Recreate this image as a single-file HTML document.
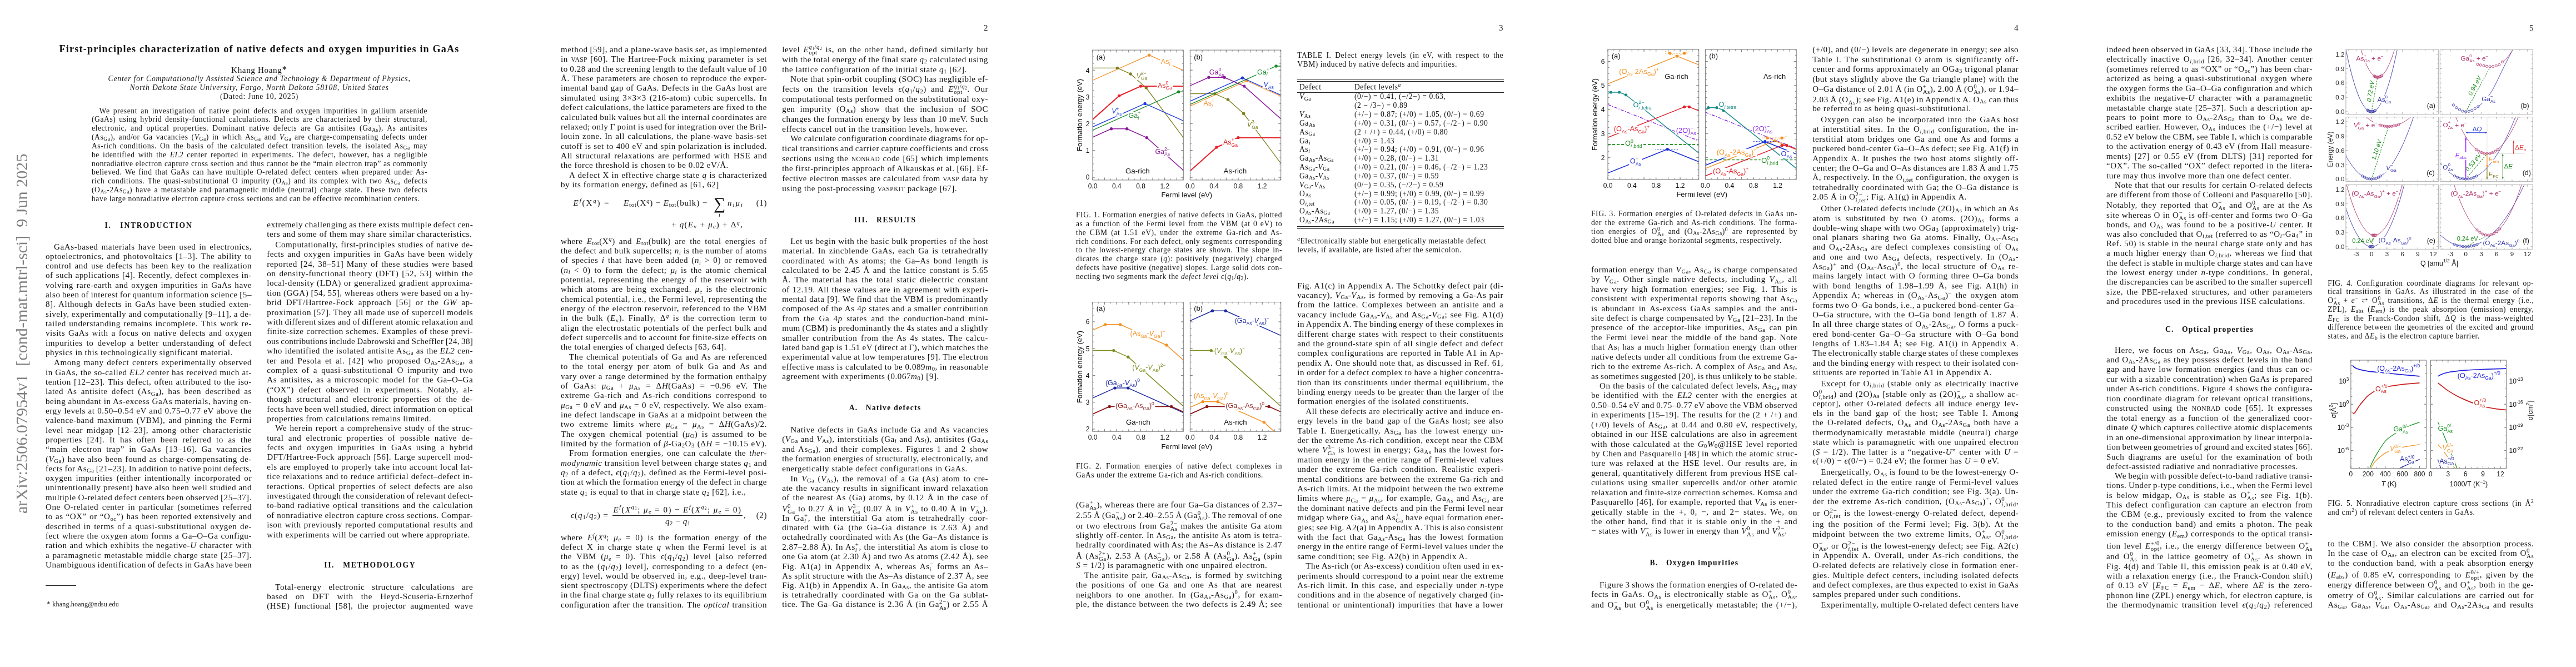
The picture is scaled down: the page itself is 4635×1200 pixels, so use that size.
<!DOCTYPE html><html><head><meta charset="utf-8"><title>paper</title><style>
html,body{margin:0;padding:0;background:#fff}
body{width:4635px;height:1200px;position:relative;overflow:hidden;font-family:"Liberation Serif",serif;color:#111}
.pg{position:absolute;top:0;width:927px;height:1200px;overflow:hidden;will-change:transform}
.l{position:absolute;white-space:nowrap;line-height:0;height:0}
.bd{font-size:15.1px}.sm{font-size:13.6px}.smi{font-size:13.6px;font-style:italic}
.title{font-size:18.1px;font-weight:bold}.sec{font-size:13.6px;font-weight:bold;white-space:pre}
.fn{font-size:12.1px}.sum{font-size:30px}.sub{font-size:10.6px}
sub,sup{font-size:70%;line-height:0;vertical-align:baseline;position:relative}
sub{top:0.22em}sup{top:-0.52em}
sub sub{top:0.2em}sup sub{top:0.2em}
.ss{display:inline-block;vertical-align:baseline;line-height:0;height:0;font-size:72%;text-align:left}
.ss .su,.ss .sb{display:block;height:0;position:relative;white-space:nowrap}
.ss .su{top:-0.55em}.ss .sb{top:0.38em}
.sc{font-size:76%;text-transform:uppercase;letter-spacing:0.4px}
.up{font-style:normal}
.ts{display:inline-block;width:0.15em}
.hr{position:absolute;height:0;border-top:1px solid #222}
i{font-style:italic}
.mk{display:inline-block;width:0;height:0}
svg{position:absolute;overflow:visible}
svg text{font-family:"Liberation Sans",sans-serif}
</style></head><body>
<div class="pg" style="left:0px">
<div class="l sm" style="left:178.60px;top:199.50px;word-spacing:2.449px;letter-spacing:0.55px">We present an investigation of native point defects and oxygen impurities in gallium arsenide</div>
<div class="l sm" style="left:165.00px;top:215.34px;word-spacing:1.959px;letter-spacing:0.55px">(GaAs) using hybrid density-functional calculations. Defects are characterized by their structural,</div>
<div class="l sm" style="left:165.00px;top:231.19px;word-spacing:3.135px;letter-spacing:0.55px">electronic, and optical properties. Dominant native defects are Ga antisites (Ga<sub>As</sub>), As antisites</div>
<div class="l sm" style="left:165.00px;top:247.03px;word-spacing:2.135px;letter-spacing:0.55px">(As<sub>Ga</sub>), and/or Ga vacancies (<i>V</i><sub>Ga</sub>) in which As<sub>Ga</sub> and <i>V</i><sub>Ga</sub> are charge-compensating defects under</div>
<div class="l sm" style="left:165.00px;top:262.86px;word-spacing:2.204px;letter-spacing:0.55px">As-rich conditions. On the basis of the calculated defect transition levels, the isolated As<sub>Ga</sub> may</div>
<div class="l sm" style="left:165.00px;top:278.70px;word-spacing:2.192px;letter-spacing:0.55px">be identified with the <i>EL2</i> center reported in experiments. The defect, however, has a negligible</div>
<div class="l sm" style="left:165.00px;top:294.55px;word-spacing:0.158px;letter-spacing:0.55px">nonradiative electron capture cross section and thus cannot be the “main electron trap” as commonly</div>
<div class="l sm" style="left:165.00px;top:310.39px;word-spacing:1.773px;letter-spacing:0.55px">believed. We find that GaAs can have multiple O-related defect centers when prepared under As-</div>
<div class="l sm" style="left:165.00px;top:326.22px;word-spacing:1.891px;letter-spacing:0.55px">rich conditions. The quasi-substitutional O impurity (O<sub>As</sub>) and its complex with two As<sub>Ga</sub> defects</div>
<div class="l sm" style="left:165.00px;top:342.06px;word-spacing:1.780px;letter-spacing:0.55px">(O<sub>As</sub>-2As<sub>Ga</sub>) have a metastable and paramagnetic middle (neutral) charge state. These two defects</div>
<div class="l sm" style="left:165.00px;top:357.91px;letter-spacing:0.55px">have large nonradiative electron capture cross sections and can be effective recombination centers.</div>
<div class="l bd" style="left:97.10px;top:443.51px;word-spacing:1.762px;letter-spacing:0.55px">GaAs-based materials have been used in electronics,</div>
<div class="l bd" style="left:82.00px;top:460.82px;word-spacing:1.414px;letter-spacing:0.55px">optoelectronics, and photovoltaics [1–3]. The ability to</div>
<div class="l bd" style="left:82.00px;top:478.12px;word-spacing:1.677px;letter-spacing:0.55px">control and use defects has been key to the realization</div>
<div class="l bd" style="left:82.00px;top:495.43px;word-spacing:0.658px;letter-spacing:0.55px">of such applications [4]. Recently, defect complexes in-</div>
<div class="l bd" style="left:82.00px;top:512.75px;word-spacing:1.232px;letter-spacing:0.55px">volving rare-earth and oxygen impurities in GaAs have</div>
<div class="l bd" style="left:82.00px;top:530.06px;letter-spacing:0.547px;word-spacing:-0.800px">also been of interest for quantum information science [5–</div>
<div class="l bd" style="left:82.00px;top:547.36px;word-spacing:1.496px;letter-spacing:0.55px">8]. Although defects in GaAs have been studied exten-</div>
<div class="l bd" style="left:82.00px;top:564.67px;word-spacing:-0.188px;letter-spacing:0.55px">sively, experimentally and computationally [9–11], a de-</div>
<div class="l bd" style="left:82.00px;top:581.97px;word-spacing:1.112px;letter-spacing:0.55px">tailed understanding remains incomplete. This work re-</div>
<div class="l bd" style="left:82.00px;top:599.28px;word-spacing:1.608px;letter-spacing:0.55px">visits GaAs with a focus on native defects and oxygen</div>
<div class="l bd" style="left:82.00px;top:616.60px;word-spacing:2.592px;letter-spacing:0.55px">impurities to develop a better understanding of defect</div>
<div class="l bd" style="left:82.00px;top:633.91px;letter-spacing:0.55px">physics in this technologically significant material.</div>
<div class="l bd" style="left:97.10px;top:652.21px;word-spacing:1.330px;letter-spacing:0.55px">Among many defect centers experimentally observed</div>
<div class="l bd" style="left:82.00px;top:669.54px;word-spacing:0.139px;letter-spacing:0.55px">in GaAs, the so-called <i>EL2</i> center has received much at-</div>
<div class="l bd" style="left:82.00px;top:686.87px;word-spacing:0.818px;letter-spacing:0.55px">tention [12–23]. This defect, often attributed to the iso-</div>
<div class="l bd" style="left:82.00px;top:704.20px;word-spacing:2.928px;letter-spacing:0.55px">lated As antisite defect (As<sub>Ga</sub>), has been described as</div>
<div class="l bd" style="left:82.00px;top:721.53px;word-spacing:0.013px;letter-spacing:0.55px">being abundant in As-excess GaAs materials, having en-</div>
<div class="l bd" style="left:82.00px;top:738.84px;word-spacing:0.335px;letter-spacing:0.55px">ergy levels at 0.50–0.54 eV and 0.75–0.77 eV above the</div>
<div class="l bd" style="left:82.00px;top:756.17px;word-spacing:1.521px;letter-spacing:0.55px">valence-band maximum (VBM), and pinning the Fermi</div>
<div class="l bd" style="left:82.00px;top:773.51px;word-spacing:2.422px;letter-spacing:0.55px">level near midgap [12–23], among other characteristic</div>
<div class="l bd" style="left:82.00px;top:790.84px;word-spacing:4.363px;letter-spacing:0.55px">properties [24]. It has often been referred to as the</div>
<div class="l bd" style="left:82.00px;top:808.17px;word-spacing:3.929px;letter-spacing:0.55px">“main electron trap” in GaAs [13–16]. Ga vacancies</div>
<div class="l bd" style="left:82.00px;top:825.50px;word-spacing:0.951px;letter-spacing:0.55px">(<i>V</i><sub>Ga</sub>) have also been found as charge-compensating de-</div>
<div class="l bd" style="left:82.00px;top:842.81px;letter-spacing:0.502px;word-spacing:-0.800px">fects for As<sub>Ga</sub> [21–23]. In addition to native point defects,</div>
<div class="l bd" style="left:82.00px;top:860.14px;word-spacing:2.341px;letter-spacing:0.55px">oxygen impurities (either intentionally incorporated or</div>
<div class="l bd" style="left:82.00px;top:877.47px;word-spacing:0.156px;letter-spacing:0.55px">unintentionally present) have also been well studied and</div>
<div class="l bd" style="left:82.00px;top:894.82px;word-spacing:-0.646px;letter-spacing:0.55px">multiple O-related defect centers been observed [25–37].</div>
<div class="l bd" style="left:82.00px;top:912.15px;word-spacing:2.125px;letter-spacing:0.55px">One O-related center in particular (sometimes referred</div>
<div class="l bd" style="left:82.00px;top:929.46px;word-spacing:0.722px;letter-spacing:0.55px">to as “OX” or “O<sub>oc</sub>”) has been reported extensively and</div>
<div class="l bd" style="left:82.00px;top:946.79px;word-spacing:1.431px;letter-spacing:0.55px">described in terms of a quasi-substitutional oxygen de-</div>
<div class="l bd" style="left:82.00px;top:964.12px;word-spacing:0.746px;letter-spacing:0.55px">fect where the oxygen atom forms a Ga–O–Ga configu-</div>
<div class="l bd" style="left:82.00px;top:981.45px;word-spacing:0.719px;letter-spacing:0.55px">ration and which exhibits the negative-<i>U</i> character with</div>
<div class="l bd" style="left:82.00px;top:998.77px;word-spacing:0.839px;letter-spacing:0.55px">a paramagnetic metastable middle charge state [25–37].</div>
<div class="l bd" style="left:82.00px;top:1016.10px;letter-spacing:0.484px;word-spacing:-0.800px">Unambiguous identification of defects in GaAs have been</div>
<div class="l bd" style="left:480.20px;top:403.60px;letter-spacing:0.503px;word-spacing:-0.800px">extremely challenging as there exists multiple defect cen-</div>
<div class="l bd" style="left:480.20px;top:421.01px;letter-spacing:0.55px">ters and some of them may share similar characteristics.</div>
<div class="l bd" style="left:495.30px;top:439.82px;word-spacing:0.602px;letter-spacing:0.55px">Computationally, first-principles studies of native de-</div>
<div class="l bd" style="left:480.20px;top:457.20px;word-spacing:1.512px;letter-spacing:0.55px">fects and oxygen impurities in GaAs have been widely</div>
<div class="l bd" style="left:480.20px;top:474.59px;word-spacing:1.287px;letter-spacing:0.55px">reported [24, 38–51] Many of these studies were based</div>
<div class="l bd" style="left:480.20px;top:491.99px;word-spacing:1.688px;letter-spacing:0.55px">on density-functional theory (DFT) [52, 53] within the</div>
<div class="l bd" style="left:480.20px;top:509.38px;word-spacing:0.450px;letter-spacing:0.55px">local-density (LDA) or generalized gradient approxima-</div>
<div class="l bd" style="left:480.20px;top:526.78px;word-spacing:-0.295px;letter-spacing:0.55px">tion (GGA) [54, 55], whereas others were based on a hy-</div>
<div class="l bd" style="left:480.20px;top:544.18px;word-spacing:3.703px;letter-spacing:0.55px">brid DFT/Hartree-Fock approach [56] or the <i>GW</i> ap-</div>
<div class="l bd" style="left:480.20px;top:561.56px;word-spacing:-0.180px;letter-spacing:0.55px">proximation [57]. They all made use of supercell models</div>
<div class="l bd" style="left:480.20px;top:578.95px;letter-spacing:0.510px;word-spacing:-0.800px">with different sizes and of different atomic relaxation and</div>
<div class="l bd" style="left:480.20px;top:596.35px;word-spacing:0.328px;letter-spacing:0.55px">finite-size correction schemes. Examples of these previ-</div>
<div class="l bd" style="left:480.20px;top:613.75px;letter-spacing:0.311px;word-spacing:-0.800px">ous contributions include Dabrowski and Scheffler [24, 38]</div>
<div class="l bd" style="left:480.20px;top:631.14px;word-spacing:0.273px;letter-spacing:0.55px">who identified the isolated antisite As<sub>Ga</sub> as the <i>EL2</i> cen-</div>
<div class="l bd" style="left:480.20px;top:648.54px;word-spacing:2.719px;letter-spacing:0.55px">ter and Pesola et al. [42] who proposed O<sub>As</sub>-2As<sub>Ga</sub>, a</div>
<div class="l bd" style="left:480.20px;top:665.92px;word-spacing:2.741px;letter-spacing:0.55px">complex of a quasi-substitutional O impurity and two</div>
<div class="l bd" style="left:480.20px;top:683.31px;word-spacing:1.773px;letter-spacing:0.55px">As antisites, as a microscopic model for the Ga–O–Ga</div>
<div class="l bd" style="left:480.20px;top:700.71px;word-spacing:4.513px;letter-spacing:0.55px">(“OX”) defect observed in experiments. Notably, al-</div>
<div class="l bd" style="left:480.20px;top:718.09px;word-spacing:3.431px;letter-spacing:0.55px">though structural and electronic properties of the de-</div>
<div class="l bd" style="left:480.20px;top:735.50px;letter-spacing:0.451px;word-spacing:-0.800px">fects have been well studied, direct information on optical</div>
<div class="l bd" style="left:480.20px;top:752.90px;letter-spacing:0.55px">properties from calculations remains limited.</div>
<div class="l bd" style="left:495.30px;top:770.28px;word-spacing:0.933px;letter-spacing:0.55px">We herein report a comprehensive study of the struc-</div>
<div class="l bd" style="left:480.20px;top:787.67px;word-spacing:3.911px;letter-spacing:0.55px">tural and electronic properties of possible native de-</div>
<div class="l bd" style="left:480.20px;top:805.07px;word-spacing:4.057px;letter-spacing:0.55px">fects and oxygen impurities in GaAs using a hybrid</div>
<div class="l bd" style="left:480.20px;top:822.45px;word-spacing:0.975px;letter-spacing:0.55px">DFT/Hartree-Fock approach [56]. Large supercell mod-</div>
<div class="l bd" style="left:480.20px;top:839.85px;word-spacing:0.344px;letter-spacing:0.55px">els are employed to properly take into account local lat-</div>
<div class="l bd" style="left:480.20px;top:857.26px;word-spacing:0.172px;letter-spacing:0.55px">tice relaxations and to reduce artificial defect–defect in-</div>
<div class="l bd" style="left:480.20px;top:874.64px;word-spacing:1.942px;letter-spacing:0.55px">teractions. Optical properties of select defects are also</div>
<div class="l bd" style="left:480.20px;top:892.04px;letter-spacing:0.525px;word-spacing:-0.800px">investigated through the consideration of relevant defect-</div>
<div class="l bd" style="left:480.20px;top:909.43px;word-spacing:1.281px;letter-spacing:0.55px">to-band radiative optical transitions and the calculation</div>
<div class="l bd" style="left:480.20px;top:926.81px;word-spacing:-0.042px;letter-spacing:0.55px">of nonradiative electron capture cross sections. Compar-</div>
<div class="l bd" style="left:480.20px;top:944.21px;word-spacing:0.758px;letter-spacing:0.55px">ison with previously reported computational results and</div>
<div class="l bd" style="left:480.20px;top:961.60px;letter-spacing:0.55px">with experiments will be carried out where appropriate.</div>
<div class="l bd" style="left:495.30px;top:1055.71px;word-spacing:8.467px;letter-spacing:0.55px">Total-energy electronic structure calculations are</div>
<div class="l bd" style="left:480.20px;top:1072.91px;word-spacing:10.037px;letter-spacing:0.55px">based on DFT with the Heyd-Scuseria-Ernzerhof</div>
<div class="l bd" style="left:480.20px;top:1090.10px;word-spacing:3.440px;letter-spacing:0.55px">(HSE) functional [58], the projector augmented wave</div>
<div class="l title" style="left:106.60px;top:87.52px;letter-spacing:1.189px">First-principles characterization of native defects and oxygen impurities in GaAs</div>
<div class="l bd" style="left:416.10px;top:126.01px;letter-spacing:0.644px">Khang Hoang<sup>∗</sup></div>
<div class="l smi" style="left:194.60px;top:142.41px;letter-spacing:0.800px">Center for Computationally Assisted Science and Technology &amp; Department of Physics,</div>
<div class="l smi" style="left:233.60px;top:158.31px;letter-spacing:0.869px">North Dakota State University, Fargo, North Dakota 58108, United States</div>
<div class="l sm" style="left:396.10px;top:174.20px;letter-spacing:0.746px">(Dated: June 10, 2025)</div>
<div class="l sec" style="left:188.50px;top:405.50px;letter-spacing:1.785px">I.   INTRODUCTION</div>
<div class="l sec" style="left:583.20px;top:1017.00px;letter-spacing:1.664px">II.   METHODOLOGY</div>
<div class="l fn" style="left:84.00px;top:1087.01px;letter-spacing:0.153px"><sup>∗</sup> khang.hoang@ndsu.edu</div>
<div class="hr" style="left:82.0px;top:1053.10px;width:54.6px;border-top-width:1.0px"></div>
<svg width="927" height="1200" viewBox="0 0 927 1200" style="left:0;top:0"><text xml:space="preserve" x="49" y="924" transform="rotate(-90 49 924)" font-size="30.3" letter-spacing="-0.075" fill="#808080" style="font-family:'Liberation Serif',serif">arXiv:2506.07954v1  [cond-mat.mtrl-sci]  9 Jun 2025</text></svg>
</div>
<div class="pg" style="left:927px">
<div class="l bd" style="left:82.00px;top:89.01px;word-spacing:-0.475px;letter-spacing:0.55px">method [59], and a plane-wave basis set, as implemented</div>
<div class="l bd" style="left:82.00px;top:106.37px;word-spacing:1.199px;letter-spacing:0.55px">in <span class="sc">vasp</span> [60]. The Hartree-Fock mixing parameter is set</div>
<div class="l bd" style="left:82.00px;top:123.72px;letter-spacing:0.541px;word-spacing:-0.800px">to 0.28 and the screening length to the default value of 10</div>
<div class="l bd" style="left:82.00px;top:141.08px;word-spacing:0.670px;letter-spacing:0.55px">Å. These parameters are chosen to reproduce the exper-</div>
<div class="l bd" style="left:82.00px;top:158.43px;word-spacing:0.220px;letter-spacing:0.55px">imental band gap of GaAs. Defects in the GaAs host are</div>
<div class="l bd" style="left:82.00px;top:175.79px;word-spacing:1.810px;letter-spacing:0.55px">simulated using 3×3×3 (216-atom) cubic supercells. In</div>
<div class="l bd" style="left:82.00px;top:193.14px;word-spacing:-0.756px;letter-spacing:0.55px">defect calculations, the lattice parameters are fixed to the</div>
<div class="l bd" style="left:82.00px;top:210.51px;word-spacing:-0.641px;letter-spacing:0.55px">calculated bulk values but all the internal coordinates are</div>
<div class="l bd" style="left:82.00px;top:227.87px;letter-spacing:0.526px;word-spacing:-0.800px">relaxed; only Γ point is used for integration over the Bril-</div>
<div class="l bd" style="left:82.00px;top:245.22px;word-spacing:0.920px;letter-spacing:0.55px">louin zone. In all calculations, the plane-wave basis-set</div>
<div class="l bd" style="left:82.00px;top:262.58px;word-spacing:0.220px;letter-spacing:0.55px">cutoff is set to 400 eV and spin polarization is included.</div>
<div class="l bd" style="left:82.00px;top:279.93px;word-spacing:2.071px;letter-spacing:0.55px">All structural relaxations are performed with HSE and</div>
<div class="l bd" style="left:82.00px;top:297.29px;letter-spacing:0.55px">the force threshold is chosen to be 0.02 eV/Å.</div>
<div class="l bd" style="left:97.10px;top:314.64px;word-spacing:0.437px;letter-spacing:0.55px">A defect X in effective charge state <i>q</i> is characterized</div>
<div class="l bd" style="left:82.00px;top:332.01px;letter-spacing:0.55px">by its formation energy, defined as [61, 62]</div>
<div class="l bd" style="left:82.00px;top:433.51px;word-spacing:2.709px;letter-spacing:0.55px">where <i>E</i><sub>tot</sub>(X<sup><i>q</i></sup>) and <i>E</i><sub>tot</sub>(bulk) are the total energies of</div>
<div class="l bd" style="left:82.00px;top:450.87px;word-spacing:-0.033px;letter-spacing:0.55px">the defect and bulk supercells; <i>n</i><sub><i>i</i></sub> is the number of atoms</div>
<div class="l bd" style="left:82.00px;top:468.23px;word-spacing:2.028px;letter-spacing:0.55px">of species <i>i</i> that have been added (<i>n</i><sub><i>i</i></sub> &gt; 0) or removed</div>
<div class="l bd" style="left:82.00px;top:485.58px;word-spacing:2.544px;letter-spacing:0.55px">(<i>n</i><sub><i>i</i></sub> &lt; 0) to form the defect; <i>μ</i><sub><i>i</i></sub> is the atomic chemical</div>
<div class="l bd" style="left:82.00px;top:502.94px;word-spacing:1.696px;letter-spacing:0.55px">potential, representing the energy of the reservoir with</div>
<div class="l bd" style="left:82.00px;top:520.29px;word-spacing:2.268px;letter-spacing:0.55px">which atoms are being exchanged. <i>μ</i><sub><i>e</i></sub> is the electronic</div>
<div class="l bd" style="left:82.00px;top:537.65px;word-spacing:-0.254px;letter-spacing:0.55px">chemical potential, i.e., the Fermi level, representing the</div>
<div class="l bd" style="left:82.00px;top:555.01px;word-spacing:0.672px;letter-spacing:0.55px">energy of the electron reservoir, referenced to the VBM</div>
<div class="l bd" style="left:82.00px;top:572.36px;word-spacing:2.798px;letter-spacing:0.55px">in the bulk (<i>E</i><sub>v</sub>). Finally, Δ<sup><i>q</i></sup> is the correction term to</div>
<div class="l bd" style="left:82.00px;top:589.73px;word-spacing:0.895px;letter-spacing:0.55px">align the electrostatic potentials of the perfect bulk and</div>
<div class="l bd" style="left:82.00px;top:607.09px;word-spacing:-0.289px;letter-spacing:0.55px">defect supercells and to account for finite-size effects on</div>
<div class="l bd" style="left:82.00px;top:624.44px;letter-spacing:0.55px">the total energies of charged defects [63, 64].</div>
<div class="l bd" style="left:97.10px;top:641.80px;word-spacing:1.378px;letter-spacing:0.55px">The chemical potentials of Ga and As are referenced</div>
<div class="l bd" style="left:82.00px;top:659.16px;word-spacing:3.473px;letter-spacing:0.55px">to the total energy per atom of bulk Ga and As and</div>
<div class="l bd" style="left:82.00px;top:676.51px;word-spacing:0.541px;letter-spacing:0.55px">vary over a range determined by the formation enthalpy</div>
<div class="l bd" style="left:82.00px;top:693.87px;word-spacing:4.998px;letter-spacing:0.55px">of GaAs: <i>μ</i><sub>Ga</sub> + <i>μ</i><sub>As</sub> = Δ<i>H</i>(GaAs) = −0.96 eV. The</div>
<div class="l bd" style="left:82.00px;top:711.22px;word-spacing:2.857px;letter-spacing:0.55px">extreme Ga-rich and As-rich conditions correspond to</div>
<div class="l bd" style="left:82.00px;top:728.60px;word-spacing:0.741px;letter-spacing:0.55px"><i>μ</i><sub>Ga</sub> = 0 eV and <i>μ</i><sub>As</sub> = 0 eV, respectively. We also exam-</div>
<div class="l bd" style="left:82.00px;top:745.95px;word-spacing:0.620px;letter-spacing:0.55px">ine defect landscape in GaAs at a midpoint between the</div>
<div class="l bd" style="left:82.00px;top:763.31px;word-spacing:4.383px;letter-spacing:0.55px">two extreme limits where <i>μ</i><sub>Ga</sub> = <i>μ</i><sub>As</sub> = Δ<i>H</i>(GaAs)/2.</div>
<div class="l bd" style="left:82.00px;top:780.66px;word-spacing:3.031px;letter-spacing:0.55px">The oxygen chemical potential (<i>μ</i><sub>O</sub>) is assumed to be</div>
<div class="l bd" style="left:82.00px;top:798.02px;word-spacing:0.536px;letter-spacing:0.55px">limited by the formation of <i>β</i>-Ga<sub>2</sub>O<sub>3</sub> (Δ<i>H</i> = −10.15 eV).</div>
<div class="l bd" style="left:97.10px;top:815.38px;word-spacing:1.573px;letter-spacing:0.55px">From formation energies, one can calculate the <i>ther-</i></div>
<div class="l bd" style="left:82.00px;top:832.73px;word-spacing:-0.004px;letter-spacing:0.55px"><i>modynamic</i> transition level between charge states <i>q</i><sub>1</sub> and</div>
<div class="l bd" style="left:82.00px;top:850.09px;word-spacing:0.628px;letter-spacing:0.55px"><i>q</i><sub>2</sub> of a defect, <i>ϵ</i>(<i>q</i><sub>1</sub>/<i>q</i><sub>2</sub>), defined as the Fermi-level posi-</div>
<div class="l bd" style="left:82.00px;top:867.44px;letter-spacing:0.546px;word-spacing:-0.800px">tion at which the formation energy of the defect in charge</div>
<div class="l bd" style="left:82.00px;top:884.82px;letter-spacing:0.55px">state <i>q</i><sub>1</sub> is equal to that in charge state <i>q</i><sub>2</sub> [62], i.e.,</div>
<div class="l bd" style="left:82.00px;top:967.01px;word-spacing:3.919px;letter-spacing:0.55px">where <i>E</i><sup><i>f</i></sup>(<i>X</i><sup><i>q</i></sup>; <i>μ</i><sub><i>e</i></sub> = 0) is the formation energy of the</div>
<div class="l bd" style="left:82.00px;top:984.22px;word-spacing:2.561px;letter-spacing:0.55px">defect X in charge state <i>q</i> when the Fermi level is at</div>
<div class="l bd" style="left:82.00px;top:1001.43px;word-spacing:3.849px;letter-spacing:0.55px">the VBM (<i>μ</i><sub><i>e</i></sub> = 0). This <i>ϵ</i>(<i>q</i><sub>1</sub>/<i>q</i><sub>2</sub>) level [also referred</div>
<div class="l bd" style="left:82.00px;top:1018.64px;word-spacing:2.160px;letter-spacing:0.55px">to as the (<i>q</i><sub>1</sub>/<i>q</i><sub>2</sub>) level], corresponding to a defect (en-</div>
<div class="l bd" style="left:82.00px;top:1035.87px;word-spacing:0.736px;letter-spacing:0.55px">ergy) level, would be observed in, e.g., deep-level tran-</div>
<div class="l bd" style="left:82.00px;top:1053.08px;word-spacing:-0.167px;letter-spacing:0.55px">sient spectroscopy (DLTS) experiments where the defect</div>
<div class="l bd" style="left:82.00px;top:1070.29px;word-spacing:-0.628px;letter-spacing:0.55px">in the final charge state <i>q</i><sub>2</sub> fully relaxes to its equilibrium</div>
<div class="l bd" style="left:82.00px;top:1087.51px;word-spacing:1.021px;letter-spacing:0.55px">configuration after the transition. The <i>optical</i> transition</div>
<div class="l bd" style="left:480.20px;top:89.01px;word-spacing:1.766px;letter-spacing:0.55px">level <i>E</i><span class="ss"><span class="su"><i>q</i><sub>1</sub>/<i>q</i><sub>2</sub></span><span class="sb">opt</span></span> is, on the other hand, defined similarly but</div>
<div class="l bd" style="left:480.20px;top:106.83px;word-spacing:-0.570px;letter-spacing:0.55px">with the total energy of the final state <i>q</i><sub>2</sub> calculated using</div>
<div class="l bd" style="left:480.20px;top:124.64px;letter-spacing:0.55px">the lattice configuration of the initial state <i>q</i><sub>1</sub> [62].</div>
<div class="l bd" style="left:495.30px;top:142.47px;word-spacing:-0.050px;letter-spacing:0.55px">Note that spin-orbit coupling (SOC) has negligible ef-</div>
<div class="l bd" style="left:480.20px;top:160.29px;word-spacing:3.807px;letter-spacing:0.55px">fects on the transition levels <i>ϵ</i>(<i>q</i><sub>1</sub>/<i>q</i><sub>2</sub>) and <i>E</i><span class="ss"><span class="su"><i>q</i><sub>1</sub>/<i>q</i><sub>2</sub></span><span class="sb">opt</span></span>. Our</div>
<div class="l bd" style="left:480.20px;top:178.12px;word-spacing:-0.172px;letter-spacing:0.55px">computational tests performed on the substitutional oxy-</div>
<div class="l bd" style="left:480.20px;top:195.93px;word-spacing:4.645px;letter-spacing:0.55px">gen impurity (O<sub>As</sub>) show that the inclusion of SOC</div>
<div class="l bd" style="left:480.20px;top:213.76px;word-spacing:-0.023px;letter-spacing:0.55px">changes the formation energy by less than 10 meV. Such</div>
<div class="l bd" style="left:480.20px;top:231.58px;letter-spacing:0.55px">effects cancel out in the transition levels, however.</div>
<div class="l bd" style="left:495.30px;top:249.39px;letter-spacing:0.493px;word-spacing:-0.800px">We calculate configuration coordinate diagrams for op-</div>
<div class="l bd" style="left:480.20px;top:267.22px;letter-spacing:0.547px;word-spacing:-0.800px">tical transitions and carrier capture coefficients and cross</div>
<div class="l bd" style="left:480.20px;top:285.04px;word-spacing:1.011px;letter-spacing:0.55px">sections using the <span class="sc">nonrad</span> code [65] which implements</div>
<div class="l bd" style="left:480.20px;top:302.87px;word-spacing:-0.328px;letter-spacing:0.55px">the first-principles approach of Alkauskas et al. [66]. Ef-</div>
<div class="l bd" style="left:480.20px;top:320.68px;word-spacing:0.145px;letter-spacing:0.55px">fective electron masses are calculated from <span class="sc">vasp</span> data by</div>
<div class="l bd" style="left:480.20px;top:338.51px;letter-spacing:0.55px">using the post-processing <span class="sc">vaspkit</span> package [67].</div>
<div class="l bd" style="left:495.30px;top:433.82px;word-spacing:0.120px;letter-spacing:0.55px">Let us begin with the basic bulk properties of the host</div>
<div class="l bd" style="left:480.20px;top:451.17px;word-spacing:1.998px;letter-spacing:0.55px">material. In zincblende GaAs, each Ga is tetrahedrally</div>
<div class="l bd" style="left:480.20px;top:468.55px;word-spacing:2.518px;letter-spacing:0.55px">coordinated with As atoms; the Ga–As bond length is</div>
<div class="l bd" style="left:480.20px;top:485.92px;word-spacing:1.409px;letter-spacing:0.55px">calculated to be 2.45 Å and the lattice constant is 5.65</div>
<div class="l bd" style="left:480.20px;top:503.29px;word-spacing:2.377px;letter-spacing:0.55px">Å. The material has the total static dielectric constant</div>
<div class="l bd" style="left:480.20px;top:520.67px;word-spacing:0.590px;letter-spacing:0.55px">of 12.19. All these values are in agreement with experi-</div>
<div class="l bd" style="left:480.20px;top:538.04px;word-spacing:0.299px;letter-spacing:0.55px">mental data [9]. We find that the VBM is predominantly</div>
<div class="l bd" style="left:480.20px;top:555.41px;word-spacing:0.365px;letter-spacing:0.55px">composed of the As 4<i>p</i> states and a smaller contribution</div>
<div class="l bd" style="left:480.20px;top:572.77px;word-spacing:3.045px;letter-spacing:0.55px">from the Ga 4<i>p</i> states and the conduction-band mini-</div>
<div class="l bd" style="left:480.20px;top:590.14px;word-spacing:-0.571px;letter-spacing:0.55px">mum (CBM) is predominantly the 4<i>s</i> states and a slightly</div>
<div class="l bd" style="left:480.20px;top:607.53px;word-spacing:2.297px;letter-spacing:0.55px">smaller contribution from the As 4<i>s</i> states. The calcu-</div>
<div class="l bd" style="left:480.20px;top:624.89px;letter-spacing:0.542px;word-spacing:-0.800px">lated band gap is 1.51 eV (direct at Γ), which matches the</div>
<div class="l bd" style="left:480.20px;top:642.26px;word-spacing:-0.335px;letter-spacing:0.55px">experimental value at low temperatures [9]. The electron</div>
<div class="l bd" style="left:480.20px;top:659.65px;word-spacing:-0.084px;letter-spacing:0.55px">effective mass is calculated to be 0.089<i>m</i><sub>0</sub>, in reasonable</div>
<div class="l bd" style="left:480.20px;top:677.01px;letter-spacing:0.55px">agreement with experiments (0.067<i>m</i><sub>0</sub>) [9].</div>
<div class="l bd" style="left:495.30px;top:772.51px;word-spacing:1.337px;letter-spacing:0.55px">Native defects in GaAs include Ga and As vacancies</div>
<div class="l bd" style="left:480.20px;top:790.10px;word-spacing:0.527px;letter-spacing:0.55px">(<i>V</i><sub>Ga</sub> and <i>V</i><sub>As</sub>), interstitials (Ga<sub><i>i</i></sub> and As<sub><i>i</i></sub>), antisites (Ga<sub>As</sub></div>
<div class="l bd" style="left:480.20px;top:807.71px;word-spacing:1.974px;letter-spacing:0.55px">and As<sub>Ga</sub>), and their complexes. Figures 1 and 2 show</div>
<div class="l bd" style="left:480.20px;top:825.32px;word-spacing:-0.482px;letter-spacing:0.55px">the formation energies of structurally, electronically, and</div>
<div class="l bd" style="left:480.20px;top:842.91px;letter-spacing:0.55px">energetically stable defect configurations in GaAs.</div>
<div class="l bd" style="left:495.30px;top:860.51px;word-spacing:1.857px;letter-spacing:0.55px">In <i>V</i><sub>Ga</sub> (<i>V</i><sub>As</sub>), the removal of a Ga (As) atom to cre-</div>
<div class="l bd" style="left:480.20px;top:877.91px;word-spacing:1.598px;letter-spacing:0.55px">ate the vacancy results in significant inward relaxation</div>
<div class="l bd" style="left:480.20px;top:895.32px;word-spacing:1.475px;letter-spacing:0.55px">of the nearest As (Ga) atoms, by 0.12 Å in the case of</div>
<div class="l bd" style="left:480.20px;top:914.51px;word-spacing:1.254px;letter-spacing:0.55px"><i>V</i><span class="ss"><span class="su">0</span><span class="sb">Ga</span></span> to 0.27 Å in <i>V</i><span class="ss"><span class="su">3−</span><span class="sb">Ga</span></span> (0.07 Å in <i>V</i><span class="ss"><span class="su">+</span><span class="sb">As</span></span> to 0.40 Å in <i>V</i><span class="ss"><span class="su">−</span><span class="sb">As</span></span>).</div>
<div class="l bd" style="left:480.20px;top:931.60px;word-spacing:3.146px;letter-spacing:0.55px">In Ga<span class="ss"><span class="su">+</span><span class="sb"><i>i</i></span></span>, the interstitial Ga atom is tetrahedrally coor-</div>
<div class="l bd" style="left:480.20px;top:949.05px;word-spacing:3.424px;letter-spacing:0.55px">dinated with Ga (the Ga–Ga distance is 2.63 Å) and</div>
<div class="l bd" style="left:480.20px;top:966.49px;word-spacing:0.116px;letter-spacing:0.55px">octahedrally coordinated with As (the Ga–As distance is</div>
<div class="l bd" style="left:480.20px;top:983.93px;word-spacing:0.428px;letter-spacing:0.55px">2.87–2.88 Å). In As<span class="ss"><span class="su">+</span><span class="sb"><i>i</i></span></span>, the interstitial As atom is close to</div>
<div class="l bd" style="left:480.20px;top:1001.37px;word-spacing:0.112px;letter-spacing:0.55px">one Ga atom (at 2.30 Å) and two As atoms (2.42 Å), see</div>
<div class="l bd" style="left:480.20px;top:1018.82px;word-spacing:2.500px;letter-spacing:0.55px">Fig. A1(a) in Appendix A, whereas As<span class="ss"><span class="su">−</span><span class="sb"><i>i</i></span></span> forms an As–</div>
<div class="l bd" style="left:480.20px;top:1035.96px;word-spacing:-0.159px;letter-spacing:0.55px">As split structure with the As–As distance of 2.37 Å, see</div>
<div class="l bd" style="left:480.20px;top:1053.10px;word-spacing:0.411px;letter-spacing:0.55px">Fig. A1(b) in Appendix A. In Ga<sub>As</sub>, the antisite Ga atom</div>
<div class="l bd" style="left:480.20px;top:1070.26px;word-spacing:2.109px;letter-spacing:0.55px">is tetrahedrally coordinated with Ga on the Ga sublat-</div>
<div class="l bd" style="left:480.20px;top:1087.41px;word-spacing:0.918px;letter-spacing:0.55px">tice. The Ga–Ga distance is 2.36 Å (in Ga<span class="ss"><span class="su">2−</span><span class="sb">As</span></span>) or 2.55 Å</div>
<div class="l bd" style="left:843.09px;top:49.82px;letter-spacing:0.55px">2</div>
<div class="l sec" style="left:609.70px;top:396.20px;letter-spacing:1.559px">III.   RESULTS</div>
<div class="l sec" style="left:600.70px;top:734.31px;letter-spacing:1.339px">A.   Native defects</div>
<div class="l bd" style="left:104.50px;top:365.01px;letter-spacing:1.909px"><i>E</i><sup><i>f</i></sup>(X<sup><i>q</i></sup>) =</div>
<div class="l bd" style="left:195.00px;top:365.01px;letter-spacing:0.814px"><i>E</i><sub>tot</sub>(X<sup><i>q</i></sup>) − <i>E</i><sub>tot</sub>(bulk) −</div>
<div class="l bd" style="left:382.00px;top:365.01px;letter-spacing:1.988px"><i>n</i><sub><i>i</i></sub><i>μ</i><sub><i>i</i></sub></div>
<div class="l sum" style="left:357.00px;top:365.50px">∑</div>
<div class="l sub" style="left:366.00px;top:387.02px"><i>i</i></div>
<div class="l bd" style="left:433.75px;top:365.01px;letter-spacing:0.55px">(1)</div>
<div class="l bd" style="left:281.00px;top:404.01px;letter-spacing:1.187px">+ <i>q</i>(<i>E</i><sub>v</sub> + <i>μ</i><sub><i>e</i></sub>) + Δ<sup><i>q</i></sup>,</div>
<div class="l bd" style="left:100.00px;top:926.51px;letter-spacing:0.966px"><i>ϵ</i>(<i>q</i><sub>1</sub>/<i>q</i><sub>2</sub>) =</div>
<div class="l bd" style="left:176.50px;top:916.51px;letter-spacing:1.402px"><i>E</i><sup><i>f</i></sup>(<i>X</i><sup><i>q</i><sub>1</sub></sup>; <i>μ</i><sub><i>e</i></sub> = 0) − <i>E</i><sup><i>f</i></sup>(<i>X</i><sup><i>q</i><sub>2</sub></sup>; <i>μ</i><sub><i>e</i></sub> = 0)</div>
<div class="l bd" style="left:270.00px;top:937.51px;letter-spacing:0.55px"><i>q</i><sub>2</sub> − <i>q</i><sub>1</sub></div>
<div class="hr" style="left:175.0px;top:926.80px;width:234.0px;border-top-width:1.0px"></div>
<div class="l bd" style="left:411.00px;top:926.51px;letter-spacing:0.55px">,</div>
<div class="l bd" style="left:433.75px;top:926.51px;letter-spacing:0.55px">(2)</div>
</div>
<div class="pg" style="left:1854px">
<div class="l sm" style="left:82.00px;top:387.00px;word-spacing:0.441px;letter-spacing:0.55px">FIG. 1. Formation energies of native defects in GaAs, plotted</div>
<div class="l sm" style="left:82.00px;top:402.85px;word-spacing:1.507px;letter-spacing:0.55px">as a function of the Fermi level from the VBM (at 0 eV) to</div>
<div class="l sm" style="left:82.00px;top:418.69px;word-spacing:2.667px;letter-spacing:0.55px">the CBM (at 1.51 eV), under the extreme Ga-rich and As-</div>
<div class="l sm" style="left:82.00px;top:434.53px;word-spacing:-0.060px;letter-spacing:0.55px">rich conditions. For each defect, only segments corresponding</div>
<div class="l sm" style="left:82.00px;top:450.39px;word-spacing:1.964px;letter-spacing:0.55px">to the lowest-energy charge states are shown. The slope in-</div>
<div class="l sm" style="left:82.00px;top:466.23px;word-spacing:2.388px;letter-spacing:0.55px">dicates the charge state (<i>q</i>): positively (negatively) charged</div>
<div class="l sm" style="left:82.00px;top:482.06px;word-spacing:0.666px;letter-spacing:0.55px">defects have positive (negative) slopes. Large solid dots con-</div>
<div class="l sm" style="left:82.00px;top:497.91px;letter-spacing:0.55px">necting two segments mark the <i>defect level</i> <i>ϵ</i>(<i>q</i><sub>1</sub>/<i>q</i><sub>2</sub>).</div>
<div class="l sm" style="left:82.00px;top:839.00px;word-spacing:3.672px;letter-spacing:0.55px">FIG. 2. Formation energies of native defect complexes in</div>
<div class="l sm" style="left:82.00px;top:854.81px;letter-spacing:0.55px">GaAs under the extreme Ga-rich and As-rich conditions.</div>
<div class="l bd" style="left:82.00px;top:908.01px;word-spacing:-0.092px;letter-spacing:0.55px">(Ga<span class="ss"><span class="su">+</span><span class="sb">As</span></span>), whereas there are four Ga–Ga distances of 2.37–</div>
<div class="l bd" style="left:82.00px;top:927.01px;letter-spacing:0.543px;word-spacing:-0.800px">2.55 Å (Ga<span class="ss"><span class="su">−</span><span class="sb">As</span></span>) or 2.40–2.55 Å (Ga<span class="ss"><span class="su">0</span><span class="sb">As</span></span>). The removal of one</div>
<div class="l bd" style="left:82.00px;top:945.51px;word-spacing:1.200px;letter-spacing:0.55px">or two electrons from Ga<span class="ss"><span class="su">2−</span><span class="sb">As</span></span> makes the antisite Ga atom</div>
<div class="l bd" style="left:82.00px;top:963.01px;word-spacing:0.212px;letter-spacing:0.55px">slightly off-center. In As<sub>Ga</sub>, the antisite As atom is tetra-</div>
<div class="l bd" style="left:82.00px;top:980.32px;word-spacing:-0.287px;letter-spacing:0.55px">hedrally coordinated with As; the As–As distance is 2.47</div>
<div class="l bd" style="left:82.00px;top:999.51px;word-spacing:1.739px;letter-spacing:0.55px">Å (As<span class="ss"><span class="su">2+</span><span class="sb">Ga</span></span>), 2.53 Å (As<span class="ss"><span class="su">+</span><span class="sb">Ga</span></span>), or 2.58 Å (As<span class="ss"><span class="su">0</span><span class="sb">Ga</span></span>). As<span class="ss"><span class="su">+</span><span class="sb">Ga</span></span> (spin</div>
<div class="l bd" style="left:82.00px;top:1016.51px;letter-spacing:0.55px"><i>S</i> = 1/2) is paramagnetic with one unpaired electron.</div>
<div class="l bd" style="left:97.10px;top:1035.01px;word-spacing:1.785px;letter-spacing:0.55px">The antisite pair, Ga<sub>As</sub>-As<sub>Ga</sub>, is formed by switching</div>
<div class="l bd" style="left:82.00px;top:1052.21px;word-spacing:3.697px;letter-spacing:0.55px">the positions of one Ga and one As that are nearest</div>
<div class="l bd" style="left:82.00px;top:1069.51px;word-spacing:3.462px;letter-spacing:0.55px">neighbors to one another. In (Ga<sub>As</sub>-As<sub>Ga</sub>)<sup>0</sup>, for exam-</div>
<div class="l bd" style="left:82.00px;top:1086.60px;word-spacing:0.741px;letter-spacing:0.55px">ple, the distance between the two defects is 2.49 Å; see</div>
<div class="l sm" style="left:480.20px;top:100.00px;word-spacing:2.792px;letter-spacing:0.55px">TABLE I. Defect energy levels (in eV, with respect to the</div>
<div class="l sm" style="left:480.20px;top:115.91px;letter-spacing:0.55px">VBM) induced by native defects and impurities.</div>
<div class="l sm" style="left:480.20px;top:434.31px;letter-spacing:0.55px"><sup><i>a</i></sup>Electronically stable but energetically metastable defect</div>
<div class="l sm" style="left:480.20px;top:450.00px;letter-spacing:0.55px">levels, if available, are listed after the semicolon.</div>
<div class="l bd" style="left:480.20px;top:513.60px;word-spacing:0.583px;letter-spacing:0.55px">Fig. A1(c) in Appendix A. The Schottky defect pair (di-</div>
<div class="l bd" style="left:480.20px;top:531.01px;word-spacing:0.740px;letter-spacing:0.55px">vacancy), <i>V</i><sub>Ga</sub>-<i>V</i><sub>As</sub>, is formed by removing a Ga-As pair</div>
<div class="l bd" style="left:480.20px;top:548.41px;word-spacing:2.338px;letter-spacing:0.55px">from the lattice. Complexes between an antisite and a</div>
<div class="l bd" style="left:480.20px;top:565.82px;word-spacing:0.996px;letter-spacing:0.55px">vacancy include Ga<sub>As</sub>-<i>V</i><sub>As</sub> and As<sub>Ga</sub>-<i>V</i><sub>Ga</sub>; see Fig. A1(d)</div>
<div class="l bd" style="left:480.20px;top:583.21px;letter-spacing:0.545px;word-spacing:-0.800px">in Appendix A. The binding energy of these complexes in</div>
<div class="l bd" style="left:480.20px;top:600.60px;word-spacing:0.920px;letter-spacing:0.55px">different charge states with respect to their constituents</div>
<div class="l bd" style="left:480.20px;top:618.01px;word-spacing:0.623px;letter-spacing:0.55px">and the ground-state spin of all single defect and defect</div>
<div class="l bd" style="left:480.20px;top:635.41px;word-spacing:0.809px;letter-spacing:0.55px">complex configurations are reported in Table A1 in Ap-</div>
<div class="l bd" style="left:480.20px;top:652.82px;word-spacing:0.314px;letter-spacing:0.55px">pendix A. One should note that, as discussed in Ref. 61,</div>
<div class="l bd" style="left:480.20px;top:670.21px;word-spacing:-0.398px;letter-spacing:0.55px">in order for a defect complex to have a higher concentra-</div>
<div class="l bd" style="left:480.20px;top:687.60px;word-spacing:0.612px;letter-spacing:0.55px">tion than its constituents under thermal equilibrium, the</div>
<div class="l bd" style="left:480.20px;top:705.01px;word-spacing:0.239px;letter-spacing:0.55px">binding energy needs to be greater than the larger of the</div>
<div class="l bd" style="left:480.20px;top:722.41px;letter-spacing:0.55px">formation energies of the isolated constituents.</div>
<div class="l bd" style="left:495.30px;top:739.82px;word-spacing:-0.116px;letter-spacing:0.55px">All these defects are electrically active and induce en-</div>
<div class="l bd" style="left:480.20px;top:757.21px;word-spacing:1.672px;letter-spacing:0.55px">ergy levels in the band gap of the GaAs host; see also</div>
<div class="l bd" style="left:480.20px;top:774.60px;word-spacing:2.357px;letter-spacing:0.55px">Table I. Energetically, As<sub>Ga</sub> has the lowest energy un-</div>
<div class="l bd" style="left:480.20px;top:792.01px;word-spacing:0.277px;letter-spacing:0.55px">der the extreme As-rich condition, except near the CBM</div>
<div class="l bd" style="left:480.20px;top:809.41px;word-spacing:0.839px;letter-spacing:0.55px">where <i>V</i><span class="ss"><span class="su">3−</span><span class="sb">Ga</span></span> is lowest in energy; Ga<sub>As</sub> has the lowest for-</div>
<div class="l bd" style="left:480.20px;top:826.82px;word-spacing:1.029px;letter-spacing:0.55px">mation energy in the entire range of Fermi-level values</div>
<div class="l bd" style="left:480.20px;top:844.21px;word-spacing:2.469px;letter-spacing:0.55px">under the extreme Ga-rich condition. Realistic experi-</div>
<div class="l bd" style="left:480.20px;top:861.60px;word-spacing:1.118px;letter-spacing:0.55px">mental conditions are between the extreme Ga-rich and</div>
<div class="l bd" style="left:480.20px;top:879.01px;word-spacing:-0.006px;letter-spacing:0.55px">As-rich limits. At the midpoint between the two extreme</div>
<div class="l bd" style="left:480.20px;top:896.41px;word-spacing:1.041px;letter-spacing:0.55px">limits where <i>μ</i><sub>Ga</sub> = <i>μ</i><sub>As</sub>, for example, Ga<sub>As</sub> and As<sub>Ga</sub> are</div>
<div class="l bd" style="left:480.20px;top:913.82px;word-spacing:0.031px;letter-spacing:0.55px">the dominant native defects and pin the Fermi level near</div>
<div class="l bd" style="left:480.20px;top:931.21px;word-spacing:-0.246px;letter-spacing:0.55px">midgap where Ga<span class="ss"><span class="su">−</span><span class="sb">As</span></span> and As<span class="ss"><span class="su">+</span><span class="sb">Ga</span></span> have equal formation ener-</div>
<div class="l bd" style="left:480.20px;top:948.60px;letter-spacing:0.502px;word-spacing:-0.800px">gies; see Fig. A2(a) in Appendix A. This is also consistent</div>
<div class="l bd" style="left:480.20px;top:966.01px;word-spacing:2.520px;letter-spacing:0.55px">with the fact that Ga<sub>As</sub>-As<sub>Ga</sub> has the lowest formation</div>
<div class="l bd" style="left:480.20px;top:983.41px;letter-spacing:0.535px;word-spacing:-0.800px">energy in the entire range of Fermi-level values under the</div>
<div class="l bd" style="left:480.20px;top:1000.82px;letter-spacing:0.55px">same condition; see Fig. A2(b) in Appendix A.</div>
<div class="l bd" style="left:495.30px;top:1018.21px;word-spacing:-0.198px;letter-spacing:0.55px">The As-rich (or As-excess) condition often used in ex-</div>
<div class="l bd" style="left:480.20px;top:1035.60px;word-spacing:0.154px;letter-spacing:0.55px">periments should correspond to a point near the extreme</div>
<div class="l bd" style="left:480.20px;top:1053.01px;word-spacing:1.656px;letter-spacing:0.55px">As-rich limit. In this case, and especially under <i>n</i>-type</div>
<div class="l bd" style="left:480.20px;top:1070.41px;word-spacing:0.332px;letter-spacing:0.55px">conditions and in the absence of negatively charged (in-</div>
<div class="l bd" style="left:480.20px;top:1087.82px;word-spacing:1.473px;letter-spacing:0.55px">tentional or unintentional) impurities that have a lower</div>
<div class="l bd" style="left:843.09px;top:49.82px;letter-spacing:0.55px">3</div>
<div class="hr" style="left:480.2px;top:142.35px;width:371.5px;border-top-width:1.3px"></div>
<div class="hr" style="left:480.2px;top:146.25px;width:371.5px;border-top-width:1.3px"></div>
<div class="l sm" style="left:484.00px;top:157.20px;letter-spacing:0.55px">Defect</div>
<div class="l sm" style="left:583.00px;top:157.20px;letter-spacing:0.55px">Defect levels<sup><i>a</i></sup></div>
<div class="hr" style="left:480.2px;top:166.00px;width:371.5px;border-top-width:1.0px"></div>
<div class="l sm" style="left:484.00px;top:174.41px;letter-spacing:0.55px"><i>V</i><sub>Ga</sub></div>
<div class="l sm" style="left:583.00px;top:174.41px;letter-spacing:0.55px">(0/−) = 0.41, (−/2−) = 0.63,</div>
<div class="l sm" style="left:583.00px;top:190.25px;letter-spacing:0.55px">(2 − /3−) = 0.89</div>
<div class="l sm" style="left:484.00px;top:206.06px;letter-spacing:0.55px"><i>V</i><sub>As</sub></div>
<div class="l sm" style="left:583.00px;top:206.06px;letter-spacing:0.55px">(+/−) = 0.87; (+/0) = 1.05, (0/−) = 0.69</div>
<div class="l sm" style="left:484.00px;top:221.89px;letter-spacing:0.55px">Ga<sub>As</sub></div>
<div class="l sm" style="left:583.00px;top:221.89px;letter-spacing:0.55px">(+/0) = 0.31, (0/−) = 0.57, (−/2−) = 0.90</div>
<div class="l sm" style="left:484.00px;top:237.72px;letter-spacing:0.55px">As<sub>Ga</sub></div>
<div class="l sm" style="left:583.00px;top:237.72px;letter-spacing:0.55px">(2 + /+) = 0.44, (+/0) = 0.80</div>
<div class="l sm" style="left:484.00px;top:253.56px;letter-spacing:0.55px">Ga<sub><i>i</i></sub></div>
<div class="l sm" style="left:583.00px;top:253.56px;letter-spacing:0.55px">(+/0) = 1.43</div>
<div class="l sm" style="left:484.00px;top:269.39px;letter-spacing:0.55px">As<sub><i>i</i></sub></div>
<div class="l sm" style="left:583.00px;top:269.39px;letter-spacing:0.55px">(+/−) = 0.94; (+/0) = 0.91, (0/−) = 0.96</div>
<div class="l sm" style="left:484.00px;top:285.22px;letter-spacing:0.55px">Ga<sub>As</sub>-As<sub>Ga</sub></div>
<div class="l sm" style="left:583.00px;top:285.22px;letter-spacing:0.55px">(+/0) = 0.28, (0/−) = 1.31</div>
<div class="l sm" style="left:484.00px;top:301.05px;letter-spacing:0.55px">As<sub>Ga</sub>-<i>V</i><sub>Ga</sub></div>
<div class="l sm" style="left:583.00px;top:301.05px;letter-spacing:0.55px">(+/0) = 0.21, (0/−) = 0.46, (−/2−) = 1.23</div>
<div class="l sm" style="left:484.00px;top:316.88px;letter-spacing:0.55px">Ga<sub>As</sub>-<i>V</i><sub>As</sub></div>
<div class="l sm" style="left:583.00px;top:316.88px;letter-spacing:0.55px">(+/0) = 0.37, (0/−) = 0.59</div>
<div class="l sm" style="left:484.00px;top:332.70px;letter-spacing:0.55px"><i>V</i><sub>Ga</sub>-<i>V</i><sub>As</sub></div>
<div class="l sm" style="left:583.00px;top:332.70px;letter-spacing:0.55px">(0/−) = 0.35, (−/2−) = 0.59</div>
<div class="l sm" style="left:484.00px;top:348.53px;letter-spacing:0.55px">O<sub>As</sub></div>
<div class="l sm" style="left:583.00px;top:348.53px;letter-spacing:0.55px">(+/−) = 0.99; (+/0) = 0.99, (0/−) = 0.99</div>
<div class="l sm" style="left:484.00px;top:364.36px;letter-spacing:0.55px">O<sub><i>i</i>,tet</sub></div>
<div class="l sm" style="left:583.00px;top:364.36px;letter-spacing:0.55px">(+/0) = 0.05, (0/−) = 0.19, (−/2−) = 0.30</div>
<div class="l sm" style="left:484.00px;top:380.20px;letter-spacing:0.55px">O<sub>As</sub>-As<sub>Ga</sub></div>
<div class="l sm" style="left:583.00px;top:380.20px;letter-spacing:0.55px">(+/0) = 1.27, (0/−) = 1.35</div>
<div class="l sm" style="left:484.00px;top:396.03px;letter-spacing:0.55px">O<sub>As</sub>-2As<sub>Ga</sub></div>
<div class="l sm" style="left:583.00px;top:396.03px;letter-spacing:0.55px">(+/−) = 1.15; (+/0) = 1.27, (0/−) = 1.03</div>
<div class="hr" style="left:480.2px;top:407.15px;width:371.5px;border-top-width:1.3px"></div>
<div class="hr" style="left:480.2px;top:410.85px;width:371.5px;border-top-width:1.3px"></div>
<svg width="927" height="1200" viewBox="0 0 927 1200" style="left:0;top:0"><defs><clipPath id="f1a"><rect x="112.00" y="90.10" width="163.30" height="233.80"/></clipPath><clipPath id="f1b"><rect x="287.40" y="90.10" width="163.30" height="233.80"/></clipPath></defs><path d="M112.00 144.52 L213.66 99.21 L275.30 126.68" fill="none" stroke="#F5922E" stroke-width="1.30" stroke-linejoin="round" clip-path="url(#f1a)"/><g clip-path="url(#f1a)"><circle cx="213.66" cy="99.21" r="2.70" fill="#F5922E"/></g><path d="M112.00 122.34 L156.34 122.34 L180.13 132.95 L208.25 158.01 L275.30 247.66" fill="none" stroke="#7F7F1F" stroke-width="1.30" stroke-linejoin="round" clip-path="url(#f1a)"/><g clip-path="url(#f1a)"><circle cx="156.34" cy="122.34" r="2.70" fill="#7F7F1F"/><circle cx="180.13" cy="132.95" r="2.70" fill="#7F7F1F"/><circle cx="208.25" cy="158.01" r="2.70" fill="#7F7F1F"/></g><path d="M112.00 234.17 L266.65 165.24 L275.30 165.24" fill="none" stroke="#1B8C2C" stroke-width="1.40" stroke-linejoin="round" clip-path="url(#f1a)"/><g clip-path="url(#f1a)"><circle cx="266.65" cy="165.24" r="2.70" fill="#1B8C2C"/></g><path d="M112.00 228.38 L206.09 186.45 L275.30 217.30" fill="none" stroke="#1E3BE0" stroke-width="1.40" stroke-linejoin="round" clip-path="url(#f1a)"/><g clip-path="url(#f1a)"><circle cx="206.09" cy="186.45" r="2.70" fill="#1E3BE0"/></g><path d="M112.00 246.70 L145.53 231.76 L173.64 231.76 L209.33 247.66 L275.30 306.47" fill="none" stroke="#8C1A9C" stroke-width="1.50" stroke-linejoin="round" clip-path="url(#f1a)"/><g clip-path="url(#f1a)"><circle cx="145.53" cy="231.76" r="2.70" fill="#8C1A9C"/><circle cx="173.64" cy="231.76" r="2.70" fill="#8C1A9C"/><circle cx="209.33" cy="247.66" r="2.70" fill="#8C1A9C"/></g><path d="M112.00 214.89 L159.58 172.47 L198.52 155.12 L275.30 155.12" fill="none" stroke="#E8202A" stroke-width="2.00" stroke-linejoin="round" clip-path="url(#f1a)"/><g clip-path="url(#f1a)"><circle cx="159.58" cy="172.47" r="2.70" fill="#E8202A"/><circle cx="198.52" cy="155.12" r="2.70" fill="#E8202A"/></g><path d="M287.40 190.79 L389.06 145.48 L450.70 172.95" fill="none" stroke="#F5922E" stroke-width="1.30" stroke-linejoin="round" clip-path="url(#f1b)"/><g clip-path="url(#f1b)"><circle cx="389.06" cy="145.48" r="2.70" fill="#F5922E"/></g><path d="M287.40 168.62 L331.74 168.62 L355.53 179.22 L383.65 204.28 L450.70 293.94" fill="none" stroke="#7F7F1F" stroke-width="1.30" stroke-linejoin="round" clip-path="url(#f1b)"/><g clip-path="url(#f1b)"><circle cx="331.74" cy="168.62" r="2.70" fill="#7F7F1F"/><circle cx="355.53" cy="179.22" r="2.70" fill="#7F7F1F"/><circle cx="383.65" cy="204.28" r="2.70" fill="#7F7F1F"/></g><path d="M287.40 187.90 L442.05 118.97 L450.70 118.97" fill="none" stroke="#1B8C2C" stroke-width="1.40" stroke-linejoin="round" clip-path="url(#f1b)"/><g clip-path="url(#f1b)"><circle cx="442.05" cy="118.97" r="2.70" fill="#1B8C2C"/></g><path d="M287.40 182.11 L381.49 140.18 L450.70 171.03" fill="none" stroke="#1E3BE0" stroke-width="1.40" stroke-linejoin="round" clip-path="url(#f1b)"/><g clip-path="url(#f1b)"><circle cx="381.49" cy="140.18" r="2.70" fill="#1E3BE0"/></g><path d="M287.40 154.16 L320.93 139.21 L349.04 139.21 L384.73 155.12 L450.70 213.92" fill="none" stroke="#8C1A9C" stroke-width="1.50" stroke-linejoin="round" clip-path="url(#f1b)"/><g clip-path="url(#f1b)"><circle cx="320.93" cy="139.21" r="2.70" fill="#8C1A9C"/><circle cx="349.04" cy="139.21" r="2.70" fill="#8C1A9C"/><circle cx="384.73" cy="155.12" r="2.70" fill="#8C1A9C"/></g><path d="M287.40 307.43 L334.98 265.02 L373.92 247.66 L450.70 247.66" fill="none" stroke="#E8202A" stroke-width="2.00" stroke-linejoin="round" clip-path="url(#f1b)"/><g clip-path="url(#f1b)"><circle cx="334.98" cy="265.02" r="2.70" fill="#E8202A"/><circle cx="373.92" cy="247.66" r="2.70" fill="#E8202A"/></g><rect x="112.00" y="90.10" width="163.30" height="233.80" fill="none" stroke="#808080" stroke-width="1.10"/><path d="M112.00 323.90 v-2.50" stroke="#808080" stroke-width="1"/><path d="M112.00 90.10 v2.50" stroke="#808080" stroke-width="1"/><path d="M122.81 323.90 v-2.50" stroke="#808080" stroke-width="1"/><path d="M122.81 90.10 v2.50" stroke="#808080" stroke-width="1"/><path d="M133.63 323.90 v-2.50" stroke="#808080" stroke-width="1"/><path d="M133.63 90.10 v2.50" stroke="#808080" stroke-width="1"/><path d="M144.44 323.90 v-2.50" stroke="#808080" stroke-width="1"/><path d="M144.44 90.10 v2.50" stroke="#808080" stroke-width="1"/><path d="M155.26 323.90 v-2.50" stroke="#808080" stroke-width="1"/><path d="M155.26 90.10 v2.50" stroke="#808080" stroke-width="1"/><path d="M166.07 323.90 v-2.50" stroke="#808080" stroke-width="1"/><path d="M166.07 90.10 v2.50" stroke="#808080" stroke-width="1"/><path d="M176.89 323.90 v-2.50" stroke="#808080" stroke-width="1"/><path d="M176.89 90.10 v2.50" stroke="#808080" stroke-width="1"/><path d="M187.70 323.90 v-2.50" stroke="#808080" stroke-width="1"/><path d="M187.70 90.10 v2.50" stroke="#808080" stroke-width="1"/><path d="M198.52 323.90 v-2.50" stroke="#808080" stroke-width="1"/><path d="M198.52 90.10 v2.50" stroke="#808080" stroke-width="1"/><path d="M209.33 323.90 v-2.50" stroke="#808080" stroke-width="1"/><path d="M209.33 90.10 v2.50" stroke="#808080" stroke-width="1"/><path d="M220.15 323.90 v-2.50" stroke="#808080" stroke-width="1"/><path d="M220.15 90.10 v2.50" stroke="#808080" stroke-width="1"/><path d="M230.96 323.90 v-2.50" stroke="#808080" stroke-width="1"/><path d="M230.96 90.10 v2.50" stroke="#808080" stroke-width="1"/><path d="M241.77 323.90 v-2.50" stroke="#808080" stroke-width="1"/><path d="M241.77 90.10 v2.50" stroke="#808080" stroke-width="1"/><path d="M252.59 323.90 v-2.50" stroke="#808080" stroke-width="1"/><path d="M252.59 90.10 v2.50" stroke="#808080" stroke-width="1"/><path d="M263.40 323.90 v-2.50" stroke="#808080" stroke-width="1"/><path d="M263.40 90.10 v2.50" stroke="#808080" stroke-width="1"/><path d="M274.22 323.90 v-2.50" stroke="#808080" stroke-width="1"/><path d="M274.22 90.10 v2.50" stroke="#808080" stroke-width="1"/><path d="M112.00 323.90 v-4.50" stroke="#808080" stroke-width="1"/><path d="M112.00 90.10 v4.50" stroke="#808080" stroke-width="1"/><path d="M133.63 323.90 v-4.50" stroke="#808080" stroke-width="1"/><path d="M133.63 90.10 v4.50" stroke="#808080" stroke-width="1"/><path d="M155.26 323.90 v-4.50" stroke="#808080" stroke-width="1"/><path d="M155.26 90.10 v4.50" stroke="#808080" stroke-width="1"/><path d="M176.89 323.90 v-4.50" stroke="#808080" stroke-width="1"/><path d="M176.89 90.10 v4.50" stroke="#808080" stroke-width="1"/><path d="M198.52 323.90 v-4.50" stroke="#808080" stroke-width="1"/><path d="M198.52 90.10 v4.50" stroke="#808080" stroke-width="1"/><path d="M220.15 323.90 v-4.50" stroke="#808080" stroke-width="1"/><path d="M220.15 90.10 v4.50" stroke="#808080" stroke-width="1"/><path d="M241.77 323.90 v-4.50" stroke="#808080" stroke-width="1"/><path d="M241.77 90.10 v4.50" stroke="#808080" stroke-width="1"/><path d="M263.40 323.90 v-4.50" stroke="#808080" stroke-width="1"/><path d="M263.40 90.10 v4.50" stroke="#808080" stroke-width="1"/><path d="M112.00 319.00 h2.50" stroke="#808080" stroke-width="1"/><path d="M275.30 319.00 h-2.50" stroke="#808080" stroke-width="1"/><path d="M112.00 306.95 h2.50" stroke="#808080" stroke-width="1"/><path d="M275.30 306.95 h-2.50" stroke="#808080" stroke-width="1"/><path d="M112.00 294.90 h2.50" stroke="#808080" stroke-width="1"/><path d="M275.30 294.90 h-2.50" stroke="#808080" stroke-width="1"/><path d="M112.00 282.85 h2.50" stroke="#808080" stroke-width="1"/><path d="M275.30 282.85 h-2.50" stroke="#808080" stroke-width="1"/><path d="M112.00 270.80 h2.50" stroke="#808080" stroke-width="1"/><path d="M275.30 270.80 h-2.50" stroke="#808080" stroke-width="1"/><path d="M112.00 258.75 h2.50" stroke="#808080" stroke-width="1"/><path d="M275.30 258.75 h-2.50" stroke="#808080" stroke-width="1"/><path d="M112.00 246.70 h2.50" stroke="#808080" stroke-width="1"/><path d="M275.30 246.70 h-2.50" stroke="#808080" stroke-width="1"/><path d="M112.00 234.65 h2.50" stroke="#808080" stroke-width="1"/><path d="M275.30 234.65 h-2.50" stroke="#808080" stroke-width="1"/><path d="M112.00 222.60 h2.50" stroke="#808080" stroke-width="1"/><path d="M275.30 222.60 h-2.50" stroke="#808080" stroke-width="1"/><path d="M112.00 210.55 h2.50" stroke="#808080" stroke-width="1"/><path d="M275.30 210.55 h-2.50" stroke="#808080" stroke-width="1"/><path d="M112.00 198.50 h2.50" stroke="#808080" stroke-width="1"/><path d="M275.30 198.50 h-2.50" stroke="#808080" stroke-width="1"/><path d="M112.00 186.45 h2.50" stroke="#808080" stroke-width="1"/><path d="M275.30 186.45 h-2.50" stroke="#808080" stroke-width="1"/><path d="M112.00 174.40 h2.50" stroke="#808080" stroke-width="1"/><path d="M275.30 174.40 h-2.50" stroke="#808080" stroke-width="1"/><path d="M112.00 162.35 h2.50" stroke="#808080" stroke-width="1"/><path d="M275.30 162.35 h-2.50" stroke="#808080" stroke-width="1"/><path d="M112.00 150.30 h2.50" stroke="#808080" stroke-width="1"/><path d="M275.30 150.30 h-2.50" stroke="#808080" stroke-width="1"/><path d="M112.00 138.25 h2.50" stroke="#808080" stroke-width="1"/><path d="M275.30 138.25 h-2.50" stroke="#808080" stroke-width="1"/><path d="M112.00 126.20 h2.50" stroke="#808080" stroke-width="1"/><path d="M275.30 126.20 h-2.50" stroke="#808080" stroke-width="1"/><path d="M112.00 114.15 h2.50" stroke="#808080" stroke-width="1"/><path d="M275.30 114.15 h-2.50" stroke="#808080" stroke-width="1"/><path d="M112.00 102.10 h2.50" stroke="#808080" stroke-width="1"/><path d="M275.30 102.10 h-2.50" stroke="#808080" stroke-width="1"/><path d="M112.00 319.00 h4.50" stroke="#808080" stroke-width="1"/><path d="M275.30 319.00 h-4.50" stroke="#808080" stroke-width="1"/><path d="M112.00 270.80 h4.50" stroke="#808080" stroke-width="1"/><path d="M275.30 270.80 h-4.50" stroke="#808080" stroke-width="1"/><path d="M112.00 222.60 h4.50" stroke="#808080" stroke-width="1"/><path d="M275.30 222.60 h-4.50" stroke="#808080" stroke-width="1"/><path d="M112.00 174.40 h4.50" stroke="#808080" stroke-width="1"/><path d="M275.30 174.40 h-4.50" stroke="#808080" stroke-width="1"/><path d="M112.00 126.20 h4.50" stroke="#808080" stroke-width="1"/><path d="M275.30 126.20 h-4.50" stroke="#808080" stroke-width="1"/><rect x="287.40" y="90.10" width="163.30" height="233.80" fill="none" stroke="#808080" stroke-width="1.10"/><path d="M287.40 323.90 v-2.50" stroke="#808080" stroke-width="1"/><path d="M287.40 90.10 v2.50" stroke="#808080" stroke-width="1"/><path d="M298.21 323.90 v-2.50" stroke="#808080" stroke-width="1"/><path d="M298.21 90.10 v2.50" stroke="#808080" stroke-width="1"/><path d="M309.03 323.90 v-2.50" stroke="#808080" stroke-width="1"/><path d="M309.03 90.10 v2.50" stroke="#808080" stroke-width="1"/><path d="M319.84 323.90 v-2.50" stroke="#808080" stroke-width="1"/><path d="M319.84 90.10 v2.50" stroke="#808080" stroke-width="1"/><path d="M330.66 323.90 v-2.50" stroke="#808080" stroke-width="1"/><path d="M330.66 90.10 v2.50" stroke="#808080" stroke-width="1"/><path d="M341.47 323.90 v-2.50" stroke="#808080" stroke-width="1"/><path d="M341.47 90.10 v2.50" stroke="#808080" stroke-width="1"/><path d="M352.29 323.90 v-2.50" stroke="#808080" stroke-width="1"/><path d="M352.29 90.10 v2.50" stroke="#808080" stroke-width="1"/><path d="M363.10 323.90 v-2.50" stroke="#808080" stroke-width="1"/><path d="M363.10 90.10 v2.50" stroke="#808080" stroke-width="1"/><path d="M373.92 323.90 v-2.50" stroke="#808080" stroke-width="1"/><path d="M373.92 90.10 v2.50" stroke="#808080" stroke-width="1"/><path d="M384.73 323.90 v-2.50" stroke="#808080" stroke-width="1"/><path d="M384.73 90.10 v2.50" stroke="#808080" stroke-width="1"/><path d="M395.55 323.90 v-2.50" stroke="#808080" stroke-width="1"/><path d="M395.55 90.10 v2.50" stroke="#808080" stroke-width="1"/><path d="M406.36 323.90 v-2.50" stroke="#808080" stroke-width="1"/><path d="M406.36 90.10 v2.50" stroke="#808080" stroke-width="1"/><path d="M417.17 323.90 v-2.50" stroke="#808080" stroke-width="1"/><path d="M417.17 90.10 v2.50" stroke="#808080" stroke-width="1"/><path d="M427.99 323.90 v-2.50" stroke="#808080" stroke-width="1"/><path d="M427.99 90.10 v2.50" stroke="#808080" stroke-width="1"/><path d="M438.80 323.90 v-2.50" stroke="#808080" stroke-width="1"/><path d="M438.80 90.10 v2.50" stroke="#808080" stroke-width="1"/><path d="M449.62 323.90 v-2.50" stroke="#808080" stroke-width="1"/><path d="M449.62 90.10 v2.50" stroke="#808080" stroke-width="1"/><path d="M287.40 323.90 v-4.50" stroke="#808080" stroke-width="1"/><path d="M287.40 90.10 v4.50" stroke="#808080" stroke-width="1"/><path d="M309.03 323.90 v-4.50" stroke="#808080" stroke-width="1"/><path d="M309.03 90.10 v4.50" stroke="#808080" stroke-width="1"/><path d="M330.66 323.90 v-4.50" stroke="#808080" stroke-width="1"/><path d="M330.66 90.10 v4.50" stroke="#808080" stroke-width="1"/><path d="M352.29 323.90 v-4.50" stroke="#808080" stroke-width="1"/><path d="M352.29 90.10 v4.50" stroke="#808080" stroke-width="1"/><path d="M373.92 323.90 v-4.50" stroke="#808080" stroke-width="1"/><path d="M373.92 90.10 v4.50" stroke="#808080" stroke-width="1"/><path d="M395.55 323.90 v-4.50" stroke="#808080" stroke-width="1"/><path d="M395.55 90.10 v4.50" stroke="#808080" stroke-width="1"/><path d="M417.17 323.90 v-4.50" stroke="#808080" stroke-width="1"/><path d="M417.17 90.10 v4.50" stroke="#808080" stroke-width="1"/><path d="M438.80 323.90 v-4.50" stroke="#808080" stroke-width="1"/><path d="M438.80 90.10 v4.50" stroke="#808080" stroke-width="1"/><path d="M287.40 319.00 h2.50" stroke="#808080" stroke-width="1"/><path d="M450.70 319.00 h-2.50" stroke="#808080" stroke-width="1"/><path d="M287.40 306.95 h2.50" stroke="#808080" stroke-width="1"/><path d="M450.70 306.95 h-2.50" stroke="#808080" stroke-width="1"/><path d="M287.40 294.90 h2.50" stroke="#808080" stroke-width="1"/><path d="M450.70 294.90 h-2.50" stroke="#808080" stroke-width="1"/><path d="M287.40 282.85 h2.50" stroke="#808080" stroke-width="1"/><path d="M450.70 282.85 h-2.50" stroke="#808080" stroke-width="1"/><path d="M287.40 270.80 h2.50" stroke="#808080" stroke-width="1"/><path d="M450.70 270.80 h-2.50" stroke="#808080" stroke-width="1"/><path d="M287.40 258.75 h2.50" stroke="#808080" stroke-width="1"/><path d="M450.70 258.75 h-2.50" stroke="#808080" stroke-width="1"/><path d="M287.40 246.70 h2.50" stroke="#808080" stroke-width="1"/><path d="M450.70 246.70 h-2.50" stroke="#808080" stroke-width="1"/><path d="M287.40 234.65 h2.50" stroke="#808080" stroke-width="1"/><path d="M450.70 234.65 h-2.50" stroke="#808080" stroke-width="1"/><path d="M287.40 222.60 h2.50" stroke="#808080" stroke-width="1"/><path d="M450.70 222.60 h-2.50" stroke="#808080" stroke-width="1"/><path d="M287.40 210.55 h2.50" stroke="#808080" stroke-width="1"/><path d="M450.70 210.55 h-2.50" stroke="#808080" stroke-width="1"/><path d="M287.40 198.50 h2.50" stroke="#808080" stroke-width="1"/><path d="M450.70 198.50 h-2.50" stroke="#808080" stroke-width="1"/><path d="M287.40 186.45 h2.50" stroke="#808080" stroke-width="1"/><path d="M450.70 186.45 h-2.50" stroke="#808080" stroke-width="1"/><path d="M287.40 174.40 h2.50" stroke="#808080" stroke-width="1"/><path d="M450.70 174.40 h-2.50" stroke="#808080" stroke-width="1"/><path d="M287.40 162.35 h2.50" stroke="#808080" stroke-width="1"/><path d="M450.70 162.35 h-2.50" stroke="#808080" stroke-width="1"/><path d="M287.40 150.30 h2.50" stroke="#808080" stroke-width="1"/><path d="M450.70 150.30 h-2.50" stroke="#808080" stroke-width="1"/><path d="M287.40 138.25 h2.50" stroke="#808080" stroke-width="1"/><path d="M450.70 138.25 h-2.50" stroke="#808080" stroke-width="1"/><path d="M287.40 126.20 h2.50" stroke="#808080" stroke-width="1"/><path d="M450.70 126.20 h-2.50" stroke="#808080" stroke-width="1"/><path d="M287.40 114.15 h2.50" stroke="#808080" stroke-width="1"/><path d="M450.70 114.15 h-2.50" stroke="#808080" stroke-width="1"/><path d="M287.40 102.10 h2.50" stroke="#808080" stroke-width="1"/><path d="M450.70 102.10 h-2.50" stroke="#808080" stroke-width="1"/><path d="M287.40 319.00 h4.50" stroke="#808080" stroke-width="1"/><path d="M450.70 319.00 h-4.50" stroke="#808080" stroke-width="1"/><path d="M287.40 270.80 h4.50" stroke="#808080" stroke-width="1"/><path d="M450.70 270.80 h-4.50" stroke="#808080" stroke-width="1"/><path d="M287.40 222.60 h4.50" stroke="#808080" stroke-width="1"/><path d="M450.70 222.60 h-4.50" stroke="#808080" stroke-width="1"/><path d="M287.40 174.40 h4.50" stroke="#808080" stroke-width="1"/><path d="M450.70 174.40 h-4.50" stroke="#808080" stroke-width="1"/><path d="M287.40 126.20 h4.50" stroke="#808080" stroke-width="1"/><path d="M450.70 126.20 h-4.50" stroke="#808080" stroke-width="1"/><text x="106.50" y="323.30" font-size="12.00" fill="#111" text-anchor="end">0</text><text x="106.50" y="275.10" font-size="12.00" fill="#111" text-anchor="end">1</text><text x="106.50" y="226.90" font-size="12.00" fill="#111" text-anchor="end">2</text><text x="106.50" y="178.70" font-size="12.00" fill="#111" text-anchor="end">3</text><text x="106.50" y="130.50" font-size="12.00" fill="#111" text-anchor="end">4</text><text x="112.00" y="339.20" font-size="12.00" fill="#111" text-anchor="middle">0.0</text><text x="155.26" y="339.20" font-size="12.00" fill="#111" text-anchor="middle">0.4</text><text x="198.52" y="339.20" font-size="12.00" fill="#111" text-anchor="middle">0.8</text><text x="241.77" y="339.20" font-size="12.00" fill="#111" text-anchor="middle">1.2</text><text x="287.40" y="339.20" font-size="12.00" fill="#111" text-anchor="middle">0.0</text><text x="330.66" y="339.20" font-size="12.00" fill="#111" text-anchor="middle">0.4</text><text x="373.92" y="339.20" font-size="12.00" fill="#111" text-anchor="middle">0.8</text><text x="417.17" y="339.20" font-size="12.00" fill="#111" text-anchor="middle">1.2</text><text x="281.30" y="355.30" font-size="13.00" fill="#111" text-anchor="middle">Fermi level (eV)</text><text x="93.00" y="207.00" font-size="13.00" fill="#111" text-anchor="middle" transform="rotate(-90 93.00 207.00)">Formation energy (eV)</text><text x="118.70" y="107.00" font-size="13.00" fill="#111" text-anchor="start">(a)</text><text x="294.20" y="107.00" font-size="13.00" fill="#111" text-anchor="start">(b)</text><text x="170.90" y="311.80" font-size="13.40" fill="#111" text-anchor="start">Ga-rich</text><text x="347.50" y="311.80" font-size="13.40" fill="#111" text-anchor="start">As-rich</text><g><rect x="233.30" y="104.90" width="22.55" height="13.12" fill="#fff"/><text xml:space="preserve" x="234.80" y="114.90" font-size="12.50" fill="#fff" stroke="#fff" stroke-width="3.5" stroke-linejoin="round">As</text><text xml:space="preserve" x="249.39" y="118.65" font-size="8.50" font-style="italic" fill="#fff" stroke="#fff" stroke-width="3.5" stroke-linejoin="round">i</text><text xml:space="preserve" x="249.39" y="109.28" font-size="8.50" fill="#fff" stroke="#fff" stroke-width="3.5" stroke-linejoin="round">−</text><text xml:space="preserve" x="234.80" y="114.90" font-size="12.50" fill="#F5922E">As</text><text xml:space="preserve" x="249.39" y="118.65" font-size="8.50" font-style="italic" fill="#F5922E">i</text><text xml:space="preserve" x="249.39" y="109.28" font-size="8.50" fill="#F5922E">−</text></g><g><rect x="189.20" y="130.70" width="22.68" height="13.12" fill="#fff"/><text xml:space="preserve" x="190.70" y="140.70" font-size="12.50" font-style="italic" fill="#fff" stroke="#fff" stroke-width="3.5" stroke-linejoin="round">V</text><text xml:space="preserve" x="199.04" y="144.45" font-size="8.50" fill="#fff" stroke="#fff" stroke-width="3.5" stroke-linejoin="round">Ga</text><text xml:space="preserve" x="199.04" y="135.07" font-size="8.50" fill="#fff" stroke="#fff" stroke-width="3.5" stroke-linejoin="round">2−</text><text xml:space="preserve" x="190.70" y="140.70" font-size="12.50" font-style="italic" fill="#7F7F1F">V</text><text xml:space="preserve" x="199.04" y="144.45" font-size="8.50" fill="#7F7F1F">Ga</text><text xml:space="preserve" x="199.04" y="135.07" font-size="8.50" fill="#7F7F1F">2−</text></g><g><rect x="227.50" y="147.60" width="28.93" height="13.12" fill="#fff"/><text xml:space="preserve" x="229.00" y="157.60" font-size="12.50" fill="#fff" stroke="#fff" stroke-width="3.5" stroke-linejoin="round">As</text><text xml:space="preserve" x="243.59" y="161.35" font-size="8.50" fill="#fff" stroke="#fff" stroke-width="3.5" stroke-linejoin="round">Ga</text><text xml:space="preserve" x="243.59" y="151.97" font-size="8.50" fill="#fff" stroke="#fff" stroke-width="3.5" stroke-linejoin="round">0</text><text xml:space="preserve" x="229.00" y="157.60" font-size="12.50" fill="#E8202A">As</text><text xml:space="preserve" x="243.59" y="161.35" font-size="8.50" fill="#E8202A">Ga</text><text xml:space="preserve" x="243.59" y="151.97" font-size="8.50" fill="#E8202A">0</text></g><g><rect x="144.70" y="194.40" width="21.26" height="13.12" fill="#fff"/><text xml:space="preserve" x="146.20" y="204.40" font-size="12.50" font-style="italic" fill="#fff" stroke="#fff" stroke-width="3.5" stroke-linejoin="round">V</text><text xml:space="preserve" x="154.54" y="208.15" font-size="8.50" fill="#fff" stroke="#fff" stroke-width="3.5" stroke-linejoin="round">As</text><text xml:space="preserve" x="154.54" y="198.78" font-size="8.50" fill="#fff" stroke="#fff" stroke-width="3.5" stroke-linejoin="round">+</text><text xml:space="preserve" x="146.20" y="204.40" font-size="12.50" font-style="italic" fill="#1E3BE0">V</text><text xml:space="preserve" x="154.54" y="208.15" font-size="8.50" fill="#1E3BE0">As</text><text xml:space="preserve" x="154.54" y="198.78" font-size="8.50" fill="#1E3BE0">+</text></g><g><rect x="175.00" y="202.00" width="24.64" height="13.12" fill="#fff"/><text xml:space="preserve" x="176.50" y="212.00" font-size="12.50" fill="#fff" stroke="#fff" stroke-width="3.5" stroke-linejoin="round">Ga</text><text xml:space="preserve" x="193.17" y="215.75" font-size="8.50" font-style="italic" fill="#fff" stroke="#fff" stroke-width="3.5" stroke-linejoin="round">i</text><text xml:space="preserve" x="193.17" y="206.38" font-size="8.50" fill="#fff" stroke="#fff" stroke-width="3.5" stroke-linejoin="round">+</text><text xml:space="preserve" x="176.50" y="212.00" font-size="12.50" fill="#1B8C2C">Ga</text><text xml:space="preserve" x="193.17" y="215.75" font-size="8.50" font-style="italic" fill="#1B8C2C">i</text><text xml:space="preserve" x="193.17" y="206.38" font-size="8.50" fill="#1B8C2C">+</text></g><g><rect x="222.90" y="266.70" width="29.59" height="13.12" fill="#fff"/><text xml:space="preserve" x="224.40" y="276.70" font-size="12.50" fill="#fff" stroke="#fff" stroke-width="3.5" stroke-linejoin="round">Ga</text><text xml:space="preserve" x="241.07" y="280.45" font-size="8.50" fill="#fff" stroke="#fff" stroke-width="3.5" stroke-linejoin="round">As</text><text xml:space="preserve" x="241.07" y="271.07" font-size="8.50" fill="#fff" stroke="#fff" stroke-width="3.5" stroke-linejoin="round">2−</text><text xml:space="preserve" x="224.40" y="276.70" font-size="12.50" fill="#8C1A9C">Ga</text><text xml:space="preserve" x="241.07" y="280.45" font-size="8.50" fill="#8C1A9C">As</text><text xml:space="preserve" x="241.07" y="271.07" font-size="8.50" fill="#8C1A9C">2−</text></g><g><text xml:space="preserve" x="321.80" y="134.00" font-size="12.50" fill="#8C1A9C">Ga</text><text xml:space="preserve" x="338.47" y="137.75" font-size="8.50" fill="#8C1A9C">As</text><text xml:space="preserve" x="338.47" y="128.38" font-size="8.50" fill="#8C1A9C">0</text></g><g><rect x="406.50" y="123.50" width="24.64" height="13.12" fill="#fff"/><text xml:space="preserve" x="408.00" y="133.50" font-size="12.50" fill="#fff" stroke="#fff" stroke-width="3.5" stroke-linejoin="round">Ga</text><text xml:space="preserve" x="424.67" y="137.25" font-size="8.50" font-style="italic" fill="#fff" stroke="#fff" stroke-width="3.5" stroke-linejoin="round">i</text><text xml:space="preserve" x="424.67" y="127.88" font-size="8.50" fill="#fff" stroke="#fff" stroke-width="3.5" stroke-linejoin="round">+</text><text xml:space="preserve" x="408.00" y="133.50" font-size="12.50" fill="#1B8C2C">Ga</text><text xml:space="preserve" x="424.67" y="137.25" font-size="8.50" font-style="italic" fill="#1B8C2C">i</text><text xml:space="preserve" x="424.67" y="127.88" font-size="8.50" fill="#1B8C2C">+</text></g><g><rect x="418.00" y="146.00" width="21.26" height="13.12" fill="#fff"/><text xml:space="preserve" x="419.50" y="156.00" font-size="12.50" font-style="italic" fill="#fff" stroke="#fff" stroke-width="3.5" stroke-linejoin="round">V</text><text xml:space="preserve" x="427.84" y="159.75" font-size="8.50" fill="#fff" stroke="#fff" stroke-width="3.5" stroke-linejoin="round">As</text><text xml:space="preserve" x="427.84" y="150.38" font-size="8.50" fill="#fff" stroke="#fff" stroke-width="3.5" stroke-linejoin="round">−</text><text xml:space="preserve" x="419.50" y="156.00" font-size="12.50" font-style="italic" fill="#1E3BE0">V</text><text xml:space="preserve" x="427.84" y="159.75" font-size="8.50" fill="#1E3BE0">As</text><text xml:space="preserve" x="427.84" y="150.38" font-size="8.50" fill="#1E3BE0">−</text></g><g><rect x="310.00" y="180.20" width="22.55" height="13.12" fill="#fff"/><text xml:space="preserve" x="311.50" y="190.20" font-size="12.50" fill="#fff" stroke="#fff" stroke-width="3.5" stroke-linejoin="round">As</text><text xml:space="preserve" x="326.09" y="193.95" font-size="8.50" font-style="italic" fill="#fff" stroke="#fff" stroke-width="3.5" stroke-linejoin="round">i</text><text xml:space="preserve" x="326.09" y="184.57" font-size="8.50" fill="#fff" stroke="#fff" stroke-width="3.5" stroke-linejoin="round">+</text><text xml:space="preserve" x="311.50" y="190.20" font-size="12.50" fill="#F5922E">As</text><text xml:space="preserve" x="326.09" y="193.95" font-size="8.50" font-style="italic" fill="#F5922E">i</text><text xml:space="preserve" x="326.09" y="184.57" font-size="8.50" fill="#F5922E">+</text></g><g><rect x="388.30" y="217.90" width="22.68" height="13.12" fill="#fff"/><text xml:space="preserve" x="389.80" y="227.90" font-size="12.50" font-style="italic" fill="#fff" stroke="#fff" stroke-width="3.5" stroke-linejoin="round">V</text><text xml:space="preserve" x="398.14" y="231.65" font-size="8.50" fill="#fff" stroke="#fff" stroke-width="3.5" stroke-linejoin="round">Ga</text><text xml:space="preserve" x="398.14" y="222.28" font-size="8.50" fill="#fff" stroke="#fff" stroke-width="3.5" stroke-linejoin="round">3−</text><text xml:space="preserve" x="389.80" y="227.90" font-size="12.50" font-style="italic" fill="#7F7F1F">V</text><text xml:space="preserve" x="398.14" y="231.65" font-size="8.50" fill="#7F7F1F">Ga</text><text xml:space="preserve" x="398.14" y="222.28" font-size="8.50" fill="#7F7F1F">3−</text></g><g><rect x="345.50" y="250.00" width="28.93" height="13.12" fill="#fff"/><text xml:space="preserve" x="347.00" y="260.00" font-size="12.50" fill="#fff" stroke="#fff" stroke-width="3.5" stroke-linejoin="round">As</text><text xml:space="preserve" x="361.59" y="263.75" font-size="8.50" fill="#fff" stroke="#fff" stroke-width="3.5" stroke-linejoin="round">Ga</text><text xml:space="preserve" x="361.59" y="254.38" font-size="8.50" fill="#fff" stroke="#fff" stroke-width="3.5" stroke-linejoin="round">+</text><text xml:space="preserve" x="347.00" y="260.00" font-size="12.50" fill="#E8202A">As</text><text xml:space="preserve" x="361.59" y="263.75" font-size="8.50" fill="#E8202A">Ga</text><text xml:space="preserve" x="361.59" y="254.38" font-size="8.50" fill="#E8202A">+</text></g><defs><clipPath id="f2a"><rect x="112.00" y="543.50" width="163.30" height="232.70"/></clipPath><clipPath id="f2b"><rect x="287.40" y="543.50" width="163.30" height="232.70"/></clipPath></defs><path d="M112.00 593.95 L134.71 583.83 L161.75 583.83 L245.02 620.96 L275.30 647.96" fill="none" stroke="#F39222" stroke-width="1.50" stroke-linejoin="round" clip-path="url(#f2a)"/><g clip-path="url(#f2a)"><circle cx="134.71" cy="583.83" r="2.70" fill="#F39222"/><circle cx="161.75" cy="583.83" r="2.70" fill="#F39222"/><circle cx="245.02" cy="620.96" r="2.70" fill="#F39222"/></g><path d="M112.00 630.60 L149.85 630.60 L175.81 642.18 L275.30 730.91" fill="none" stroke="#7E8C1E" stroke-width="1.50" stroke-linejoin="round" clip-path="url(#f2a)"/><g clip-path="url(#f2a)"><circle cx="149.85" cy="630.60" r="2.70" fill="#7E8C1E"/><circle cx="175.81" cy="642.18" r="2.70" fill="#7E8C1E"/></g><path d="M112.00 715.96 L152.01 698.12 L175.81 698.12 L275.30 742.48" fill="none" stroke="#1C2AA0" stroke-width="1.50" stroke-linejoin="round" clip-path="url(#f2a)"/><g clip-path="url(#f2a)"><circle cx="152.01" cy="698.12" r="2.70" fill="#1C2AA0"/><circle cx="175.81" cy="698.12" r="2.70" fill="#1C2AA0"/></g><path d="M112.00 744.89 L142.28 731.39 L253.67 731.39 L275.30 741.04" fill="none" stroke="#8B1A1A" stroke-width="1.70" stroke-linejoin="round" clip-path="url(#f2a)"/><g clip-path="url(#f2a)"><circle cx="142.28" cy="731.39" r="2.70" fill="#8B1A1A"/><circle cx="253.67" cy="731.39" r="2.70" fill="#8B1A1A"/></g><path d="M287.40 732.84 L310.11 722.71 L337.15 722.71 L420.42 759.84 L450.70 786.85" fill="none" stroke="#F39222" stroke-width="1.50" stroke-linejoin="round" clip-path="url(#f2b)"/><g clip-path="url(#f2b)"><circle cx="310.11" cy="722.71" r="2.70" fill="#F39222"/><circle cx="337.15" cy="722.71" r="2.70" fill="#F39222"/><circle cx="420.42" cy="759.84" r="2.70" fill="#F39222"/></g><path d="M287.40 630.60 L325.25 630.60 L351.21 642.18 L450.70 730.91" fill="none" stroke="#7E8C1E" stroke-width="1.50" stroke-linejoin="round" clip-path="url(#f2b)"/><g clip-path="url(#f2b)"><circle cx="325.25" cy="630.60" r="2.70" fill="#7E8C1E"/><circle cx="351.21" cy="642.18" r="2.70" fill="#7E8C1E"/></g><path d="M287.40 577.07 L327.41 559.23 L351.21 559.23 L450.70 603.60" fill="none" stroke="#1C2AA0" stroke-width="1.50" stroke-linejoin="round" clip-path="url(#f2b)"/><g clip-path="url(#f2b)"><circle cx="327.41" cy="559.23" r="2.70" fill="#1C2AA0"/><circle cx="351.21" cy="559.23" r="2.70" fill="#1C2AA0"/></g><path d="M287.40 744.89 L317.68 731.39 L429.07 731.39 L450.70 741.04" fill="none" stroke="#8B1A1A" stroke-width="1.70" stroke-linejoin="round" clip-path="url(#f2b)"/><g clip-path="url(#f2b)"><circle cx="317.68" cy="731.39" r="2.70" fill="#8B1A1A"/><circle cx="429.07" cy="731.39" r="2.70" fill="#8B1A1A"/></g><rect x="112.00" y="543.50" width="163.30" height="232.70" fill="none" stroke="#808080" stroke-width="1.10"/><path d="M112.00 776.20 v-2.50" stroke="#808080" stroke-width="1"/><path d="M112.00 543.50 v2.50" stroke="#808080" stroke-width="1"/><path d="M122.81 776.20 v-2.50" stroke="#808080" stroke-width="1"/><path d="M122.81 543.50 v2.50" stroke="#808080" stroke-width="1"/><path d="M133.63 776.20 v-2.50" stroke="#808080" stroke-width="1"/><path d="M133.63 543.50 v2.50" stroke="#808080" stroke-width="1"/><path d="M144.44 776.20 v-2.50" stroke="#808080" stroke-width="1"/><path d="M144.44 543.50 v2.50" stroke="#808080" stroke-width="1"/><path d="M155.26 776.20 v-2.50" stroke="#808080" stroke-width="1"/><path d="M155.26 543.50 v2.50" stroke="#808080" stroke-width="1"/><path d="M166.07 776.20 v-2.50" stroke="#808080" stroke-width="1"/><path d="M166.07 543.50 v2.50" stroke="#808080" stroke-width="1"/><path d="M176.89 776.20 v-2.50" stroke="#808080" stroke-width="1"/><path d="M176.89 543.50 v2.50" stroke="#808080" stroke-width="1"/><path d="M187.70 776.20 v-2.50" stroke="#808080" stroke-width="1"/><path d="M187.70 543.50 v2.50" stroke="#808080" stroke-width="1"/><path d="M198.52 776.20 v-2.50" stroke="#808080" stroke-width="1"/><path d="M198.52 543.50 v2.50" stroke="#808080" stroke-width="1"/><path d="M209.33 776.20 v-2.50" stroke="#808080" stroke-width="1"/><path d="M209.33 543.50 v2.50" stroke="#808080" stroke-width="1"/><path d="M220.15 776.20 v-2.50" stroke="#808080" stroke-width="1"/><path d="M220.15 543.50 v2.50" stroke="#808080" stroke-width="1"/><path d="M230.96 776.20 v-2.50" stroke="#808080" stroke-width="1"/><path d="M230.96 543.50 v2.50" stroke="#808080" stroke-width="1"/><path d="M241.77 776.20 v-2.50" stroke="#808080" stroke-width="1"/><path d="M241.77 543.50 v2.50" stroke="#808080" stroke-width="1"/><path d="M252.59 776.20 v-2.50" stroke="#808080" stroke-width="1"/><path d="M252.59 543.50 v2.50" stroke="#808080" stroke-width="1"/><path d="M263.40 776.20 v-2.50" stroke="#808080" stroke-width="1"/><path d="M263.40 543.50 v2.50" stroke="#808080" stroke-width="1"/><path d="M274.22 776.20 v-2.50" stroke="#808080" stroke-width="1"/><path d="M274.22 543.50 v2.50" stroke="#808080" stroke-width="1"/><path d="M112.00 776.20 v-4.50" stroke="#808080" stroke-width="1"/><path d="M112.00 543.50 v4.50" stroke="#808080" stroke-width="1"/><path d="M133.63 776.20 v-4.50" stroke="#808080" stroke-width="1"/><path d="M133.63 543.50 v4.50" stroke="#808080" stroke-width="1"/><path d="M155.26 776.20 v-4.50" stroke="#808080" stroke-width="1"/><path d="M155.26 543.50 v4.50" stroke="#808080" stroke-width="1"/><path d="M176.89 776.20 v-4.50" stroke="#808080" stroke-width="1"/><path d="M176.89 543.50 v4.50" stroke="#808080" stroke-width="1"/><path d="M198.52 776.20 v-4.50" stroke="#808080" stroke-width="1"/><path d="M198.52 543.50 v4.50" stroke="#808080" stroke-width="1"/><path d="M220.15 776.20 v-4.50" stroke="#808080" stroke-width="1"/><path d="M220.15 543.50 v4.50" stroke="#808080" stroke-width="1"/><path d="M241.77 776.20 v-4.50" stroke="#808080" stroke-width="1"/><path d="M241.77 543.50 v4.50" stroke="#808080" stroke-width="1"/><path d="M263.40 776.20 v-4.50" stroke="#808080" stroke-width="1"/><path d="M263.40 543.50 v4.50" stroke="#808080" stroke-width="1"/><path d="M112.00 771.90 h2.50" stroke="#808080" stroke-width="1"/><path d="M275.30 771.90 h-2.50" stroke="#808080" stroke-width="1"/><path d="M112.00 759.84 h2.50" stroke="#808080" stroke-width="1"/><path d="M275.30 759.84 h-2.50" stroke="#808080" stroke-width="1"/><path d="M112.00 747.79 h2.50" stroke="#808080" stroke-width="1"/><path d="M275.30 747.79 h-2.50" stroke="#808080" stroke-width="1"/><path d="M112.00 735.73 h2.50" stroke="#808080" stroke-width="1"/><path d="M275.30 735.73 h-2.50" stroke="#808080" stroke-width="1"/><path d="M112.00 723.68 h2.50" stroke="#808080" stroke-width="1"/><path d="M275.30 723.68 h-2.50" stroke="#808080" stroke-width="1"/><path d="M112.00 711.62 h2.50" stroke="#808080" stroke-width="1"/><path d="M275.30 711.62 h-2.50" stroke="#808080" stroke-width="1"/><path d="M112.00 699.56 h2.50" stroke="#808080" stroke-width="1"/><path d="M275.30 699.56 h-2.50" stroke="#808080" stroke-width="1"/><path d="M112.00 687.51 h2.50" stroke="#808080" stroke-width="1"/><path d="M275.30 687.51 h-2.50" stroke="#808080" stroke-width="1"/><path d="M112.00 675.45 h2.50" stroke="#808080" stroke-width="1"/><path d="M275.30 675.45 h-2.50" stroke="#808080" stroke-width="1"/><path d="M112.00 663.40 h2.50" stroke="#808080" stroke-width="1"/><path d="M275.30 663.40 h-2.50" stroke="#808080" stroke-width="1"/><path d="M112.00 651.34 h2.50" stroke="#808080" stroke-width="1"/><path d="M275.30 651.34 h-2.50" stroke="#808080" stroke-width="1"/><path d="M112.00 639.28 h2.50" stroke="#808080" stroke-width="1"/><path d="M275.30 639.28 h-2.50" stroke="#808080" stroke-width="1"/><path d="M112.00 627.23 h2.50" stroke="#808080" stroke-width="1"/><path d="M275.30 627.23 h-2.50" stroke="#808080" stroke-width="1"/><path d="M112.00 615.17 h2.50" stroke="#808080" stroke-width="1"/><path d="M275.30 615.17 h-2.50" stroke="#808080" stroke-width="1"/><path d="M112.00 603.12 h2.50" stroke="#808080" stroke-width="1"/><path d="M275.30 603.12 h-2.50" stroke="#808080" stroke-width="1"/><path d="M112.00 591.06 h2.50" stroke="#808080" stroke-width="1"/><path d="M275.30 591.06 h-2.50" stroke="#808080" stroke-width="1"/><path d="M112.00 579.00 h2.50" stroke="#808080" stroke-width="1"/><path d="M275.30 579.00 h-2.50" stroke="#808080" stroke-width="1"/><path d="M112.00 566.95 h2.50" stroke="#808080" stroke-width="1"/><path d="M275.30 566.95 h-2.50" stroke="#808080" stroke-width="1"/><path d="M112.00 554.89 h2.50" stroke="#808080" stroke-width="1"/><path d="M275.30 554.89 h-2.50" stroke="#808080" stroke-width="1"/><path d="M112.00 771.90 h4.50" stroke="#808080" stroke-width="1"/><path d="M275.30 771.90 h-4.50" stroke="#808080" stroke-width="1"/><path d="M112.00 723.68 h4.50" stroke="#808080" stroke-width="1"/><path d="M275.30 723.68 h-4.50" stroke="#808080" stroke-width="1"/><path d="M112.00 675.45 h4.50" stroke="#808080" stroke-width="1"/><path d="M275.30 675.45 h-4.50" stroke="#808080" stroke-width="1"/><path d="M112.00 627.23 h4.50" stroke="#808080" stroke-width="1"/><path d="M275.30 627.23 h-4.50" stroke="#808080" stroke-width="1"/><path d="M112.00 579.00 h4.50" stroke="#808080" stroke-width="1"/><path d="M275.30 579.00 h-4.50" stroke="#808080" stroke-width="1"/><rect x="287.40" y="543.50" width="163.30" height="232.70" fill="none" stroke="#808080" stroke-width="1.10"/><path d="M287.40 776.20 v-2.50" stroke="#808080" stroke-width="1"/><path d="M287.40 543.50 v2.50" stroke="#808080" stroke-width="1"/><path d="M298.21 776.20 v-2.50" stroke="#808080" stroke-width="1"/><path d="M298.21 543.50 v2.50" stroke="#808080" stroke-width="1"/><path d="M309.03 776.20 v-2.50" stroke="#808080" stroke-width="1"/><path d="M309.03 543.50 v2.50" stroke="#808080" stroke-width="1"/><path d="M319.84 776.20 v-2.50" stroke="#808080" stroke-width="1"/><path d="M319.84 543.50 v2.50" stroke="#808080" stroke-width="1"/><path d="M330.66 776.20 v-2.50" stroke="#808080" stroke-width="1"/><path d="M330.66 543.50 v2.50" stroke="#808080" stroke-width="1"/><path d="M341.47 776.20 v-2.50" stroke="#808080" stroke-width="1"/><path d="M341.47 543.50 v2.50" stroke="#808080" stroke-width="1"/><path d="M352.29 776.20 v-2.50" stroke="#808080" stroke-width="1"/><path d="M352.29 543.50 v2.50" stroke="#808080" stroke-width="1"/><path d="M363.10 776.20 v-2.50" stroke="#808080" stroke-width="1"/><path d="M363.10 543.50 v2.50" stroke="#808080" stroke-width="1"/><path d="M373.92 776.20 v-2.50" stroke="#808080" stroke-width="1"/><path d="M373.92 543.50 v2.50" stroke="#808080" stroke-width="1"/><path d="M384.73 776.20 v-2.50" stroke="#808080" stroke-width="1"/><path d="M384.73 543.50 v2.50" stroke="#808080" stroke-width="1"/><path d="M395.55 776.20 v-2.50" stroke="#808080" stroke-width="1"/><path d="M395.55 543.50 v2.50" stroke="#808080" stroke-width="1"/><path d="M406.36 776.20 v-2.50" stroke="#808080" stroke-width="1"/><path d="M406.36 543.50 v2.50" stroke="#808080" stroke-width="1"/><path d="M417.17 776.20 v-2.50" stroke="#808080" stroke-width="1"/><path d="M417.17 543.50 v2.50" stroke="#808080" stroke-width="1"/><path d="M427.99 776.20 v-2.50" stroke="#808080" stroke-width="1"/><path d="M427.99 543.50 v2.50" stroke="#808080" stroke-width="1"/><path d="M438.80 776.20 v-2.50" stroke="#808080" stroke-width="1"/><path d="M438.80 543.50 v2.50" stroke="#808080" stroke-width="1"/><path d="M449.62 776.20 v-2.50" stroke="#808080" stroke-width="1"/><path d="M449.62 543.50 v2.50" stroke="#808080" stroke-width="1"/><path d="M287.40 776.20 v-4.50" stroke="#808080" stroke-width="1"/><path d="M287.40 543.50 v4.50" stroke="#808080" stroke-width="1"/><path d="M309.03 776.20 v-4.50" stroke="#808080" stroke-width="1"/><path d="M309.03 543.50 v4.50" stroke="#808080" stroke-width="1"/><path d="M330.66 776.20 v-4.50" stroke="#808080" stroke-width="1"/><path d="M330.66 543.50 v4.50" stroke="#808080" stroke-width="1"/><path d="M352.29 776.20 v-4.50" stroke="#808080" stroke-width="1"/><path d="M352.29 543.50 v4.50" stroke="#808080" stroke-width="1"/><path d="M373.92 776.20 v-4.50" stroke="#808080" stroke-width="1"/><path d="M373.92 543.50 v4.50" stroke="#808080" stroke-width="1"/><path d="M395.55 776.20 v-4.50" stroke="#808080" stroke-width="1"/><path d="M395.55 543.50 v4.50" stroke="#808080" stroke-width="1"/><path d="M417.17 776.20 v-4.50" stroke="#808080" stroke-width="1"/><path d="M417.17 543.50 v4.50" stroke="#808080" stroke-width="1"/><path d="M438.80 776.20 v-4.50" stroke="#808080" stroke-width="1"/><path d="M438.80 543.50 v4.50" stroke="#808080" stroke-width="1"/><path d="M287.40 771.90 h2.50" stroke="#808080" stroke-width="1"/><path d="M450.70 771.90 h-2.50" stroke="#808080" stroke-width="1"/><path d="M287.40 759.84 h2.50" stroke="#808080" stroke-width="1"/><path d="M450.70 759.84 h-2.50" stroke="#808080" stroke-width="1"/><path d="M287.40 747.79 h2.50" stroke="#808080" stroke-width="1"/><path d="M450.70 747.79 h-2.50" stroke="#808080" stroke-width="1"/><path d="M287.40 735.73 h2.50" stroke="#808080" stroke-width="1"/><path d="M450.70 735.73 h-2.50" stroke="#808080" stroke-width="1"/><path d="M287.40 723.68 h2.50" stroke="#808080" stroke-width="1"/><path d="M450.70 723.68 h-2.50" stroke="#808080" stroke-width="1"/><path d="M287.40 711.62 h2.50" stroke="#808080" stroke-width="1"/><path d="M450.70 711.62 h-2.50" stroke="#808080" stroke-width="1"/><path d="M287.40 699.56 h2.50" stroke="#808080" stroke-width="1"/><path d="M450.70 699.56 h-2.50" stroke="#808080" stroke-width="1"/><path d="M287.40 687.51 h2.50" stroke="#808080" stroke-width="1"/><path d="M450.70 687.51 h-2.50" stroke="#808080" stroke-width="1"/><path d="M287.40 675.45 h2.50" stroke="#808080" stroke-width="1"/><path d="M450.70 675.45 h-2.50" stroke="#808080" stroke-width="1"/><path d="M287.40 663.40 h2.50" stroke="#808080" stroke-width="1"/><path d="M450.70 663.40 h-2.50" stroke="#808080" stroke-width="1"/><path d="M287.40 651.34 h2.50" stroke="#808080" stroke-width="1"/><path d="M450.70 651.34 h-2.50" stroke="#808080" stroke-width="1"/><path d="M287.40 639.28 h2.50" stroke="#808080" stroke-width="1"/><path d="M450.70 639.28 h-2.50" stroke="#808080" stroke-width="1"/><path d="M287.40 627.23 h2.50" stroke="#808080" stroke-width="1"/><path d="M450.70 627.23 h-2.50" stroke="#808080" stroke-width="1"/><path d="M287.40 615.17 h2.50" stroke="#808080" stroke-width="1"/><path d="M450.70 615.17 h-2.50" stroke="#808080" stroke-width="1"/><path d="M287.40 603.12 h2.50" stroke="#808080" stroke-width="1"/><path d="M450.70 603.12 h-2.50" stroke="#808080" stroke-width="1"/><path d="M287.40 591.06 h2.50" stroke="#808080" stroke-width="1"/><path d="M450.70 591.06 h-2.50" stroke="#808080" stroke-width="1"/><path d="M287.40 579.00 h2.50" stroke="#808080" stroke-width="1"/><path d="M450.70 579.00 h-2.50" stroke="#808080" stroke-width="1"/><path d="M287.40 566.95 h2.50" stroke="#808080" stroke-width="1"/><path d="M450.70 566.95 h-2.50" stroke="#808080" stroke-width="1"/><path d="M287.40 554.89 h2.50" stroke="#808080" stroke-width="1"/><path d="M450.70 554.89 h-2.50" stroke="#808080" stroke-width="1"/><path d="M287.40 771.90 h4.50" stroke="#808080" stroke-width="1"/><path d="M450.70 771.90 h-4.50" stroke="#808080" stroke-width="1"/><path d="M287.40 723.68 h4.50" stroke="#808080" stroke-width="1"/><path d="M450.70 723.68 h-4.50" stroke="#808080" stroke-width="1"/><path d="M287.40 675.45 h4.50" stroke="#808080" stroke-width="1"/><path d="M450.70 675.45 h-4.50" stroke="#808080" stroke-width="1"/><path d="M287.40 627.23 h4.50" stroke="#808080" stroke-width="1"/><path d="M450.70 627.23 h-4.50" stroke="#808080" stroke-width="1"/><path d="M287.40 579.00 h4.50" stroke="#808080" stroke-width="1"/><path d="M450.70 579.00 h-4.50" stroke="#808080" stroke-width="1"/><text x="106.50" y="776.20" font-size="12.00" fill="#111" text-anchor="end">2</text><text x="106.50" y="727.98" font-size="12.00" fill="#111" text-anchor="end">3</text><text x="106.50" y="679.75" font-size="12.00" fill="#111" text-anchor="end">4</text><text x="106.50" y="631.53" font-size="12.00" fill="#111" text-anchor="end">5</text><text x="106.50" y="583.30" font-size="12.00" fill="#111" text-anchor="end">6</text><text x="112.00" y="791.00" font-size="12.00" fill="#111" text-anchor="middle">0.0</text><text x="155.26" y="791.00" font-size="12.00" fill="#111" text-anchor="middle">0.4</text><text x="198.52" y="791.00" font-size="12.00" fill="#111" text-anchor="middle">0.8</text><text x="241.77" y="791.00" font-size="12.00" fill="#111" text-anchor="middle">1.2</text><text x="287.40" y="791.00" font-size="12.00" fill="#111" text-anchor="middle">0.0</text><text x="330.66" y="791.00" font-size="12.00" fill="#111" text-anchor="middle">0.4</text><text x="373.92" y="791.00" font-size="12.00" fill="#111" text-anchor="middle">0.8</text><text x="417.17" y="791.00" font-size="12.00" fill="#111" text-anchor="middle">1.2</text><text x="281.30" y="808.00" font-size="13.00" fill="#111" text-anchor="middle">Fermi level (eV)</text><text x="93.00" y="660.00" font-size="13.00" fill="#111" text-anchor="middle" transform="rotate(-90 93.00 660.00)">Formation energy (eV)</text><text x="118.70" y="559.20" font-size="13.00" fill="#111" text-anchor="start">(a)</text><text x="294.20" y="559.20" font-size="13.00" fill="#111" text-anchor="start">(b)</text><text x="172.00" y="764.00" font-size="13.30" fill="#111" text-anchor="start">Ga-rich</text><text x="348.20" y="764.00" font-size="13.30" fill="#111" text-anchor="start">As-rich</text><g><rect x="178.00" y="594.20" width="66.05" height="13.12" fill="#fff"/><text xml:space="preserve" x="179.50" y="604.20" font-size="12.50" fill="#fff" stroke="#fff" stroke-width="3.5" stroke-linejoin="round">(As</text><text xml:space="preserve" x="198.25" y="607.70" font-size="8.50" fill="#fff" stroke="#fff" stroke-width="3.5" stroke-linejoin="round">Ga</text><text xml:space="preserve" x="209.59" y="604.20" font-size="12.50" fill="#fff" stroke="#fff" stroke-width="3.5" stroke-linejoin="round">-</text><text xml:space="preserve" x="213.75" y="604.20" font-size="12.50" font-style="italic" fill="#fff" stroke="#fff" stroke-width="3.5" stroke-linejoin="round">V</text><text xml:space="preserve" x="222.09" y="607.70" font-size="8.50" fill="#fff" stroke="#fff" stroke-width="3.5" stroke-linejoin="round">Ga</text><text xml:space="preserve" x="233.43" y="604.20" font-size="12.50" fill="#fff" stroke="#fff" stroke-width="3.5" stroke-linejoin="round">)</text><text xml:space="preserve" x="237.59" y="598.95" font-size="8.50" fill="#fff" stroke="#fff" stroke-width="3.5" stroke-linejoin="round">−</text><text xml:space="preserve" x="179.50" y="604.20" font-size="12.50" fill="#F39222">(As</text><text xml:space="preserve" x="198.25" y="607.70" font-size="8.50" fill="#F39222">Ga</text><text xml:space="preserve" x="209.59" y="604.20" font-size="12.50" fill="#F39222">-</text><text xml:space="preserve" x="213.75" y="604.20" font-size="12.50" font-style="italic" fill="#F39222">V</text><text xml:space="preserve" x="222.09" y="607.70" font-size="8.50" fill="#F39222">Ga</text><text xml:space="preserve" x="233.43" y="604.20" font-size="12.50" fill="#F39222">)</text><text xml:space="preserve" x="237.59" y="598.95" font-size="8.50" fill="#F39222">−</text></g><g><rect x="181.80" y="655.00" width="63.11" height="13.12" fill="#fff"/><text xml:space="preserve" x="183.30" y="665.00" font-size="12.50" fill="#fff" stroke="#fff" stroke-width="3.5" stroke-linejoin="round">(</text><text xml:space="preserve" x="187.46" y="665.00" font-size="12.50" font-style="italic" fill="#fff" stroke="#fff" stroke-width="3.5" stroke-linejoin="round">V</text><text xml:space="preserve" x="195.80" y="668.50" font-size="8.50" fill="#fff" stroke="#fff" stroke-width="3.5" stroke-linejoin="round">Ga</text><text xml:space="preserve" x="207.14" y="665.00" font-size="12.50" fill="#fff" stroke="#fff" stroke-width="3.5" stroke-linejoin="round">-</text><text xml:space="preserve" x="211.30" y="665.00" font-size="12.50" font-style="italic" fill="#fff" stroke="#fff" stroke-width="3.5" stroke-linejoin="round">V</text><text xml:space="preserve" x="219.64" y="668.50" font-size="8.50" fill="#fff" stroke="#fff" stroke-width="3.5" stroke-linejoin="round">As</text><text xml:space="preserve" x="229.56" y="665.00" font-size="12.50" fill="#fff" stroke="#fff" stroke-width="3.5" stroke-linejoin="round">)</text><text xml:space="preserve" x="233.72" y="659.75" font-size="8.50" fill="#fff" stroke="#fff" stroke-width="3.5" stroke-linejoin="round">2−</text><text xml:space="preserve" x="183.30" y="665.00" font-size="12.50" fill="#7E8C1E">(</text><text xml:space="preserve" x="187.46" y="665.00" font-size="12.50" font-style="italic" fill="#7E8C1E">V</text><text xml:space="preserve" x="195.80" y="668.50" font-size="8.50" fill="#7E8C1E">Ga</text><text xml:space="preserve" x="207.14" y="665.00" font-size="12.50" fill="#7E8C1E">-</text><text xml:space="preserve" x="211.30" y="665.00" font-size="12.50" font-style="italic" fill="#7E8C1E">V</text><text xml:space="preserve" x="219.64" y="668.50" font-size="8.50" fill="#7E8C1E">As</text><text xml:space="preserve" x="229.56" y="665.00" font-size="12.50" fill="#7E8C1E">)</text><text xml:space="preserve" x="233.72" y="659.75" font-size="8.50" fill="#7E8C1E">2−</text></g><g><text xml:space="preserve" x="134.90" y="692.50" font-size="12.50" fill="#1C2AA0">(Ga</text><text xml:space="preserve" x="155.74" y="696.00" font-size="8.50" fill="#1C2AA0">As</text><text xml:space="preserve" x="165.66" y="692.50" font-size="12.50" fill="#1C2AA0">-</text><text xml:space="preserve" x="169.82" y="692.50" font-size="12.50" font-style="italic" fill="#1C2AA0">V</text><text xml:space="preserve" x="178.16" y="696.00" font-size="8.50" fill="#1C2AA0">As</text><text xml:space="preserve" x="188.08" y="692.50" font-size="12.50" fill="#1C2AA0">)</text><text xml:space="preserve" x="192.24" y="687.25" font-size="8.50" fill="#1C2AA0">0</text></g><g><rect x="151.60" y="724.10" width="72.74" height="13.12" fill="#fff"/><text xml:space="preserve" x="153.10" y="734.10" font-size="12.50" fill="#fff" stroke="#fff" stroke-width="3.5" stroke-linejoin="round">(Ga</text><text xml:space="preserve" x="173.94" y="737.60" font-size="8.50" fill="#fff" stroke="#fff" stroke-width="3.5" stroke-linejoin="round">As</text><text xml:space="preserve" x="183.86" y="734.10" font-size="12.50" fill="#fff" stroke="#fff" stroke-width="3.5" stroke-linejoin="round">-As</text><text xml:space="preserve" x="202.61" y="737.60" font-size="8.50" fill="#fff" stroke="#fff" stroke-width="3.5" stroke-linejoin="round">Ga</text><text xml:space="preserve" x="213.95" y="734.10" font-size="12.50" fill="#fff" stroke="#fff" stroke-width="3.5" stroke-linejoin="round">)</text><text xml:space="preserve" x="218.11" y="728.85" font-size="8.50" fill="#fff" stroke="#fff" stroke-width="3.5" stroke-linejoin="round">0</text><text xml:space="preserve" x="153.10" y="734.10" font-size="12.50" fill="#8B1A1A">(Ga</text><text xml:space="preserve" x="173.94" y="737.60" font-size="8.50" fill="#8B1A1A">As</text><text xml:space="preserve" x="183.86" y="734.10" font-size="12.50" fill="#8B1A1A">-As</text><text xml:space="preserve" x="202.61" y="737.60" font-size="8.50" fill="#8B1A1A">Ga</text><text xml:space="preserve" x="213.95" y="734.10" font-size="12.50" fill="#8B1A1A">)</text><text xml:space="preserve" x="218.11" y="728.85" font-size="8.50" fill="#8B1A1A">0</text></g><g><rect x="366.20" y="571.30" width="65.30" height="13.12" fill="#fff"/><text xml:space="preserve" x="367.70" y="581.30" font-size="12.50" fill="#fff" stroke="#fff" stroke-width="3.5" stroke-linejoin="round">(Ga</text><text xml:space="preserve" x="388.54" y="584.80" font-size="8.50" fill="#fff" stroke="#fff" stroke-width="3.5" stroke-linejoin="round">As</text><text xml:space="preserve" x="398.46" y="581.30" font-size="12.50" fill="#fff" stroke="#fff" stroke-width="3.5" stroke-linejoin="round">-</text><text xml:space="preserve" x="402.62" y="581.30" font-size="12.50" font-style="italic" fill="#fff" stroke="#fff" stroke-width="3.5" stroke-linejoin="round">V</text><text xml:space="preserve" x="410.96" y="584.80" font-size="8.50" fill="#fff" stroke="#fff" stroke-width="3.5" stroke-linejoin="round">As</text><text xml:space="preserve" x="420.88" y="581.30" font-size="12.50" fill="#fff" stroke="#fff" stroke-width="3.5" stroke-linejoin="round">)</text><text xml:space="preserve" x="425.04" y="576.05" font-size="8.50" fill="#fff" stroke="#fff" stroke-width="3.5" stroke-linejoin="round">−</text><text xml:space="preserve" x="367.70" y="581.30" font-size="12.50" fill="#1C2AA0">(Ga</text><text xml:space="preserve" x="388.54" y="584.80" font-size="8.50" fill="#1C2AA0">As</text><text xml:space="preserve" x="398.46" y="581.30" font-size="12.50" fill="#1C2AA0">-</text><text xml:space="preserve" x="402.62" y="581.30" font-size="12.50" font-style="italic" fill="#1C2AA0">V</text><text xml:space="preserve" x="410.96" y="584.80" font-size="8.50" fill="#1C2AA0">As</text><text xml:space="preserve" x="420.88" y="581.30" font-size="12.50" fill="#1C2AA0">)</text><text xml:space="preserve" x="425.04" y="576.05" font-size="8.50" fill="#1C2AA0">−</text></g><g><rect x="329.30" y="625.00" width="58.38" height="13.12" fill="#fff"/><text xml:space="preserve" x="330.80" y="635.00" font-size="12.50" fill="#fff" stroke="#fff" stroke-width="3.5" stroke-linejoin="round">(</text><text xml:space="preserve" x="334.96" y="635.00" font-size="12.50" font-style="italic" fill="#fff" stroke="#fff" stroke-width="3.5" stroke-linejoin="round">V</text><text xml:space="preserve" x="343.30" y="638.50" font-size="8.50" fill="#fff" stroke="#fff" stroke-width="3.5" stroke-linejoin="round">Ga</text><text xml:space="preserve" x="354.64" y="635.00" font-size="12.50" fill="#fff" stroke="#fff" stroke-width="3.5" stroke-linejoin="round">-</text><text xml:space="preserve" x="358.80" y="635.00" font-size="12.50" font-style="italic" fill="#fff" stroke="#fff" stroke-width="3.5" stroke-linejoin="round">V</text><text xml:space="preserve" x="367.14" y="638.50" font-size="8.50" fill="#fff" stroke="#fff" stroke-width="3.5" stroke-linejoin="round">As</text><text xml:space="preserve" x="377.06" y="635.00" font-size="12.50" fill="#fff" stroke="#fff" stroke-width="3.5" stroke-linejoin="round">)</text><text xml:space="preserve" x="381.22" y="629.75" font-size="8.50" fill="#fff" stroke="#fff" stroke-width="3.5" stroke-linejoin="round">−</text><text xml:space="preserve" x="330.80" y="635.00" font-size="12.50" fill="#7E8C1E">(</text><text xml:space="preserve" x="334.96" y="635.00" font-size="12.50" font-style="italic" fill="#7E8C1E">V</text><text xml:space="preserve" x="343.30" y="638.50" font-size="8.50" fill="#7E8C1E">Ga</text><text xml:space="preserve" x="354.64" y="635.00" font-size="12.50" fill="#7E8C1E">-</text><text xml:space="preserve" x="358.80" y="635.00" font-size="12.50" font-style="italic" fill="#7E8C1E">V</text><text xml:space="preserve" x="367.14" y="638.50" font-size="8.50" fill="#7E8C1E">As</text><text xml:space="preserve" x="377.06" y="635.00" font-size="12.50" fill="#7E8C1E">)</text><text xml:space="preserve" x="381.22" y="629.75" font-size="8.50" fill="#7E8C1E">−</text></g><g><text xml:space="preserve" x="293.70" y="716.10" font-size="12.50" fill="#F39222">(As</text><text xml:space="preserve" x="312.45" y="719.60" font-size="8.50" fill="#F39222">Ga</text><text xml:space="preserve" x="323.79" y="716.10" font-size="12.50" fill="#F39222">-</text><text xml:space="preserve" x="327.95" y="716.10" font-size="12.50" font-style="italic" fill="#F39222">V</text><text xml:space="preserve" x="336.29" y="719.60" font-size="8.50" fill="#F39222">Ga</text><text xml:space="preserve" x="347.63" y="716.10" font-size="12.50" fill="#F39222">)</text><text xml:space="preserve" x="351.79" y="710.85" font-size="8.50" fill="#F39222">0</text></g><g><rect x="349.80" y="724.10" width="72.74" height="13.12" fill="#fff"/><text xml:space="preserve" x="351.30" y="734.10" font-size="12.50" fill="#fff" stroke="#fff" stroke-width="3.5" stroke-linejoin="round">(Ga</text><text xml:space="preserve" x="372.14" y="737.60" font-size="8.50" fill="#fff" stroke="#fff" stroke-width="3.5" stroke-linejoin="round">As</text><text xml:space="preserve" x="382.06" y="734.10" font-size="12.50" fill="#fff" stroke="#fff" stroke-width="3.5" stroke-linejoin="round">-As</text><text xml:space="preserve" x="400.81" y="737.60" font-size="8.50" fill="#fff" stroke="#fff" stroke-width="3.5" stroke-linejoin="round">Ga</text><text xml:space="preserve" x="412.15" y="734.10" font-size="12.50" fill="#fff" stroke="#fff" stroke-width="3.5" stroke-linejoin="round">)</text><text xml:space="preserve" x="416.31" y="728.85" font-size="8.50" fill="#fff" stroke="#fff" stroke-width="3.5" stroke-linejoin="round">0</text><text xml:space="preserve" x="351.30" y="734.10" font-size="12.50" fill="#8B1A1A">(Ga</text><text xml:space="preserve" x="372.14" y="737.60" font-size="8.50" fill="#8B1A1A">As</text><text xml:space="preserve" x="382.06" y="734.10" font-size="12.50" fill="#8B1A1A">-As</text><text xml:space="preserve" x="400.81" y="737.60" font-size="8.50" fill="#8B1A1A">Ga</text><text xml:space="preserve" x="412.15" y="734.10" font-size="12.50" fill="#8B1A1A">)</text><text xml:space="preserve" x="416.31" y="728.85" font-size="8.50" fill="#8B1A1A">0</text></g></svg>
</div>
<div class="pg" style="left:2781px">
<div class="l sm" style="left:82.00px;top:384.81px;word-spacing:1.109px;letter-spacing:0.55px">FIG. 3. Formation energies of O-related defects in GaAs un-</div>
<div class="l sm" style="left:82.00px;top:400.75px;word-spacing:1.887px;letter-spacing:0.55px">der the extreme Ga-rich and As-rich conditions. The forma-</div>
<div class="l sm" style="left:82.00px;top:416.67px;word-spacing:3.818px;letter-spacing:0.55px">tion energies of O<span class="ss"><span class="su">0</span><span class="sb">As</span></span> and (O<sub>As</sub>-2As<sub>Ga</sub>)<sup>0</sup> are represented by</div>
<div class="l sm" style="left:82.00px;top:432.61px;letter-spacing:0.55px">dotted blue and orange horizontal segments, respectively.</div>
<div class="l bd" style="left:82.00px;top:484.82px;word-spacing:0.958px;letter-spacing:0.55px">formation energy than <i>V</i><sub>Ga</sub>, As<sub>Ga</sub> is charge compensated</div>
<div class="l bd" style="left:82.00px;top:502.24px;word-spacing:2.432px;letter-spacing:0.55px">by <i>V</i><sub>Ga</sub>. Other single native defects, including <i>V</i><sub>As</sub>, all</div>
<div class="l bd" style="left:82.00px;top:519.68px;word-spacing:2.259px;letter-spacing:0.55px">have very high formation energies; see Fig. 1. This is</div>
<div class="l bd" style="left:82.00px;top:537.10px;word-spacing:1.451px;letter-spacing:0.55px">consistent with experimental reports showing that As<sub>Ga</sub></div>
<div class="l bd" style="left:82.00px;top:554.53px;word-spacing:3.047px;letter-spacing:0.55px">is abundant in As-excess GaAs samples and the anti-</div>
<div class="l bd" style="left:82.00px;top:571.96px;word-spacing:0.042px;letter-spacing:0.55px">site defect is charge compensated by <i>V</i><sub>Ga</sub> [21–23]. In the</div>
<div class="l bd" style="left:82.00px;top:589.39px;word-spacing:2.732px;letter-spacing:0.55px">presence of the acceptor-like impurities, As<sub>Ga</sub> can pin</div>
<div class="l bd" style="left:82.00px;top:606.82px;word-spacing:1.869px;letter-spacing:0.55px">the Fermi level near the middle of the band gap. Note</div>
<div class="l bd" style="left:82.00px;top:624.25px;word-spacing:1.064px;letter-spacing:0.55px">that As<sub><i>i</i></sub> has a much higher formation energy than other</div>
<div class="l bd" style="left:82.00px;top:641.67px;word-spacing:-0.121px;letter-spacing:0.55px">native defects under all conditions from the extreme Ga-</div>
<div class="l bd" style="left:82.00px;top:659.10px;word-spacing:0.603px;letter-spacing:0.55px">rich to the extreme As-rich. A complex of As<sub>Ga</sub> and As<sub><i>i</i></sub>,</div>
<div class="l bd" style="left:82.00px;top:676.53px;letter-spacing:0.491px;word-spacing:-0.800px">as sometimes suggested [20], is thus unlikely to be stable.</div>
<div class="l bd" style="left:97.10px;top:693.96px;word-spacing:0.319px;letter-spacing:0.55px">On the basis of the calculated defect levels, As<sub>Ga</sub> may</div>
<div class="l bd" style="left:82.00px;top:711.39px;word-spacing:2.418px;letter-spacing:0.55px">be identified with the <i>EL2</i> center with the energies at</div>
<div class="l bd" style="left:82.00px;top:728.81px;letter-spacing:0.518px;word-spacing:-0.800px">0.50–0.54 eV and 0.75–0.77 eV above the VBM observed</div>
<div class="l bd" style="left:82.00px;top:746.25px;word-spacing:0.614px;letter-spacing:0.55px">in experiments [15–19]. The results for the (2 + /+) and</div>
<div class="l bd" style="left:82.00px;top:763.67px;word-spacing:1.717px;letter-spacing:0.55px">(+/0) levels of As<sub>Ga</sub>, at 0.44 and 0.80 eV, respectively,</div>
<div class="l bd" style="left:82.00px;top:781.11px;word-spacing:1.168px;letter-spacing:0.55px">obtained in our HSE calculations are also in agreement</div>
<div class="l bd" style="left:82.00px;top:798.53px;word-spacing:1.527px;letter-spacing:0.55px">with those calculated at the <i>G</i><sub>0</sub><i>W</i><sub>0</sub>@HSE level reported</div>
<div class="l bd" style="left:82.00px;top:815.97px;word-spacing:-0.003px;letter-spacing:0.55px">by Chen and Pasquarello [48] in which the atomic struc-</div>
<div class="l bd" style="left:82.00px;top:833.39px;word-spacing:2.444px;letter-spacing:0.55px">ture was relaxed at the HSE level. Our results are, in</div>
<div class="l bd" style="left:82.00px;top:850.83px;word-spacing:0.372px;letter-spacing:0.55px">general, quantitatively different from previous HSE cal-</div>
<div class="l bd" style="left:82.00px;top:868.25px;word-spacing:2.672px;letter-spacing:0.55px">culations using smaller supercells and/or other atomic</div>
<div class="l bd" style="left:82.00px;top:885.69px;letter-spacing:0.536px;word-spacing:-0.800px">relaxation and finite-size correction schemes. Komsa and</div>
<div class="l bd" style="left:82.00px;top:903.13px;word-spacing:0.369px;letter-spacing:0.55px">Pasquarello [46], for example, reported that <i>V</i><sub>As</sub> is ener-</div>
<div class="l bd" style="left:82.00px;top:920.55px;word-spacing:3.004px;letter-spacing:0.55px">getically stable in the +, 0, −, and 2− states. We, on</div>
<div class="l bd" style="left:82.00px;top:937.99px;word-spacing:2.035px;letter-spacing:0.55px">the other hand, find that it is stable only in the + and</div>
<div class="l bd" style="left:82.00px;top:955.41px;letter-spacing:0.55px">− states with <i>V</i><span class="ss"><span class="su">−</span><span class="sb">As</span></span> is lower in energy than <i>V</i><span class="ss"><span class="su">0</span><span class="sb">As</span></span> and <i>V</i><span class="ss"><span class="su">2−</span><span class="sb">As</span></span>.</div>
<div class="l bd" style="left:97.10px;top:1051.82px;word-spacing:-0.686px;letter-spacing:0.55px">Figure 3 shows the formation energies of O-related de-</div>
<div class="l bd" style="left:82.00px;top:1069.21px;word-spacing:1.302px;letter-spacing:0.55px">fects in GaAs. O<sub>As</sub> is electronically stable as O<span class="ss"><span class="su">+</span><span class="sb">As</span></span>, O<span class="ss"><span class="su">0</span><span class="sb">As</span></span>,</div>
<div class="l bd" style="left:82.00px;top:1088.21px;word-spacing:1.695px;letter-spacing:0.55px">and O<span class="ss"><span class="su">−</span><span class="sb">As</span></span> but O<span class="ss"><span class="su">0</span><span class="sb">As</span></span> is energetically metastable; the (+/−),</div>
<div class="l bd" style="left:480.20px;top:89.32px;word-spacing:-0.038px;letter-spacing:0.55px">(+/0), and (0/−) levels are degenerate in energy; see also</div>
<div class="l bd" style="left:480.20px;top:106.91px;word-spacing:1.801px;letter-spacing:0.55px">Table I. The substitutional O atom is significantly off-</div>
<div class="l bd" style="left:480.20px;top:123.91px;word-spacing:0.161px;letter-spacing:0.55px">center and forms approximately an OGa<sub>3</sub> trigonal planar</div>
<div class="l bd" style="left:480.20px;top:141.60px;word-spacing:0.526px;letter-spacing:0.55px">(but stays slightly above the Ga triangle plane) with the</div>
<div class="l bd" style="left:480.20px;top:159.82px;word-spacing:-0.537px;letter-spacing:0.55px">O–Ga distance of 2.01 Å (in O<span class="ss"><span class="su">+</span><span class="sb">As</span></span>), 2.00 Å (O<span class="ss"><span class="su">0</span><span class="sb">As</span></span>), or 1.94–</div>
<div class="l bd" style="left:480.20px;top:178.71px;word-spacing:-0.585px;letter-spacing:0.55px">2.03 Å (O<span class="ss"><span class="su">−</span><span class="sb">As</span></span>); see Fig. A1(e) in Appendix A. O<sub>As</sub> can thus</div>
<div class="l bd" style="left:480.20px;top:194.51px;letter-spacing:0.55px">be referred to as being quasi-substitutional.</div>
<div class="l bd" style="left:495.30px;top:214.60px;word-spacing:1.648px;letter-spacing:0.55px">Oxygen can also be incorporated into the GaAs host</div>
<div class="l bd" style="left:480.20px;top:232.21px;word-spacing:2.537px;letter-spacing:0.55px">at interstitial sites. In the O<sub><i>i</i>,brid</sub> configuration, the in-</div>
<div class="l bd" style="left:480.20px;top:249.66px;word-spacing:1.741px;letter-spacing:0.55px">terstitial atom bridges one Ga and one As and forms a</div>
<div class="l bd" style="left:480.20px;top:267.10px;word-spacing:-0.221px;letter-spacing:0.55px">puckered bond-center Ga–O–As defect; see Fig. A1(f) in</div>
<div class="l bd" style="left:480.20px;top:284.57px;word-spacing:1.524px;letter-spacing:0.55px">Appendix A. It pushes the two host atoms slightly off-</div>
<div class="l bd" style="left:480.20px;top:302.01px;letter-spacing:0.535px;word-spacing:-0.800px">center; the O–Ga and O–As distances are 1.83 Å and 1.75</div>
<div class="l bd" style="left:480.20px;top:319.46px;word-spacing:0.232px;letter-spacing:0.55px">Å, respectively. In the O<sub><i>i</i>,tet</sub> configuration, the oxygen is</div>
<div class="l bd" style="left:480.20px;top:336.91px;word-spacing:0.598px;letter-spacing:0.55px">tetrahedrally coordinated with Ga; the O–Ga distance is</div>
<div class="l bd" style="left:480.20px;top:354.41px;letter-spacing:0.55px">2.05 Å in O<span class="ss"><span class="su">2−</span><span class="sb"><i>i</i>,tet</span></span>; Fig. A1(g) in Appendix A.</div>
<div class="l bd" style="left:495.30px;top:374.60px;word-spacing:-0.130px;letter-spacing:0.55px">Other O-related defects include (2O)<sub>As</sub> in which an As</div>
<div class="l bd" style="left:480.20px;top:392.82px;word-spacing:3.693px;letter-spacing:0.55px">atom is substituted by two O atoms. (2O)<sub>As</sub> forms a</div>
<div class="l bd" style="left:480.20px;top:409.98px;word-spacing:0.341px;letter-spacing:0.55px">double-wing shape with two OGa<sub>3</sub> (approximately) trig-</div>
<div class="l bd" style="left:480.20px;top:427.14px;word-spacing:2.797px;letter-spacing:0.55px">onal planars sharing two Ga atoms. Finally, O<sub>As</sub>-As<sub>Ga</sub></div>
<div class="l bd" style="left:480.20px;top:444.32px;word-spacing:1.942px;letter-spacing:0.55px">and O<sub>As</sub>-2As<sub>Ga</sub> are defect complexes consisting of O<sub>As</sub></div>
<div class="l bd" style="left:480.20px;top:461.68px;word-spacing:3.551px;letter-spacing:0.55px">and one and two As<sub>Ga</sub> defects, respectively. In (O<sub>As</sub>-</div>
<div class="l bd" style="left:480.20px;top:479.06px;word-spacing:2.596px;letter-spacing:0.55px">As<sub>Ga</sub>)<sup>+</sup> and (O<sub>As</sub>-As<sub>Ga</sub>)<sup>0</sup>, the local structure of O<sub>As</sub> re-</div>
<div class="l bd" style="left:480.20px;top:496.44px;word-spacing:1.545px;letter-spacing:0.55px">mains largely intact with O forming three O–Ga bonds</div>
<div class="l bd" style="left:480.20px;top:513.82px;word-spacing:3.401px;letter-spacing:0.55px">with bond lengths of 1.98–1.99 Å, see Fig. A1(h) in</div>
<div class="l bd" style="left:480.20px;top:531.19px;word-spacing:2.321px;letter-spacing:0.55px">Appendix A; whereas in (O<sub>As</sub>-As<sub>Ga</sub>)<sup>−</sup> the oxygen atom</div>
<div class="l bd" style="left:480.20px;top:548.56px;word-spacing:-0.510px;letter-spacing:0.55px">forms two O–Ga bonds, i.e., a puckered bond-center Ga–</div>
<div class="l bd" style="left:480.20px;top:565.95px;word-spacing:1.434px;letter-spacing:0.55px">O–Ga structure, with the O–Ga bond length of 1.87 Å.</div>
<div class="l bd" style="left:480.20px;top:583.32px;word-spacing:0.330px;letter-spacing:0.55px">In all three charge states of O<sub>As</sub>-2As<sub>Ga</sub>, O forms a puck-</div>
<div class="l bd" style="left:480.20px;top:600.69px;word-spacing:2.714px;letter-spacing:0.55px">ered bond-center Ga–O–Ga structure with O–Ga bond</div>
<div class="l bd" style="left:480.20px;top:618.07px;word-spacing:1.880px;letter-spacing:0.55px">lengths of 1.83–1.84 Å; see Fig. A1(i) in Appendix A.</div>
<div class="l bd" style="left:480.20px;top:635.45px;letter-spacing:0.479px;word-spacing:-0.800px">The electronically stable charge states of these complexes</div>
<div class="l bd" style="left:480.20px;top:652.83px;word-spacing:-0.528px;letter-spacing:0.55px">and the binding energy with respect to their isolated con-</div>
<div class="l bd" style="left:480.20px;top:670.21px;letter-spacing:0.55px">stituents are reported in Table A1 in Appendix A.</div>
<div class="l bd" style="left:495.30px;top:689.71px;word-spacing:1.602px;letter-spacing:0.55px">Except for O<sub><i>i</i>,brid</sub> (stable only as electrically inactive</div>
<div class="l bd" style="left:480.20px;top:708.60px;word-spacing:0.931px;letter-spacing:0.55px">O<span class="ss"><span class="su">0</span><span class="sb"><i>i</i>,brid</span></span>) and (2O)<sub>As</sub> [stable only as (2O)<span class="ss"><span class="su">−</span><span class="sb">As</span></span>, a shallow ac-</div>
<div class="l bd" style="left:480.20px;top:725.60px;word-spacing:2.500px;letter-spacing:0.55px">ceptor], other O-related defects all induce energy lev-</div>
<div class="l bd" style="left:480.20px;top:743.04px;word-spacing:3.403px;letter-spacing:0.55px">els in the band gap of the host; see Table I. Among</div>
<div class="l bd" style="left:480.20px;top:760.46px;word-spacing:2.434px;letter-spacing:0.55px">the O-related defects, O<sub>As</sub> and O<sub>As</sub>-2As<sub>Ga</sub> both have a</div>
<div class="l bd" style="left:480.20px;top:777.87px;word-spacing:2.895px;letter-spacing:0.55px">thermodynamically metastable middle (neutral) charge</div>
<div class="l bd" style="left:480.20px;top:795.29px;word-spacing:1.277px;letter-spacing:0.55px">state which is paramagnetic with one unpaired electron</div>
<div class="l bd" style="left:480.20px;top:812.71px;word-spacing:1.409px;letter-spacing:0.55px">(<i>S</i> = 1/2). The latter is a “negative-<i>U</i>” center with <i>U</i> =</div>
<div class="l bd" style="left:480.20px;top:829.21px;letter-spacing:0.55px"><i>ϵ</i>(+/0) − <i>ϵ</i>(0/−) = 0.24 eV; the former has <i>U</i> = 0 eV.</div>
<div class="l bd" style="left:495.30px;top:849.41px;word-spacing:-0.059px;letter-spacing:0.55px">Energetically, O<sub>As</sub> is found to be the lowest-energy O-</div>
<div class="l bd" style="left:480.20px;top:867.01px;word-spacing:1.561px;letter-spacing:0.55px">related defect in the entire range of Fermi-level values</div>
<div class="l bd" style="left:480.20px;top:884.01px;word-spacing:0.891px;letter-spacing:0.55px">under the extreme Ga-rich condition; see Fig. 3(a). Un-</div>
<div class="l bd" style="left:480.20px;top:901.71px;word-spacing:1.919px;letter-spacing:0.55px">der the extreme As-rich condition, (O<sub>As</sub>-As<sub>Ga</sub>)<sup>+</sup>, O<span class="ss"><span class="su">0</span><span class="sb"><i>i</i>,brid</span></span>,</div>
<div class="l bd" style="left:480.20px;top:923.10px;word-spacing:1.960px;letter-spacing:0.55px">or O<span class="ss"><span class="su">2−</span><span class="sb"><i>i</i>,tet</span></span> is the lowest-energy O-related defect, depend-</div>
<div class="l bd" style="left:480.20px;top:942.60px;word-spacing:3.106px;letter-spacing:0.55px">ing the position of the Fermi level; Fig. 3(b). At the</div>
<div class="l bd" style="left:480.20px;top:960.82px;word-spacing:2.507px;letter-spacing:0.55px">midpoint between the two extreme limits, O<span class="ss"><span class="su">+</span><span class="sb">As</span></span>, O<span class="ss"><span class="su">0</span><span class="sb"><i>i</i>,brid</span></span>,</div>
<div class="l bd" style="left:480.20px;top:982.21px;word-spacing:0.663px;letter-spacing:0.55px">O<span class="ss"><span class="su">−</span><span class="sb">As</span></span>, or O<span class="ss"><span class="su">2−</span><span class="sb"><i>i</i>,tet</span></span> is the lowest-energy defect; see Fig. A2(c)</div>
<div class="l bd" style="left:480.20px;top:999.21px;word-spacing:2.603px;letter-spacing:0.55px">in Appendix A. Overall, under As-rich conditions, the</div>
<div class="l bd" style="left:480.20px;top:1016.91px;word-spacing:0.732px;letter-spacing:0.55px">O-related defects are relatively close in formation ener-</div>
<div class="l bd" style="left:480.20px;top:1034.51px;word-spacing:1.141px;letter-spacing:0.55px">gies. Multiple defect centers, including isolated defects</div>
<div class="l bd" style="left:480.20px;top:1051.51px;word-spacing:-0.481px;letter-spacing:0.55px">and defect complexes, are thus expected to exist in GaAs</div>
<div class="l bd" style="left:480.20px;top:1068.51px;letter-spacing:0.55px">samples prepared under such conditions.</div>
<div class="l bd" style="left:495.30px;top:1088.01px;word-spacing:-0.779px;letter-spacing:0.55px">Experimentally, multiple O-related defect centers have</div>
<div class="l bd" style="left:843.09px;top:49.82px;letter-spacing:0.55px">4</div>
<div class="l sec" style="left:187.50px;top:1012.50px;letter-spacing:1.350px">B.   Oxygen impurities</div>
<svg width="927" height="1200" viewBox="0 0 927 1200" style="left:0;top:0"><defs><clipPath id="f3a"><rect x="112.00" y="89.00" width="163.70" height="233.80"/></clipPath><clipPath id="f3b"><rect x="287.40" y="89.00" width="163.80" height="233.80"/></clipPath></defs><path d="M112.00 188.04 L275.70 253.37" fill="none" stroke="#8A2BE2" stroke-width="1.40" stroke-linejoin="round" stroke-dasharray="6 2.5 1.5 2.5" clip-path="url(#f3a)"/><path d="M112.00 259.86 L275.70 259.86" fill="none" stroke="#1B8C1B" stroke-width="1.60" stroke-linejoin="round" stroke-dasharray="5 3" clip-path="url(#f3a)"/><path d="M112.00 168.14 L117.42 165.98 L132.60 165.98 L144.52 170.73 L275.70 275.43" fill="none" stroke="#1A8C8C" stroke-width="1.50" stroke-linejoin="round" clip-path="url(#f3a)"/><g clip-path="url(#f3a)"><circle cx="117.42" cy="165.98" r="2.60" fill="#1A8C8C"/><circle cx="132.60" cy="165.98" r="2.60" fill="#1A8C8C"/><circle cx="144.52" cy="170.73" r="2.60" fill="#1A8C8C"/></g><path d="M112.00 150.83 L236.67 101.08 L275.70 116.66" fill="none" stroke="#F39222" stroke-width="1.50" stroke-linejoin="round" clip-path="url(#f3a)"/><g clip-path="url(#f3a)"><circle cx="236.67" cy="101.08" r="2.60" fill="#F39222"/></g><path d="M112.00 247.31 L249.68 192.37 L258.35 192.37 L275.70 199.29" fill="none" stroke="#E0202A" stroke-width="1.50" stroke-linejoin="round" clip-path="url(#f3a)"/><g clip-path="url(#f3a)"><circle cx="249.68" cy="192.37" r="2.60" fill="#E0202A"/><circle cx="258.35" cy="192.37" r="2.60" fill="#E0202A"/></g><path d="M112.00 311.34 L219.33 268.51 L275.70 291.00" fill="none" stroke="#1E2FDC" stroke-width="1.60" stroke-linejoin="round" clip-path="url(#f3a)"/><g clip-path="url(#f3a)"><circle cx="219.33" cy="268.51" r="2.60" fill="#1E2FDC"/></g><path d="M197.64 268.51 L238.84 268.51" fill="none" stroke="#1E2FDC" stroke-width="1.20" stroke-linejoin="round" stroke-dasharray="1.2 1.6" clip-path="url(#f3a)"/><path d="M214.99 95.89 L256.19 95.89" fill="none" stroke="#F39222" stroke-width="1.20" stroke-linejoin="round" stroke-dasharray="1.2 1.6" clip-path="url(#f3a)"/><path d="M214.99 92.43 L236.67 101.08" fill="none" stroke="#F39222" stroke-width="1.00" stroke-linejoin="round" stroke-dasharray="1.2 1.6" clip-path="url(#f3a)"/><path d="M236.67 101.08 L258.35 92.43" fill="none" stroke="#F39222" stroke-width="1.00" stroke-linejoin="round" stroke-dasharray="1.2 1.6" clip-path="url(#f3a)"/><g clip-path="url(#f3a)"><circle cx="223.66" cy="95.89" r="2.60" fill="#F39222"/><circle cx="249.68" cy="95.89" r="2.60" fill="#F39222"/></g><path d="M287.40 201.88 L451.20 267.21" fill="none" stroke="#8A2BE2" stroke-width="1.40" stroke-linejoin="round" stroke-dasharray="6 2.5 1.5 2.5" clip-path="url(#f3b)"/><path d="M287.40 287.54 L451.20 287.54" fill="none" stroke="#1B8C1B" stroke-width="1.60" stroke-linejoin="round" stroke-dasharray="5 3" clip-path="url(#f3b)"/><path d="M287.40 195.83 L292.82 193.66 L308.01 193.66 L319.94 198.42 L451.20 303.12" fill="none" stroke="#1A8C8C" stroke-width="1.50" stroke-linejoin="round" clip-path="url(#f3b)"/><g clip-path="url(#f3b)"><circle cx="292.82" cy="193.66" r="2.60" fill="#1A8C8C"/><circle cx="308.01" cy="193.66" r="2.60" fill="#1A8C8C"/><circle cx="319.94" cy="198.42" r="2.60" fill="#1A8C8C"/></g><path d="M287.40 303.12 L412.15 253.37 L451.20 268.94" fill="none" stroke="#F39222" stroke-width="1.50" stroke-linejoin="round" clip-path="url(#f3b)"/><g clip-path="url(#f3b)"><circle cx="412.15" cy="253.37" r="2.60" fill="#F39222"/></g><path d="M287.40 316.53 L425.17 261.59 L433.84 261.59 L451.20 268.51" fill="none" stroke="#E0202A" stroke-width="1.50" stroke-linejoin="round" clip-path="url(#f3b)"/><g clip-path="url(#f3b)"><circle cx="425.17" cy="261.59" r="2.60" fill="#E0202A"/><circle cx="433.84" cy="261.59" r="2.60" fill="#E0202A"/></g><path d="M287.40 297.49 L394.79 254.66 L451.20 277.16" fill="none" stroke="#1E2FDC" stroke-width="1.60" stroke-linejoin="round" clip-path="url(#f3b)"/><g clip-path="url(#f3b)"><circle cx="394.79" cy="254.66" r="2.60" fill="#1E2FDC"/></g><path d="M373.10 254.66 L414.32 254.66" fill="none" stroke="#1E2FDC" stroke-width="1.20" stroke-linejoin="round" stroke-dasharray="1.2 1.6" clip-path="url(#f3b)"/><path d="M390.45 248.17 L431.67 248.17" fill="none" stroke="#F39222" stroke-width="1.20" stroke-linejoin="round" stroke-dasharray="1.2 1.6" clip-path="url(#f3b)"/><path d="M390.45 244.71 L412.15 253.37" fill="none" stroke="#F39222" stroke-width="1.00" stroke-linejoin="round" stroke-dasharray="1.2 1.6" clip-path="url(#f3b)"/><path d="M412.15 253.37 L433.84 244.71" fill="none" stroke="#F39222" stroke-width="1.00" stroke-linejoin="round" stroke-dasharray="1.2 1.6" clip-path="url(#f3b)"/><g clip-path="url(#f3b)"><circle cx="399.13" cy="248.17" r="2.60" fill="#F39222"/><circle cx="425.17" cy="248.17" r="2.60" fill="#F39222"/></g><rect x="112.00" y="89.00" width="163.70" height="233.80" fill="none" stroke="#808080" stroke-width="1.10"/><path d="M112.00 322.80 v-2.50" stroke="#808080" stroke-width="1"/><path d="M112.00 89.00 v2.50" stroke="#808080" stroke-width="1"/><path d="M122.84 322.80 v-2.50" stroke="#808080" stroke-width="1"/><path d="M122.84 89.00 v2.50" stroke="#808080" stroke-width="1"/><path d="M133.68 322.80 v-2.50" stroke="#808080" stroke-width="1"/><path d="M133.68 89.00 v2.50" stroke="#808080" stroke-width="1"/><path d="M144.52 322.80 v-2.50" stroke="#808080" stroke-width="1"/><path d="M144.52 89.00 v2.50" stroke="#808080" stroke-width="1"/><path d="M155.36 322.80 v-2.50" stroke="#808080" stroke-width="1"/><path d="M155.36 89.00 v2.50" stroke="#808080" stroke-width="1"/><path d="M166.21 322.80 v-2.50" stroke="#808080" stroke-width="1"/><path d="M166.21 89.00 v2.50" stroke="#808080" stroke-width="1"/><path d="M177.05 322.80 v-2.50" stroke="#808080" stroke-width="1"/><path d="M177.05 89.00 v2.50" stroke="#808080" stroke-width="1"/><path d="M187.89 322.80 v-2.50" stroke="#808080" stroke-width="1"/><path d="M187.89 89.00 v2.50" stroke="#808080" stroke-width="1"/><path d="M198.73 322.80 v-2.50" stroke="#808080" stroke-width="1"/><path d="M198.73 89.00 v2.50" stroke="#808080" stroke-width="1"/><path d="M209.57 322.80 v-2.50" stroke="#808080" stroke-width="1"/><path d="M209.57 89.00 v2.50" stroke="#808080" stroke-width="1"/><path d="M220.41 322.80 v-2.50" stroke="#808080" stroke-width="1"/><path d="M220.41 89.00 v2.50" stroke="#808080" stroke-width="1"/><path d="M231.25 322.80 v-2.50" stroke="#808080" stroke-width="1"/><path d="M231.25 89.00 v2.50" stroke="#808080" stroke-width="1"/><path d="M242.09 322.80 v-2.50" stroke="#808080" stroke-width="1"/><path d="M242.09 89.00 v2.50" stroke="#808080" stroke-width="1"/><path d="M252.93 322.80 v-2.50" stroke="#808080" stroke-width="1"/><path d="M252.93 89.00 v2.50" stroke="#808080" stroke-width="1"/><path d="M263.77 322.80 v-2.50" stroke="#808080" stroke-width="1"/><path d="M263.77 89.00 v2.50" stroke="#808080" stroke-width="1"/><path d="M274.62 322.80 v-2.50" stroke="#808080" stroke-width="1"/><path d="M274.62 89.00 v2.50" stroke="#808080" stroke-width="1"/><path d="M112.00 322.80 v-4.50" stroke="#808080" stroke-width="1"/><path d="M112.00 89.00 v4.50" stroke="#808080" stroke-width="1"/><path d="M133.68 322.80 v-4.50" stroke="#808080" stroke-width="1"/><path d="M133.68 89.00 v4.50" stroke="#808080" stroke-width="1"/><path d="M155.36 322.80 v-4.50" stroke="#808080" stroke-width="1"/><path d="M155.36 89.00 v4.50" stroke="#808080" stroke-width="1"/><path d="M177.05 322.80 v-4.50" stroke="#808080" stroke-width="1"/><path d="M177.05 89.00 v4.50" stroke="#808080" stroke-width="1"/><path d="M198.73 322.80 v-4.50" stroke="#808080" stroke-width="1"/><path d="M198.73 89.00 v4.50" stroke="#808080" stroke-width="1"/><path d="M220.41 322.80 v-4.50" stroke="#808080" stroke-width="1"/><path d="M220.41 89.00 v4.50" stroke="#808080" stroke-width="1"/><path d="M242.09 322.80 v-4.50" stroke="#808080" stroke-width="1"/><path d="M242.09 89.00 v4.50" stroke="#808080" stroke-width="1"/><path d="M263.77 322.80 v-4.50" stroke="#808080" stroke-width="1"/><path d="M263.77 89.00 v4.50" stroke="#808080" stroke-width="1"/><path d="M112.00 316.10 h2.50" stroke="#808080" stroke-width="1"/><path d="M275.70 316.10 h-2.50" stroke="#808080" stroke-width="1"/><path d="M112.00 305.28 h2.50" stroke="#808080" stroke-width="1"/><path d="M275.70 305.28 h-2.50" stroke="#808080" stroke-width="1"/><path d="M112.00 294.47 h2.50" stroke="#808080" stroke-width="1"/><path d="M275.70 294.47 h-2.50" stroke="#808080" stroke-width="1"/><path d="M112.00 283.65 h2.50" stroke="#808080" stroke-width="1"/><path d="M275.70 283.65 h-2.50" stroke="#808080" stroke-width="1"/><path d="M112.00 272.83 h2.50" stroke="#808080" stroke-width="1"/><path d="M275.70 272.83 h-2.50" stroke="#808080" stroke-width="1"/><path d="M112.00 262.02 h2.50" stroke="#808080" stroke-width="1"/><path d="M275.70 262.02 h-2.50" stroke="#808080" stroke-width="1"/><path d="M112.00 251.20 h2.50" stroke="#808080" stroke-width="1"/><path d="M275.70 251.20 h-2.50" stroke="#808080" stroke-width="1"/><path d="M112.00 240.39 h2.50" stroke="#808080" stroke-width="1"/><path d="M275.70 240.39 h-2.50" stroke="#808080" stroke-width="1"/><path d="M112.00 229.57 h2.50" stroke="#808080" stroke-width="1"/><path d="M275.70 229.57 h-2.50" stroke="#808080" stroke-width="1"/><path d="M112.00 218.76 h2.50" stroke="#808080" stroke-width="1"/><path d="M275.70 218.76 h-2.50" stroke="#808080" stroke-width="1"/><path d="M112.00 207.94 h2.50" stroke="#808080" stroke-width="1"/><path d="M275.70 207.94 h-2.50" stroke="#808080" stroke-width="1"/><path d="M112.00 197.12 h2.50" stroke="#808080" stroke-width="1"/><path d="M275.70 197.12 h-2.50" stroke="#808080" stroke-width="1"/><path d="M112.00 186.31 h2.50" stroke="#808080" stroke-width="1"/><path d="M275.70 186.31 h-2.50" stroke="#808080" stroke-width="1"/><path d="M112.00 175.49 h2.50" stroke="#808080" stroke-width="1"/><path d="M275.70 175.49 h-2.50" stroke="#808080" stroke-width="1"/><path d="M112.00 164.68 h2.50" stroke="#808080" stroke-width="1"/><path d="M275.70 164.68 h-2.50" stroke="#808080" stroke-width="1"/><path d="M112.00 153.86 h2.50" stroke="#808080" stroke-width="1"/><path d="M275.70 153.86 h-2.50" stroke="#808080" stroke-width="1"/><path d="M112.00 143.05 h2.50" stroke="#808080" stroke-width="1"/><path d="M275.70 143.05 h-2.50" stroke="#808080" stroke-width="1"/><path d="M112.00 132.23 h2.50" stroke="#808080" stroke-width="1"/><path d="M275.70 132.23 h-2.50" stroke="#808080" stroke-width="1"/><path d="M112.00 121.42 h2.50" stroke="#808080" stroke-width="1"/><path d="M275.70 121.42 h-2.50" stroke="#808080" stroke-width="1"/><path d="M112.00 110.60 h2.50" stroke="#808080" stroke-width="1"/><path d="M275.70 110.60 h-2.50" stroke="#808080" stroke-width="1"/><path d="M112.00 99.78 h2.50" stroke="#808080" stroke-width="1"/><path d="M275.70 99.78 h-2.50" stroke="#808080" stroke-width="1"/><path d="M112.00 283.65 h4.50" stroke="#808080" stroke-width="1"/><path d="M275.70 283.65 h-4.50" stroke="#808080" stroke-width="1"/><path d="M112.00 240.39 h4.50" stroke="#808080" stroke-width="1"/><path d="M275.70 240.39 h-4.50" stroke="#808080" stroke-width="1"/><path d="M112.00 197.12 h4.50" stroke="#808080" stroke-width="1"/><path d="M275.70 197.12 h-4.50" stroke="#808080" stroke-width="1"/><path d="M112.00 153.86 h4.50" stroke="#808080" stroke-width="1"/><path d="M275.70 153.86 h-4.50" stroke="#808080" stroke-width="1"/><path d="M112.00 110.60 h4.50" stroke="#808080" stroke-width="1"/><path d="M275.70 110.60 h-4.50" stroke="#808080" stroke-width="1"/><rect x="287.40" y="89.00" width="163.80" height="233.80" fill="none" stroke="#808080" stroke-width="1.10"/><path d="M287.40 322.80 v-2.50" stroke="#808080" stroke-width="1"/><path d="M287.40 89.00 v2.50" stroke="#808080" stroke-width="1"/><path d="M298.25 322.80 v-2.50" stroke="#808080" stroke-width="1"/><path d="M298.25 89.00 v2.50" stroke="#808080" stroke-width="1"/><path d="M309.10 322.80 v-2.50" stroke="#808080" stroke-width="1"/><path d="M309.10 89.00 v2.50" stroke="#808080" stroke-width="1"/><path d="M319.94 322.80 v-2.50" stroke="#808080" stroke-width="1"/><path d="M319.94 89.00 v2.50" stroke="#808080" stroke-width="1"/><path d="M330.79 322.80 v-2.50" stroke="#808080" stroke-width="1"/><path d="M330.79 89.00 v2.50" stroke="#808080" stroke-width="1"/><path d="M341.64 322.80 v-2.50" stroke="#808080" stroke-width="1"/><path d="M341.64 89.00 v2.50" stroke="#808080" stroke-width="1"/><path d="M352.49 322.80 v-2.50" stroke="#808080" stroke-width="1"/><path d="M352.49 89.00 v2.50" stroke="#808080" stroke-width="1"/><path d="M363.33 322.80 v-2.50" stroke="#808080" stroke-width="1"/><path d="M363.33 89.00 v2.50" stroke="#808080" stroke-width="1"/><path d="M374.18 322.80 v-2.50" stroke="#808080" stroke-width="1"/><path d="M374.18 89.00 v2.50" stroke="#808080" stroke-width="1"/><path d="M385.03 322.80 v-2.50" stroke="#808080" stroke-width="1"/><path d="M385.03 89.00 v2.50" stroke="#808080" stroke-width="1"/><path d="M395.88 322.80 v-2.50" stroke="#808080" stroke-width="1"/><path d="M395.88 89.00 v2.50" stroke="#808080" stroke-width="1"/><path d="M406.72 322.80 v-2.50" stroke="#808080" stroke-width="1"/><path d="M406.72 89.00 v2.50" stroke="#808080" stroke-width="1"/><path d="M417.57 322.80 v-2.50" stroke="#808080" stroke-width="1"/><path d="M417.57 89.00 v2.50" stroke="#808080" stroke-width="1"/><path d="M428.42 322.80 v-2.50" stroke="#808080" stroke-width="1"/><path d="M428.42 89.00 v2.50" stroke="#808080" stroke-width="1"/><path d="M439.27 322.80 v-2.50" stroke="#808080" stroke-width="1"/><path d="M439.27 89.00 v2.50" stroke="#808080" stroke-width="1"/><path d="M450.12 322.80 v-2.50" stroke="#808080" stroke-width="1"/><path d="M450.12 89.00 v2.50" stroke="#808080" stroke-width="1"/><path d="M287.40 322.80 v-4.50" stroke="#808080" stroke-width="1"/><path d="M287.40 89.00 v4.50" stroke="#808080" stroke-width="1"/><path d="M309.10 322.80 v-4.50" stroke="#808080" stroke-width="1"/><path d="M309.10 89.00 v4.50" stroke="#808080" stroke-width="1"/><path d="M330.79 322.80 v-4.50" stroke="#808080" stroke-width="1"/><path d="M330.79 89.00 v4.50" stroke="#808080" stroke-width="1"/><path d="M352.49 322.80 v-4.50" stroke="#808080" stroke-width="1"/><path d="M352.49 89.00 v4.50" stroke="#808080" stroke-width="1"/><path d="M374.18 322.80 v-4.50" stroke="#808080" stroke-width="1"/><path d="M374.18 89.00 v4.50" stroke="#808080" stroke-width="1"/><path d="M395.88 322.80 v-4.50" stroke="#808080" stroke-width="1"/><path d="M395.88 89.00 v4.50" stroke="#808080" stroke-width="1"/><path d="M417.57 322.80 v-4.50" stroke="#808080" stroke-width="1"/><path d="M417.57 89.00 v4.50" stroke="#808080" stroke-width="1"/><path d="M439.27 322.80 v-4.50" stroke="#808080" stroke-width="1"/><path d="M439.27 89.00 v4.50" stroke="#808080" stroke-width="1"/><path d="M287.40 316.10 h2.50" stroke="#808080" stroke-width="1"/><path d="M451.20 316.10 h-2.50" stroke="#808080" stroke-width="1"/><path d="M287.40 305.28 h2.50" stroke="#808080" stroke-width="1"/><path d="M451.20 305.28 h-2.50" stroke="#808080" stroke-width="1"/><path d="M287.40 294.47 h2.50" stroke="#808080" stroke-width="1"/><path d="M451.20 294.47 h-2.50" stroke="#808080" stroke-width="1"/><path d="M287.40 283.65 h2.50" stroke="#808080" stroke-width="1"/><path d="M451.20 283.65 h-2.50" stroke="#808080" stroke-width="1"/><path d="M287.40 272.83 h2.50" stroke="#808080" stroke-width="1"/><path d="M451.20 272.83 h-2.50" stroke="#808080" stroke-width="1"/><path d="M287.40 262.02 h2.50" stroke="#808080" stroke-width="1"/><path d="M451.20 262.02 h-2.50" stroke="#808080" stroke-width="1"/><path d="M287.40 251.20 h2.50" stroke="#808080" stroke-width="1"/><path d="M451.20 251.20 h-2.50" stroke="#808080" stroke-width="1"/><path d="M287.40 240.39 h2.50" stroke="#808080" stroke-width="1"/><path d="M451.20 240.39 h-2.50" stroke="#808080" stroke-width="1"/><path d="M287.40 229.57 h2.50" stroke="#808080" stroke-width="1"/><path d="M451.20 229.57 h-2.50" stroke="#808080" stroke-width="1"/><path d="M287.40 218.76 h2.50" stroke="#808080" stroke-width="1"/><path d="M451.20 218.76 h-2.50" stroke="#808080" stroke-width="1"/><path d="M287.40 207.94 h2.50" stroke="#808080" stroke-width="1"/><path d="M451.20 207.94 h-2.50" stroke="#808080" stroke-width="1"/><path d="M287.40 197.12 h2.50" stroke="#808080" stroke-width="1"/><path d="M451.20 197.12 h-2.50" stroke="#808080" stroke-width="1"/><path d="M287.40 186.31 h2.50" stroke="#808080" stroke-width="1"/><path d="M451.20 186.31 h-2.50" stroke="#808080" stroke-width="1"/><path d="M287.40 175.49 h2.50" stroke="#808080" stroke-width="1"/><path d="M451.20 175.49 h-2.50" stroke="#808080" stroke-width="1"/><path d="M287.40 164.68 h2.50" stroke="#808080" stroke-width="1"/><path d="M451.20 164.68 h-2.50" stroke="#808080" stroke-width="1"/><path d="M287.40 153.86 h2.50" stroke="#808080" stroke-width="1"/><path d="M451.20 153.86 h-2.50" stroke="#808080" stroke-width="1"/><path d="M287.40 143.05 h2.50" stroke="#808080" stroke-width="1"/><path d="M451.20 143.05 h-2.50" stroke="#808080" stroke-width="1"/><path d="M287.40 132.23 h2.50" stroke="#808080" stroke-width="1"/><path d="M451.20 132.23 h-2.50" stroke="#808080" stroke-width="1"/><path d="M287.40 121.42 h2.50" stroke="#808080" stroke-width="1"/><path d="M451.20 121.42 h-2.50" stroke="#808080" stroke-width="1"/><path d="M287.40 110.60 h2.50" stroke="#808080" stroke-width="1"/><path d="M451.20 110.60 h-2.50" stroke="#808080" stroke-width="1"/><path d="M287.40 99.78 h2.50" stroke="#808080" stroke-width="1"/><path d="M451.20 99.78 h-2.50" stroke="#808080" stroke-width="1"/><path d="M287.40 283.65 h4.50" stroke="#808080" stroke-width="1"/><path d="M451.20 283.65 h-4.50" stroke="#808080" stroke-width="1"/><path d="M287.40 240.39 h4.50" stroke="#808080" stroke-width="1"/><path d="M451.20 240.39 h-4.50" stroke="#808080" stroke-width="1"/><path d="M287.40 197.12 h4.50" stroke="#808080" stroke-width="1"/><path d="M451.20 197.12 h-4.50" stroke="#808080" stroke-width="1"/><path d="M287.40 153.86 h4.50" stroke="#808080" stroke-width="1"/><path d="M451.20 153.86 h-4.50" stroke="#808080" stroke-width="1"/><path d="M287.40 110.60 h4.50" stroke="#808080" stroke-width="1"/><path d="M451.20 110.60 h-4.50" stroke="#808080" stroke-width="1"/><text x="106.50" y="287.95" font-size="12.00" fill="#111" text-anchor="end">2</text><text x="106.50" y="244.69" font-size="12.00" fill="#111" text-anchor="end">3</text><text x="106.50" y="201.42" font-size="12.00" fill="#111" text-anchor="end">4</text><text x="106.50" y="158.16" font-size="12.00" fill="#111" text-anchor="end">5</text><text x="106.50" y="114.90" font-size="12.00" fill="#111" text-anchor="end">6</text><text x="112.00" y="337.60" font-size="12.00" fill="#111" text-anchor="middle">0.0</text><text x="155.36" y="337.60" font-size="12.00" fill="#111" text-anchor="middle">0.4</text><text x="198.73" y="337.60" font-size="12.00" fill="#111" text-anchor="middle">0.8</text><text x="242.09" y="337.60" font-size="12.00" fill="#111" text-anchor="middle">1.2</text><text x="287.40" y="337.60" font-size="12.00" fill="#111" text-anchor="middle">0.0</text><text x="330.79" y="337.60" font-size="12.00" fill="#111" text-anchor="middle">0.4</text><text x="374.18" y="337.60" font-size="12.00" fill="#111" text-anchor="middle">0.8</text><text x="417.57" y="337.60" font-size="12.00" fill="#111" text-anchor="middle">1.2</text><text x="281.30" y="354.20" font-size="13.00" fill="#111" text-anchor="middle">Fermi level (eV)</text><text x="93.00" y="206.00" font-size="13.00" fill="#111" text-anchor="middle" transform="rotate(-90 93.00 206.00)">Formation energy (eV)</text><text x="118.70" y="104.70" font-size="13.00" fill="#111" text-anchor="start">(a)</text><text x="294.20" y="104.70" font-size="13.00" fill="#111" text-anchor="start">(b)</text><text x="214.30" y="141.90" font-size="12.90" fill="#111" text-anchor="start">Ga-rich</text><text x="392.00" y="141.90" font-size="12.90" fill="#111" text-anchor="start">As-rich</text><g><rect x="130.70" y="122.66" width="74.65" height="13.44" fill="#fff"/><text xml:space="preserve" x="132.20" y="132.90" font-size="12.80" fill="#fff" stroke="#fff" stroke-width="3.5" stroke-linejoin="round">(O</text><text xml:space="preserve" x="146.42" y="136.48" font-size="8.70" fill="#fff" stroke="#fff" stroke-width="3.5" stroke-linejoin="round">As</text><text xml:space="preserve" x="156.58" y="132.90" font-size="12.80" fill="#fff" stroke="#fff" stroke-width="3.5" stroke-linejoin="round">-2As</text><text xml:space="preserve" x="182.89" y="136.48" font-size="8.70" fill="#fff" stroke="#fff" stroke-width="3.5" stroke-linejoin="round">Ga</text><text xml:space="preserve" x="194.51" y="132.90" font-size="12.80" fill="#fff" stroke="#fff" stroke-width="3.5" stroke-linejoin="round">)</text><text xml:space="preserve" x="198.77" y="127.52" font-size="8.70" fill="#fff" stroke="#fff" stroke-width="3.5" stroke-linejoin="round">+</text><text xml:space="preserve" x="132.20" y="132.90" font-size="12.80" fill="#F39222">(O</text><text xml:space="preserve" x="146.42" y="136.48" font-size="8.70" fill="#F39222">As</text><text xml:space="preserve" x="156.58" y="132.90" font-size="12.80" fill="#F39222">-2As</text><text xml:space="preserve" x="182.89" y="136.48" font-size="8.70" fill="#F39222">Ga</text><text xml:space="preserve" x="194.51" y="132.90" font-size="12.80" fill="#F39222">)</text><text xml:space="preserve" x="198.77" y="127.52" font-size="8.70" fill="#F39222">+</text></g><g><rect x="155.90" y="182.66" width="36.26" height="13.44" fill="#fff"/><text xml:space="preserve" x="157.40" y="192.90" font-size="12.80" fill="#fff" stroke="#fff" stroke-width="3.5" stroke-linejoin="round">O</text><text xml:space="preserve" x="167.36" y="196.74" font-size="8.70" font-style="italic" fill="#fff" stroke="#fff" stroke-width="3.5" stroke-linejoin="round">i</text><text xml:space="preserve" x="170.83" y="196.74" font-size="8.70" fill="#fff" stroke="#fff" stroke-width="3.5" stroke-linejoin="round">,tetra</text><text xml:space="preserve" x="167.36" y="187.14" font-size="8.70" fill="#fff" stroke="#fff" stroke-width="3.5" stroke-linejoin="round">2−</text><text xml:space="preserve" x="157.40" y="192.90" font-size="12.80" fill="#1A8C8C">O</text><text xml:space="preserve" x="167.36" y="196.74" font-size="8.70" font-style="italic" fill="#1A8C8C">i</text><text xml:space="preserve" x="170.83" y="196.74" font-size="8.70" fill="#1A8C8C">,tetra</text><text xml:space="preserve" x="167.36" y="187.14" font-size="8.70" fill="#1A8C8C">2−</text></g><g><rect x="121.30" y="225.96" width="67.53" height="13.44" fill="#fff"/><text xml:space="preserve" x="122.80" y="236.20" font-size="12.80" fill="#fff" stroke="#fff" stroke-width="3.5" stroke-linejoin="round">(O</text><text xml:space="preserve" x="137.02" y="239.78" font-size="8.70" fill="#fff" stroke="#fff" stroke-width="3.5" stroke-linejoin="round">As</text><text xml:space="preserve" x="147.18" y="236.20" font-size="12.80" fill="#fff" stroke="#fff" stroke-width="3.5" stroke-linejoin="round">-As</text><text xml:space="preserve" x="166.38" y="239.78" font-size="8.70" fill="#fff" stroke="#fff" stroke-width="3.5" stroke-linejoin="round">Ga</text><text xml:space="preserve" x="177.99" y="236.20" font-size="12.80" fill="#fff" stroke="#fff" stroke-width="3.5" stroke-linejoin="round">)</text><text xml:space="preserve" x="182.25" y="230.82" font-size="8.70" fill="#fff" stroke="#fff" stroke-width="3.5" stroke-linejoin="round">+</text><text xml:space="preserve" x="122.80" y="236.20" font-size="12.80" fill="#E0202A">(O</text><text xml:space="preserve" x="137.02" y="239.78" font-size="8.70" fill="#E0202A">As</text><text xml:space="preserve" x="147.18" y="236.20" font-size="12.80" fill="#E0202A">-As</text><text xml:space="preserve" x="166.38" y="239.78" font-size="8.70" fill="#E0202A">Ga</text><text xml:space="preserve" x="177.99" y="236.20" font-size="12.80" fill="#E0202A">)</text><text xml:space="preserve" x="182.25" y="230.82" font-size="8.70" fill="#E0202A">+</text></g><g><rect x="233.30" y="228.86" width="38.76" height="13.44" fill="#fff"/><text xml:space="preserve" x="234.80" y="239.10" font-size="12.80" fill="#fff" stroke="#fff" stroke-width="3.5" stroke-linejoin="round">(2O)</text><text xml:space="preserve" x="260.40" y="242.94" font-size="8.70" fill="#fff" stroke="#fff" stroke-width="3.5" stroke-linejoin="round">As</text><text xml:space="preserve" x="260.40" y="233.34" font-size="8.70" fill="#fff" stroke="#fff" stroke-width="3.5" stroke-linejoin="round">−</text><text xml:space="preserve" x="234.80" y="239.10" font-size="12.80" fill="#8A2BE2">(2O)</text><text xml:space="preserve" x="260.40" y="242.94" font-size="8.70" fill="#8A2BE2">As</text><text xml:space="preserve" x="260.40" y="233.34" font-size="8.70" fill="#8A2BE2">−</text></g><g><rect x="141.50" y="252.06" width="33.36" height="13.44" fill="#fff"/><text xml:space="preserve" x="143.00" y="262.30" font-size="12.80" fill="#fff" stroke="#fff" stroke-width="3.5" stroke-linejoin="round">O</text><text xml:space="preserve" x="152.96" y="266.14" font-size="8.70" font-style="italic" fill="#fff" stroke="#fff" stroke-width="3.5" stroke-linejoin="round">i</text><text xml:space="preserve" x="156.43" y="266.14" font-size="8.70" fill="#fff" stroke="#fff" stroke-width="3.5" stroke-linejoin="round">,brid</text><text xml:space="preserve" x="152.96" y="256.54" font-size="8.70" fill="#fff" stroke="#fff" stroke-width="3.5" stroke-linejoin="round">0</text><text xml:space="preserve" x="143.00" y="262.30" font-size="12.80" fill="#1B8C1B">O</text><text xml:space="preserve" x="152.96" y="266.14" font-size="8.70" font-style="italic" fill="#1B8C1B">i</text><text xml:space="preserve" x="156.43" y="266.14" font-size="8.70" fill="#1B8C1B">,brid</text><text xml:space="preserve" x="152.96" y="256.54" font-size="8.70" fill="#1B8C1B">0</text></g><g><rect x="150.30" y="283.96" width="23.11" height="13.44" fill="#fff"/><text xml:space="preserve" x="151.80" y="294.20" font-size="12.80" fill="#fff" stroke="#fff" stroke-width="3.5" stroke-linejoin="round">O</text><text xml:space="preserve" x="161.76" y="298.04" font-size="8.70" fill="#fff" stroke="#fff" stroke-width="3.5" stroke-linejoin="round">As</text><text xml:space="preserve" x="161.76" y="288.44" font-size="8.70" fill="#fff" stroke="#fff" stroke-width="3.5" stroke-linejoin="round">+</text><text xml:space="preserve" x="151.80" y="294.20" font-size="12.80" fill="#1E2FDC">O</text><text xml:space="preserve" x="161.76" y="298.04" font-size="8.70" fill="#1E2FDC">As</text><text xml:space="preserve" x="161.76" y="288.44" font-size="8.70" fill="#1E2FDC">+</text></g><g><rect x="310.00" y="181.56" width="34.72" height="13.44" fill="#fff"/><text xml:space="preserve" x="311.50" y="191.80" font-size="12.80" fill="#fff" stroke="#fff" stroke-width="3.5" stroke-linejoin="round">O</text><text xml:space="preserve" x="321.46" y="195.64" font-size="8.70" font-style="italic" fill="#fff" stroke="#fff" stroke-width="3.5" stroke-linejoin="round">i</text><text xml:space="preserve" x="323.39" y="195.64" font-size="8.70" fill="#fff" stroke="#fff" stroke-width="3.5" stroke-linejoin="round">,tetra</text><text xml:space="preserve" x="321.46" y="186.04" font-size="8.70" fill="#fff" stroke="#fff" stroke-width="3.5" stroke-linejoin="round">−</text><text xml:space="preserve" x="311.50" y="191.80" font-size="12.80" fill="#1A8C8C">O</text><text xml:space="preserve" x="321.46" y="195.64" font-size="8.70" font-style="italic" fill="#1A8C8C">i</text><text xml:space="preserve" x="323.39" y="195.64" font-size="8.70" fill="#1A8C8C">,tetra</text><text xml:space="preserve" x="321.46" y="186.04" font-size="8.70" fill="#1A8C8C">−</text></g><g><rect x="370.90" y="225.96" width="38.76" height="13.44" fill="#fff"/><text xml:space="preserve" x="372.40" y="236.20" font-size="12.80" fill="#fff" stroke="#fff" stroke-width="3.5" stroke-linejoin="round">(2O)</text><text xml:space="preserve" x="398.00" y="240.04" font-size="8.70" fill="#fff" stroke="#fff" stroke-width="3.5" stroke-linejoin="round">As</text><text xml:space="preserve" x="398.00" y="230.44" font-size="8.70" fill="#fff" stroke="#fff" stroke-width="3.5" stroke-linejoin="round">−</text><text xml:space="preserve" x="372.40" y="236.20" font-size="12.80" fill="#8A2BE2">(2O)</text><text xml:space="preserve" x="398.00" y="240.04" font-size="8.70" fill="#8A2BE2">As</text><text xml:space="preserve" x="398.00" y="230.44" font-size="8.70" fill="#8A2BE2">−</text></g><g><rect x="306.20" y="267.76" width="74.65" height="13.44" fill="#fff"/><text xml:space="preserve" x="307.70" y="278.00" font-size="12.80" fill="#fff" stroke="#fff" stroke-width="3.5" stroke-linejoin="round">(O</text><text xml:space="preserve" x="321.92" y="281.58" font-size="8.70" fill="#fff" stroke="#fff" stroke-width="3.5" stroke-linejoin="round">As</text><text xml:space="preserve" x="332.08" y="278.00" font-size="12.80" fill="#fff" stroke="#fff" stroke-width="3.5" stroke-linejoin="round">-2As</text><text xml:space="preserve" x="358.39" y="281.58" font-size="8.70" fill="#fff" stroke="#fff" stroke-width="3.5" stroke-linejoin="round">Ga</text><text xml:space="preserve" x="370.01" y="278.00" font-size="12.80" fill="#fff" stroke="#fff" stroke-width="3.5" stroke-linejoin="round">)</text><text xml:space="preserve" x="374.27" y="272.62" font-size="8.70" fill="#fff" stroke="#fff" stroke-width="3.5" stroke-linejoin="round">+</text><text xml:space="preserve" x="307.70" y="278.00" font-size="12.80" fill="#F39222">(O</text><text xml:space="preserve" x="321.92" y="281.58" font-size="8.70" fill="#F39222">As</text><text xml:space="preserve" x="332.08" y="278.00" font-size="12.80" fill="#F39222">-2As</text><text xml:space="preserve" x="358.39" y="281.58" font-size="8.70" fill="#F39222">Ga</text><text xml:space="preserve" x="370.01" y="278.00" font-size="12.80" fill="#F39222">)</text><text xml:space="preserve" x="374.27" y="272.62" font-size="8.70" fill="#F39222">+</text></g><g><rect x="422.00" y="270.96" width="23.11" height="13.44" fill="#fff"/><text xml:space="preserve" x="423.50" y="281.20" font-size="12.80" fill="#fff" stroke="#fff" stroke-width="3.5" stroke-linejoin="round">O</text><text xml:space="preserve" x="433.46" y="285.04" font-size="8.70" fill="#fff" stroke="#fff" stroke-width="3.5" stroke-linejoin="round">As</text><text xml:space="preserve" x="433.46" y="275.44" font-size="8.70" fill="#fff" stroke="#fff" stroke-width="3.5" stroke-linejoin="round">−</text><text xml:space="preserve" x="423.50" y="281.20" font-size="12.80" fill="#1E2FDC">O</text><text xml:space="preserve" x="433.46" y="285.04" font-size="8.70" fill="#1E2FDC">As</text><text xml:space="preserve" x="433.46" y="275.44" font-size="8.70" fill="#1E2FDC">−</text></g><g><rect x="386.70" y="282.86" width="33.36" height="13.44" fill="#fff"/><text xml:space="preserve" x="388.20" y="293.10" font-size="12.80" fill="#fff" stroke="#fff" stroke-width="3.5" stroke-linejoin="round">O</text><text xml:space="preserve" x="398.16" y="296.94" font-size="8.70" font-style="italic" fill="#fff" stroke="#fff" stroke-width="3.5" stroke-linejoin="round">i</text><text xml:space="preserve" x="401.63" y="296.94" font-size="8.70" fill="#fff" stroke="#fff" stroke-width="3.5" stroke-linejoin="round">,brid</text><text xml:space="preserve" x="398.16" y="287.34" font-size="8.70" fill="#fff" stroke="#fff" stroke-width="3.5" stroke-linejoin="round">0</text><text xml:space="preserve" x="388.20" y="293.10" font-size="12.80" fill="#1B8C1B">O</text><text xml:space="preserve" x="398.16" y="296.94" font-size="8.70" font-style="italic" fill="#1B8C1B">i</text><text xml:space="preserve" x="401.63" y="296.94" font-size="8.70" fill="#1B8C1B">,brid</text><text xml:space="preserve" x="398.16" y="287.34" font-size="8.70" fill="#1B8C1B">0</text></g><g><rect x="299.40" y="301.96" width="67.53" height="13.44" fill="#fff"/><text xml:space="preserve" x="300.90" y="312.20" font-size="12.80" fill="#fff" stroke="#fff" stroke-width="3.5" stroke-linejoin="round">(O</text><text xml:space="preserve" x="315.12" y="315.78" font-size="8.70" fill="#fff" stroke="#fff" stroke-width="3.5" stroke-linejoin="round">As</text><text xml:space="preserve" x="325.28" y="312.20" font-size="12.80" fill="#fff" stroke="#fff" stroke-width="3.5" stroke-linejoin="round">-As</text><text xml:space="preserve" x="344.48" y="315.78" font-size="8.70" fill="#fff" stroke="#fff" stroke-width="3.5" stroke-linejoin="round">Ga</text><text xml:space="preserve" x="356.09" y="312.20" font-size="12.80" fill="#fff" stroke="#fff" stroke-width="3.5" stroke-linejoin="round">)</text><text xml:space="preserve" x="360.35" y="306.82" font-size="8.70" fill="#fff" stroke="#fff" stroke-width="3.5" stroke-linejoin="round">+</text><text xml:space="preserve" x="300.90" y="312.20" font-size="12.80" fill="#E0202A">(O</text><text xml:space="preserve" x="315.12" y="315.78" font-size="8.70" fill="#E0202A">As</text><text xml:space="preserve" x="325.28" y="312.20" font-size="12.80" fill="#E0202A">-As</text><text xml:space="preserve" x="344.48" y="315.78" font-size="8.70" fill="#E0202A">Ga</text><text xml:space="preserve" x="356.09" y="312.20" font-size="12.80" fill="#E0202A">)</text><text xml:space="preserve" x="360.35" y="306.82" font-size="8.70" fill="#E0202A">+</text></g></svg>
</div>
<div class="pg" style="left:3708px">
<div class="l bd" style="left:82.00px;top:89.01px;letter-spacing:0.494px;word-spacing:-0.800px">indeed been observed in GaAs [33, 34]. Those include the</div>
<div class="l bd" style="left:82.00px;top:106.42px;word-spacing:2.125px;letter-spacing:0.55px">electrically inactive O<sub><i>i</i>,brid</sub> [26, 32–34]. Another center</div>
<div class="l bd" style="left:82.00px;top:123.85px;word-spacing:-0.141px;letter-spacing:0.55px">(sometimes referred to as “OX” or “O<sub>oc</sub>”) has been char-</div>
<div class="l bd" style="left:82.00px;top:141.29px;word-spacing:1.977px;letter-spacing:0.55px">acterized as being a quasi-substitutional oxygen where</div>
<div class="l bd" style="left:82.00px;top:158.69px;word-spacing:-0.248px;letter-spacing:0.55px">the oxygen forms the Ga–O–Ga configuration and which</div>
<div class="l bd" style="left:82.00px;top:176.12px;word-spacing:2.630px;letter-spacing:0.55px">exhibits the negative-<i>U</i> character with a paramagnetic</div>
<div class="l bd" style="left:82.00px;top:193.54px;word-spacing:1.056px;letter-spacing:0.55px">metastable charge state [25–37]. Such a description ap-</div>
<div class="l bd" style="left:82.00px;top:210.97px;word-spacing:2.625px;letter-spacing:0.55px">pears to point more to O<sub>As</sub>-2As<sub>Ga</sub> than to O<sub>As</sub> we de-</div>
<div class="l bd" style="left:82.00px;top:228.39px;word-spacing:0.971px;letter-spacing:0.55px">scribed earlier. However, O<sub>As</sub> induces the (+/−) level at</div>
<div class="l bd" style="left:82.00px;top:245.82px;letter-spacing:0.480px;word-spacing:-0.800px">0.52 eV below the CBM, see Table I, which is comparable</div>
<div class="l bd" style="left:82.00px;top:263.24px;word-spacing:0.479px;letter-spacing:0.55px">to the activation energy of 0.43 eV (from Hall measure-</div>
<div class="l bd" style="left:82.00px;top:280.66px;word-spacing:1.903px;letter-spacing:0.55px">ments) [27] or 0.55 eV (from DLTS) [31] reported for</div>
<div class="l bd" style="left:82.00px;top:298.09px;word-spacing:0.668px;letter-spacing:0.55px">“OX”. The so-called “OX” defect reported in the litera-</div>
<div class="l bd" style="left:82.00px;top:315.51px;letter-spacing:0.55px">ture may thus involve more than one defect center.</div>
<div class="l bd" style="left:97.10px;top:333.21px;word-spacing:0.298px;letter-spacing:0.55px">Note that that our results for certain O-related defects</div>
<div class="l bd" style="left:82.00px;top:350.21px;letter-spacing:0.521px;word-spacing:-0.800px">are different from those of Colleoni and Pasquarello [50].</div>
<div class="l bd" style="left:82.00px;top:369.10px;word-spacing:2.233px;letter-spacing:0.55px">Notably, they reported that O<span class="ss"><span class="su">+</span><span class="sb">As</span></span> and O<span class="ss"><span class="su">0</span><span class="sb">As</span></span> are at the As</div>
<div class="l bd" style="left:82.00px;top:386.71px;word-spacing:0.255px;letter-spacing:0.55px">site whereas O in O<span class="ss"><span class="su">−</span><span class="sb">As</span></span> is off-center and forms two O–Ga</div>
<div class="l bd" style="left:82.00px;top:403.71px;word-spacing:1.516px;letter-spacing:0.55px">bonds, and O<sub>As</sub> was found to be a positive-<i>U</i> center. It</div>
<div class="l bd" style="left:82.00px;top:420.51px;word-spacing:0.179px;letter-spacing:0.55px">was also concluded that O<sub><i>i</i>,tet</sub> (referred to as “O<sub><i>i</i></sub>-Ga<sub>4</sub>” in</div>
<div class="l bd" style="left:82.00px;top:437.84px;word-spacing:0.216px;letter-spacing:0.55px">Ref. 50) is stable in the neural charge state only and has</div>
<div class="l bd" style="left:82.00px;top:455.20px;word-spacing:1.102px;letter-spacing:0.55px">a much higher energy than O<sub><i>i</i>,brid</sub>, whereas we find that</div>
<div class="l bd" style="left:82.00px;top:472.54px;word-spacing:-0.653px;letter-spacing:0.55px">the defect is stable in multiple charge states and can have</div>
<div class="l bd" style="left:82.00px;top:489.88px;word-spacing:2.268px;letter-spacing:0.55px">the lowest energy under <i>n</i>-type conditions. In general,</div>
<div class="l bd" style="left:82.00px;top:507.22px;word-spacing:-0.674px;letter-spacing:0.55px">the discrepancies can be ascribed to the smaller supercell</div>
<div class="l bd" style="left:82.00px;top:524.56px;word-spacing:2.398px;letter-spacing:0.55px">size, the PBE-relaxed structures, and other parameters</div>
<div class="l bd" style="left:82.00px;top:541.91px;letter-spacing:0.55px">and procedures used in the previous HSE calculations.</div>
<div class="l bd" style="left:97.10px;top:629.51px;word-spacing:2.847px;letter-spacing:0.55px">Here, we focus on As<sub>Ga</sub>, Ga<sub>As</sub>, <i>V</i><sub>Ga</sub>, O<sub>As</sub>, O<sub>As</sub>-As<sub>Ga</sub>,</div>
<div class="l bd" style="left:82.00px;top:646.97px;word-spacing:0.580px;letter-spacing:0.55px">and O<sub>As</sub>-2As<sub>Ga</sub> as they possess defect levels in the band</div>
<div class="l bd" style="left:82.00px;top:664.43px;word-spacing:1.271px;letter-spacing:0.55px">gap and have low formation energies (and thus can oc-</div>
<div class="l bd" style="left:82.00px;top:681.90px;word-spacing:-0.156px;letter-spacing:0.55px">cur with a sizable concentration) when GaAs is prepared</div>
<div class="l bd" style="left:82.00px;top:699.36px;word-spacing:0.411px;letter-spacing:0.55px">under As-rich conditions. Figure 4 shows the configura-</div>
<div class="l bd" style="left:82.00px;top:716.82px;word-spacing:1.073px;letter-spacing:0.55px">tion coordinate diagram for relevant optical transitions,</div>
<div class="l bd" style="left:82.00px;top:734.28px;word-spacing:3.232px;letter-spacing:0.55px">constructed using the <span class="sc">nonrad</span> code [65]. It expresses</div>
<div class="l bd" style="left:82.00px;top:751.75px;word-spacing:2.116px;letter-spacing:0.55px">the total energy as a function of the generalized coor-</div>
<div class="l bd" style="left:82.00px;top:769.21px;word-spacing:-0.352px;letter-spacing:0.55px">dinate <i>Q</i> which captures collective atomic displacements</div>
<div class="l bd" style="left:82.00px;top:786.67px;letter-spacing:0.543px;word-spacing:-0.800px">in an one-dimensional approximation by linear interpola-</div>
<div class="l bd" style="left:82.00px;top:804.15px;letter-spacing:0.415px;word-spacing:-0.800px">tion between geometries of ground and excited states [66].</div>
<div class="l bd" style="left:82.00px;top:821.60px;word-spacing:2.666px;letter-spacing:0.55px">Such diagrams are useful for the examination of both</div>
<div class="l bd" style="left:82.00px;top:838.60px;letter-spacing:0.55px">defect-assisted radiative and nonradiative processes.</div>
<div class="l bd" style="left:97.10px;top:855.71px;letter-spacing:0.529px;word-spacing:-0.800px">We begin with possible defect-to-band radiative transi-</div>
<div class="l bd" style="left:82.00px;top:873.14px;word-spacing:-0.736px;letter-spacing:0.55px">tions. Under p-type conditions, i.e., when the Fermi level</div>
<div class="l bd" style="left:82.00px;top:890.57px;word-spacing:2.834px;letter-spacing:0.55px">is below midgap, O<sub>As</sub> is stable as O<span class="ss"><span class="su">+</span><span class="sb">As</span></span>; see Fig. 1(b).</div>
<div class="l bd" style="left:82.00px;top:908.01px;word-spacing:1.759px;letter-spacing:0.55px">This defect configuration can capture an electron from</div>
<div class="l bd" style="left:82.00px;top:925.44px;word-spacing:2.020px;letter-spacing:0.55px">the CBM (e.g., previously excited to from the valence</div>
<div class="l bd" style="left:82.00px;top:942.87px;word-spacing:2.026px;letter-spacing:0.55px">to the conduction band) and emits a photon. The peak</div>
<div class="l bd" style="left:82.00px;top:960.32px;word-spacing:0.623px;letter-spacing:0.55px">emission energy (<i>E</i><sub>em</sub>) corresponds to the optical transi-</div>
<div class="l bd" style="left:82.00px;top:981.51px;word-spacing:1.750px;letter-spacing:0.55px">tion level <i>E</i><span class="ss"><span class="su">+/0</span><span class="sb">opt</span></span>, i.e., the energy difference between O<span class="ss"><span class="su">+</span><span class="sb">As</span></span></div>
<div class="l bd" style="left:82.00px;top:1001.21px;word-spacing:2.997px;letter-spacing:0.55px">and O<span class="ss"><span class="su">0</span><span class="sb">As</span></span> in the lattice geometry of O<span class="ss"><span class="su">+</span><span class="sb">As</span></span>. As shown in</div>
<div class="l bd" style="left:82.00px;top:1019.01px;word-spacing:0.878px;letter-spacing:0.55px">Fig. 4(d) and Table II, this emission peak is at 0.40 eV,</div>
<div class="l bd" style="left:82.00px;top:1036.18px;word-spacing:0.975px;letter-spacing:0.55px">with a relaxation energy (i.e., the Franck-Condon shift)</div>
<div class="l bd" style="left:82.00px;top:1053.35px;word-spacing:3.169px;letter-spacing:0.55px">of 0.13 eV [<i>E</i><sub>FC</sub> = <i>E</i><sub>em</sub> − Δ<i>E</i>, where Δ<i>E</i> is the zero-</div>
<div class="l bd" style="left:82.00px;top:1070.53px;word-spacing:-0.088px;letter-spacing:0.55px">phonon line (ZPL) energy which, for electron capture, is</div>
<div class="l bd" style="left:82.00px;top:1087.71px;word-spacing:2.638px;letter-spacing:0.55px">the thermodynamic transition level <i>ϵ</i>(<i>q</i><sub>1</sub>/<i>q</i><sub>2</sub>) referenced</div>
<div class="l sm" style="left:480.20px;top:509.50px;word-spacing:2.656px;letter-spacing:0.55px">FIG. 4. Configuration coordinate diagrams for relevant op-</div>
<div class="l sm" style="left:480.20px;top:525.36px;word-spacing:3.183px;letter-spacing:0.55px">tical transitions in GaAs. As illustrated in the case of the</div>
<div class="l sm" style="left:480.20px;top:541.20px;word-spacing:2.099px;letter-spacing:0.55px">O<span class="ss"><span class="su">+</span><span class="sb">As</span></span> + <i>e</i><sup>−</sup> ⇌ O<span class="ss"><span class="su">0</span><span class="sb">As</span></span> transitions, Δ<i>E</i> is the thermal energy (i.e.,</div>
<div class="l sm" style="left:480.20px;top:557.06px;word-spacing:3.055px;letter-spacing:0.55px">ZPL), <i>E</i><sub>abs</sub> (<i>E</i><sub>em</sub>) is the peak absorption (emission) energy,</div>
<div class="l sm" style="left:480.20px;top:572.91px;word-spacing:3.654px;letter-spacing:0.55px"><i>E</i><sub>FC</sub> is the Franck-Condon shift, Δ<i>Q</i> is the mass-weighted</div>
<div class="l sm" style="left:480.20px;top:588.75px;word-spacing:1.209px;letter-spacing:0.55px">difference between the geometries of the excited and ground</div>
<div class="l sm" style="left:480.20px;top:604.61px;letter-spacing:0.55px">states, and Δ<i>E</i><sub>b</sub> is the electron capture barrier.</div>
<div class="l sm" style="left:480.20px;top:906.11px;word-spacing:2.463px;letter-spacing:0.55px">FIG. 5. Nonradiative electron capture cross sections (in Å<sup>2</sup></div>
<div class="l sm" style="left:480.20px;top:921.91px;letter-spacing:0.55px">and cm<sup>2</sup>) of relevant defect centers in GaAs.</div>
<div class="l bd" style="left:480.20px;top:977.51px;word-spacing:1.627px;letter-spacing:0.55px">to the CBM]. We also consider the absorption process.</div>
<div class="l bd" style="left:480.20px;top:995.10px;word-spacing:0.847px;letter-spacing:0.55px">In the case of O<sub>As</sub>, an electron can be excited from O<span class="ss"><span class="su">0</span><span class="sb">As</span></span></div>
<div class="l bd" style="left:480.20px;top:1012.82px;word-spacing:1.844px;letter-spacing:0.55px">to the conduction band, with a peak absorption energy</div>
<div class="l bd" style="left:480.20px;top:1033.60px;word-spacing:2.533px;letter-spacing:0.55px">(<i>E</i><sub>abs</sub>) of 0.85 eV, corresponding to <i>E</i><span class="ss"><span class="su">0/+</span><span class="sb">opt</span></span>, given by the</div>
<div class="l bd" style="left:480.20px;top:1052.41px;word-spacing:0.839px;letter-spacing:0.55px">energy difference between O<span class="ss"><span class="su">0</span><span class="sb">As</span></span> and O<span class="ss"><span class="su">+</span><span class="sb">As</span></span>, both in the ge-</div>
<div class="l bd" style="left:480.20px;top:1070.71px;word-spacing:1.844px;letter-spacing:0.55px">ometry of O<span class="ss"><span class="su">0</span><span class="sb">As</span></span>. Similar calculations are carried out for</div>
<div class="l bd" style="left:480.20px;top:1087.71px;word-spacing:2.393px;letter-spacing:0.55px">As<sub>Ga</sub>, Ga<sub>As</sub>, <i>V</i><sub>Ga</sub>, O<sub>As</sub>-As<sub>Ga</sub>, and O<sub>As</sub>-2As<sub>Ga</sub> and results</div>
<div class="l bd" style="left:843.09px;top:49.82px;letter-spacing:0.55px">5</div>
<div class="l sec" style="left:188.00px;top:593.00px;letter-spacing:1.293px">C.   Optical properties</div>
<svg width="927" height="1200" viewBox="0 0 927 1200" style="left:0;top:0"><defs><clipPath id="f4a"><rect x="512.90" y="89.20" width="166.50" height="116.30"/></clipPath><clipPath id="f4b"><rect x="682.30" y="89.20" width="166.70" height="116.30"/></clipPath><clipPath id="f4c"><rect x="512.90" y="210.60" width="166.50" height="116.00"/></clipPath><clipPath id="f4d"><rect x="682.30" y="210.60" width="166.70" height="116.00"/></clipPath><clipPath id="f4e"><rect x="512.90" y="332.20" width="166.50" height="116.10"/></clipPath><clipPath id="f4f"><rect x="682.30" y="332.20" width="166.70" height="116.10"/></clipPath></defs><path d="M512.90 88.94 L515.21 99.87 L517.52 110.24 L519.84 120.04 L522.15 129.29 L524.46 137.97 L526.77 146.10 L529.09 153.67 L531.40 160.67 L533.71 167.11 L536.02 173.00 L538.34 178.32 L540.65 183.08 L542.96 187.29 L545.27 190.93 L547.59 194.01 L549.90 196.53 L552.21 198.50 L554.52 199.90 L556.84 200.74 L559.15 201.02 L561.46 200.74 L563.77 199.90 L566.09 198.50 L568.40 196.53 L570.71 194.01 L573.02 190.93 L575.34 187.29 L577.65 183.08 L579.96 178.32 L582.27 173.00 L584.59 167.11 L586.90 160.67 L589.21 153.67 L591.52 146.10 L593.84 137.97 L596.15 129.29 L598.46 120.04 L600.77 110.24 L603.09 99.87 L605.40 88.94 L607.71 77.45 L610.02 65.41 L612.34 52.80 L614.65 39.63" fill="none" stroke="#3434A8" stroke-width="0.90" stroke-linejoin="round" clip-path="url(#f4a)"/><path d="M531.40 56.82 L533.71 66.31 L536.02 75.21 L538.34 83.53 L540.65 91.27 L542.96 98.43 L545.27 105.01 L547.59 111.00 L549.90 116.41 L552.21 121.24 L554.52 125.49 L556.84 129.16 L559.15 132.24 L561.46 134.74 L563.77 136.66 L566.09 138.00 L568.40 138.76 L570.71 138.93 L573.02 138.53 L575.34 137.54 L577.65 135.96 L579.96 133.81 L582.27 131.08 L584.59 127.76 L586.90 123.86 L589.21 119.38 L591.52 114.32 L593.84 108.67 L596.15 102.45 L598.46 95.64 L600.77 88.25 L603.09 80.27 L605.40 71.72 L607.71 62.58 L610.02 52.87 L612.34 42.56 L614.65 31.68" fill="none" stroke="#B02E6A" stroke-width="0.90" stroke-linejoin="round" clip-path="url(#f4a)"/><path d="M559.15 201.02 L569.79 138.94" fill="none" stroke="#1E8C1E" stroke-width="1.10" stroke-linejoin="round" stroke-dasharray="2.5 2"/><circle cx="551.75" cy="198.15" r="2.10" fill="rgba(255,255,255,0.35)" stroke="#3434A8" stroke-width="0.90"/><circle cx="553.14" cy="199.12" r="2.10" fill="rgba(255,255,255,0.35)" stroke="#3434A8" stroke-width="0.90"/><circle cx="554.52" cy="199.90" r="2.10" fill="rgba(255,255,255,0.35)" stroke="#3434A8" stroke-width="0.90"/><circle cx="555.91" cy="200.47" r="2.10" fill="rgba(255,255,255,0.35)" stroke="#3434A8" stroke-width="0.90"/><circle cx="557.30" cy="200.84" r="2.10" fill="rgba(255,255,255,0.35)" stroke="#3434A8" stroke-width="0.90"/><circle cx="558.69" cy="201.01" r="2.10" fill="rgba(255,255,255,0.35)" stroke="#3434A8" stroke-width="0.90"/><circle cx="560.07" cy="200.97" r="2.10" fill="rgba(255,255,255,0.35)" stroke="#3434A8" stroke-width="0.90"/><circle cx="561.46" cy="200.74" r="2.10" fill="rgba(255,255,255,0.35)" stroke="#3434A8" stroke-width="0.90"/><circle cx="562.85" cy="200.30" r="2.10" fill="rgba(255,255,255,0.35)" stroke="#3434A8" stroke-width="0.90"/><circle cx="564.24" cy="199.66" r="2.10" fill="rgba(255,255,255,0.35)" stroke="#3434A8" stroke-width="0.90"/><circle cx="565.62" cy="198.82" r="2.10" fill="rgba(255,255,255,0.35)" stroke="#3434A8" stroke-width="0.90"/><circle cx="563.77" cy="136.66" r="2.10" fill="rgba(255,255,255,0.35)" stroke="#B02E6A" stroke-width="0.90"/><circle cx="565.16" cy="137.54" r="2.10" fill="rgba(255,255,255,0.35)" stroke="#B02E6A" stroke-width="0.90"/><circle cx="566.55" cy="138.20" r="2.10" fill="rgba(255,255,255,0.35)" stroke="#B02E6A" stroke-width="0.90"/><circle cx="567.94" cy="138.65" r="2.10" fill="rgba(255,255,255,0.35)" stroke="#B02E6A" stroke-width="0.90"/><circle cx="569.32" cy="138.90" r="2.10" fill="rgba(255,255,255,0.35)" stroke="#B02E6A" stroke-width="0.90"/><circle cx="570.71" cy="138.93" r="2.10" fill="rgba(255,255,255,0.35)" stroke="#B02E6A" stroke-width="0.90"/><circle cx="572.10" cy="138.76" r="2.10" fill="rgba(255,255,255,0.35)" stroke="#B02E6A" stroke-width="0.90"/><circle cx="573.49" cy="138.37" r="2.10" fill="rgba(255,255,255,0.35)" stroke="#B02E6A" stroke-width="0.90"/><circle cx="574.88" cy="137.78" r="2.10" fill="rgba(255,255,255,0.35)" stroke="#B02E6A" stroke-width="0.90"/><circle cx="576.26" cy="136.98" r="2.10" fill="rgba(255,255,255,0.35)" stroke="#B02E6A" stroke-width="0.90"/><circle cx="577.65" cy="135.96" r="2.10" fill="rgba(255,255,255,0.35)" stroke="#B02E6A" stroke-width="0.90"/><path d="M750.83 191.96 C752.07 190.89 755.77 187.94 758.24 185.50 C760.71 183.06 762.87 180.76 765.65 177.31 C768.43 173.86 771.82 169.77 774.91 164.81 C778.00 159.85 781.09 153.67 784.17 147.57 C787.26 141.46 790.35 134.49 793.43 128.17 C796.52 121.85 799.33 116.17 802.69 109.63 C806.06 103.09 811.15 93.68 813.62 88.94 C816.09 84.20 816.86 82.48 817.51 81.18" fill="none" stroke="#3434A8" stroke-width="0.90" clip-path="url(#f4b)"/><path d="M794.36 111.36 C795.44 110.49 798.68 108.34 800.84 106.18 C803.00 104.03 805.16 101.30 807.33 98.42 C809.49 95.55 812.11 91.53 813.81 88.94 C815.51 86.36 816.89 83.91 817.51 82.91" fill="none" stroke="#B02E6A" stroke-width="0.90" clip-path="url(#f4b)"/><path d="M728.61 201.02 L773.06 119.98" fill="none" stroke="#1E8C1E" stroke-width="1.10" stroke-linejoin="round" stroke-dasharray="2.5 2"/><circle cx="706.38" cy="188.95" r="2.10" fill="rgba(255,255,255,0.35)" stroke="#3434A8" stroke-width="0.90"/><circle cx="711.94" cy="193.69" r="2.10" fill="rgba(255,255,255,0.35)" stroke="#3434A8" stroke-width="0.90"/><circle cx="717.49" cy="197.14" r="2.10" fill="rgba(255,255,255,0.35)" stroke="#3434A8" stroke-width="0.90"/><circle cx="723.05" cy="199.98" r="2.10" fill="rgba(255,255,255,0.35)" stroke="#3434A8" stroke-width="0.90"/><circle cx="728.61" cy="201.02" r="2.10" fill="rgba(255,255,255,0.35)" stroke="#3434A8" stroke-width="0.90"/><circle cx="734.16" cy="200.33" r="2.10" fill="rgba(255,255,255,0.35)" stroke="#3434A8" stroke-width="0.90"/><circle cx="739.72" cy="198.43" r="2.10" fill="rgba(255,255,255,0.35)" stroke="#3434A8" stroke-width="0.90"/><circle cx="745.28" cy="195.59" r="2.10" fill="rgba(255,255,255,0.35)" stroke="#3434A8" stroke-width="0.90"/><circle cx="750.83" cy="191.96" r="2.10" fill="rgba(255,255,255,0.35)" stroke="#3434A8" stroke-width="0.90"/><circle cx="749.91" cy="115.67" r="2.10" fill="rgba(255,255,255,0.35)" stroke="#B02E6A" stroke-width="0.90"/><circle cx="755.46" cy="116.96" r="2.10" fill="rgba(255,255,255,0.35)" stroke="#B02E6A" stroke-width="0.90"/><circle cx="761.02" cy="118.25" r="2.10" fill="rgba(255,255,255,0.35)" stroke="#B02E6A" stroke-width="0.90"/><circle cx="766.58" cy="119.29" r="2.10" fill="rgba(255,255,255,0.35)" stroke="#B02E6A" stroke-width="0.90"/><circle cx="772.13" cy="119.98" r="2.10" fill="rgba(255,255,255,0.35)" stroke="#B02E6A" stroke-width="0.90"/><circle cx="777.69" cy="119.46" r="2.10" fill="rgba(255,255,255,0.35)" stroke="#B02E6A" stroke-width="0.90"/><circle cx="783.25" cy="118.43" r="2.10" fill="rgba(255,255,255,0.35)" stroke="#B02E6A" stroke-width="0.90"/><circle cx="788.80" cy="116.53" r="2.10" fill="rgba(255,255,255,0.35)" stroke="#B02E6A" stroke-width="0.90"/><circle cx="794.36" cy="111.36" r="2.10" fill="rgba(255,255,255,0.35)" stroke="#B02E6A" stroke-width="0.90"/><path d="M512.90 280.21 L515.21 284.30 L517.52 288.17 L519.84 291.84 L522.15 295.30 L524.46 298.55 L526.77 301.59 L529.09 304.42 L531.40 307.04 L533.71 309.45 L536.02 311.65 L538.34 313.64 L540.65 315.42 L542.96 316.99 L545.27 318.36 L547.59 319.51 L549.90 320.45 L552.21 321.19 L554.52 321.71 L556.84 322.02 L559.15 322.13 L561.46 322.02 L563.77 321.71 L566.09 321.19 L568.40 320.45 L570.71 319.51 L573.02 318.36 L575.34 316.99 L577.65 315.42 L579.96 313.64 L582.27 311.65 L584.59 309.45 L586.90 307.04 L589.21 304.42 L591.52 301.59 L593.84 298.55 L596.15 295.30 L598.46 291.84 L600.77 288.17 L603.09 284.30 L605.40 280.21 L607.71 275.91 L610.02 271.41 L612.34 266.69 L614.65 261.76 L616.96 256.63 L619.27 251.28 L621.59 245.73 L623.90 239.97 L626.21 233.99 L628.52 227.81 L630.84 221.42 L633.15 214.81 L635.46 208.00 L637.77 200.98 L640.09 193.75 L642.40 186.31" fill="none" stroke="#3434A8" stroke-width="0.90" stroke-linejoin="round" clip-path="url(#f4c)"/><path d="M540.65 202.18 L542.96 204.51 L545.27 206.74 L547.59 208.85 L549.90 210.85 L552.21 212.73 L554.52 214.50 L556.84 216.16 L559.15 217.71 L561.46 219.14 L563.77 220.46 L566.09 221.67 L568.40 222.76 L570.71 223.75 L573.02 224.61 L575.34 225.37 L577.65 226.01 L579.96 226.54 L582.27 226.96 L584.59 227.27 L586.90 227.46 L589.21 227.54 L591.52 227.50 L593.84 227.36 L596.15 227.10 L598.46 226.73 L600.77 226.24 L603.09 225.64 L605.40 224.93 L607.71 224.11 L610.02 223.17 L612.34 222.12 L614.65 220.96 L616.96 219.68 L619.27 218.29 L621.59 216.79 L623.90 215.18 L626.21 213.45 L628.52 211.61 L630.84 209.66 L633.15 207.60 L635.46 205.42 L637.77 203.13 L640.09 200.72 L642.40 198.21" fill="none" stroke="#B02E6A" stroke-width="0.90" stroke-linejoin="round" clip-path="url(#f4c)"/><path d="M559.15 322.13 L589.67 227.54" fill="none" stroke="#1E8C1E" stroke-width="1.10" stroke-linejoin="round" stroke-dasharray="2.5 2"/><circle cx="542.50" cy="316.70" r="2.10" fill="rgba(255,255,255,0.35)" stroke="#3434A8" stroke-width="0.90"/><circle cx="546.66" cy="319.07" r="2.10" fill="rgba(255,255,255,0.35)" stroke="#3434A8" stroke-width="0.90"/><circle cx="550.82" cy="320.77" r="2.10" fill="rgba(255,255,255,0.35)" stroke="#3434A8" stroke-width="0.90"/><circle cx="554.99" cy="321.79" r="2.10" fill="rgba(255,255,255,0.35)" stroke="#3434A8" stroke-width="0.90"/><circle cx="559.15" cy="322.13" r="2.10" fill="rgba(255,255,255,0.35)" stroke="#3434A8" stroke-width="0.90"/><circle cx="563.31" cy="321.79" r="2.10" fill="rgba(255,255,255,0.35)" stroke="#3434A8" stroke-width="0.90"/><circle cx="567.48" cy="320.77" r="2.10" fill="rgba(255,255,255,0.35)" stroke="#3434A8" stroke-width="0.90"/><circle cx="571.64" cy="319.07" r="2.10" fill="rgba(255,255,255,0.35)" stroke="#3434A8" stroke-width="0.90"/><circle cx="575.80" cy="316.70" r="2.10" fill="rgba(255,255,255,0.35)" stroke="#3434A8" stroke-width="0.90"/><circle cx="574.50" cy="225.11" r="2.10" fill="rgba(255,255,255,0.35)" stroke="#B02E6A" stroke-width="0.90"/><circle cx="578.67" cy="226.26" r="2.10" fill="rgba(255,255,255,0.35)" stroke="#B02E6A" stroke-width="0.90"/><circle cx="582.83" cy="227.05" r="2.10" fill="rgba(255,255,255,0.35)" stroke="#B02E6A" stroke-width="0.90"/><circle cx="586.99" cy="227.46" r="2.10" fill="rgba(255,255,255,0.35)" stroke="#B02E6A" stroke-width="0.90"/><circle cx="591.15" cy="227.52" r="2.10" fill="rgba(255,255,255,0.35)" stroke="#B02E6A" stroke-width="0.90"/><circle cx="595.32" cy="227.20" r="2.10" fill="rgba(255,255,255,0.35)" stroke="#B02E6A" stroke-width="0.90"/><circle cx="599.48" cy="226.53" r="2.10" fill="rgba(255,255,255,0.35)" stroke="#B02E6A" stroke-width="0.90"/><circle cx="603.64" cy="225.48" r="2.10" fill="rgba(255,255,255,0.35)" stroke="#B02E6A" stroke-width="0.90"/><circle cx="607.80" cy="224.07" r="2.10" fill="rgba(255,255,255,0.35)" stroke="#B02E6A" stroke-width="0.90"/><path d="M766.95 210.60 L766.95 326.60" fill="none" stroke="#dcdcdc" stroke-width="0.80" stroke-linejoin="round"/><path d="M766.95 276.55 L835.11 276.55" fill="none" stroke="#dcdcdc" stroke-width="0.80" stroke-linejoin="round"/><path d="M802.69 253.34 L835.11 253.34" fill="none" stroke="#dcdcdc" stroke-width="0.80" stroke-linejoin="round"/><path d="M728.61 322.13 L798.99 322.13" fill="none" stroke="#dcdcdc" stroke-width="0.80" stroke-linejoin="round"/><path d="M682.30 292.25 L684.62 295.16 L686.93 297.92 L689.25 300.54 L691.56 303.00 L693.88 305.32 L696.19 307.49 L698.51 309.50 L700.82 311.37 L703.14 313.09 L705.45 314.66 L707.77 316.08 L710.08 317.35 L712.40 318.47 L714.71 319.44 L717.03 320.26 L719.34 320.93 L721.66 321.46 L723.97 321.83 L726.29 322.05 L728.61 322.13 L730.92 322.05 L733.24 321.83 L735.55 321.46 L737.87 320.93 L740.18 320.26 L742.50 319.44 L744.81 318.47 L747.13 317.35 L749.44 316.08 L751.76 314.66 L754.07 313.09 L756.39 311.37 L758.70 309.50 L761.02 307.49 L763.33 305.32 L765.65 303.00 L767.97 300.54 L770.28 297.92 L772.60 295.16 L774.91 292.25 L777.23 289.18 L779.54 285.97 L781.86 282.61 L784.17 279.10 L786.49 275.44 L788.80 271.63 L791.12 267.67 L793.43 263.56 L795.75 259.30 L798.06 254.90 L800.38 250.34 L802.69 245.63 L805.01 240.78 L807.33 235.77 L809.64 230.62 L811.96 225.31 L814.27 219.86 L816.59 214.26 L818.90 208.50 L821.22 202.60 L823.53 196.55 L825.85 190.35 L828.16 184.00 L830.48 177.50" fill="none" stroke="#3434A8" stroke-width="0.90" stroke-linejoin="round" clip-path="url(#f4d)"/><path d="M700.82 185.37 L703.14 191.65 L705.45 197.70 L707.77 203.52 L710.08 209.13 L712.40 214.50 L714.71 219.66 L717.03 224.59 L719.34 229.30 L721.66 233.79 L723.97 238.05 L726.29 242.08 L728.61 245.90 L730.92 249.49 L733.24 252.86 L735.55 256.00 L737.87 258.92 L740.18 261.62 L742.50 264.09 L744.81 266.34 L747.13 268.36 L749.44 270.17 L751.76 271.74 L754.07 273.10 L756.39 274.23 L758.70 275.14 L761.02 275.82 L763.33 276.28 L765.65 276.52 L767.97 276.53 L770.28 276.32 L772.60 275.89 L774.91 275.23 L777.23 274.35 L779.54 273.25 L781.86 271.92 L784.17 270.37 L786.49 268.59 L788.80 266.59 L791.12 264.37 L793.43 261.92 L795.75 259.25 L798.06 256.36 L800.38 253.25 L802.69 249.90 L805.01 246.34 L807.33 242.55 L809.64 238.54 L811.96 234.31 L814.27 229.85 L816.59 225.17 L818.90 220.26 L821.22 215.13 L823.53 209.78 L825.85 204.21 L828.16 198.41 L830.48 192.38" fill="none" stroke="#B02E6A" stroke-width="0.90" stroke-linejoin="round" clip-path="url(#f4d)"/><path d="M728.61 322.13 L766.95 276.55" fill="none" stroke="#1E8C1E" stroke-width="1.10" stroke-linejoin="round" stroke-dasharray="2.5 2"/><circle cx="708.79" cy="316.65" r="2.10" fill="rgba(255,255,255,0.35)" stroke="#3434A8" stroke-width="0.90"/><circle cx="713.70" cy="319.03" r="2.10" fill="rgba(255,255,255,0.35)" stroke="#3434A8" stroke-width="0.90"/><circle cx="718.60" cy="320.73" r="2.10" fill="rgba(255,255,255,0.35)" stroke="#3434A8" stroke-width="0.90"/><circle cx="723.51" cy="321.77" r="2.10" fill="rgba(255,255,255,0.35)" stroke="#3434A8" stroke-width="0.90"/><circle cx="728.42" cy="322.13" r="2.10" fill="rgba(255,255,255,0.35)" stroke="#3434A8" stroke-width="0.90"/><circle cx="733.33" cy="321.82" r="2.10" fill="rgba(255,255,255,0.35)" stroke="#3434A8" stroke-width="0.90"/><circle cx="738.24" cy="320.84" r="2.10" fill="rgba(255,255,255,0.35)" stroke="#3434A8" stroke-width="0.90"/><circle cx="743.15" cy="319.18" r="2.10" fill="rgba(255,255,255,0.35)" stroke="#3434A8" stroke-width="0.90"/><circle cx="748.05" cy="316.86" r="2.10" fill="rgba(255,255,255,0.35)" stroke="#3434A8" stroke-width="0.90"/><circle cx="747.31" cy="268.52" r="2.10" fill="rgba(255,255,255,0.35)" stroke="#B02E6A" stroke-width="0.90"/><circle cx="752.22" cy="272.03" r="2.10" fill="rgba(255,255,255,0.35)" stroke="#B02E6A" stroke-width="0.90"/><circle cx="757.13" cy="274.54" r="2.10" fill="rgba(255,255,255,0.35)" stroke="#B02E6A" stroke-width="0.90"/><circle cx="762.04" cy="276.05" r="2.10" fill="rgba(255,255,255,0.35)" stroke="#B02E6A" stroke-width="0.90"/><circle cx="766.95" cy="276.55" r="2.10" fill="rgba(255,255,255,0.35)" stroke="#B02E6A" stroke-width="0.90"/><circle cx="771.85" cy="276.05" r="2.10" fill="rgba(255,255,255,0.35)" stroke="#B02E6A" stroke-width="0.90"/><circle cx="776.76" cy="274.54" r="2.10" fill="rgba(255,255,255,0.35)" stroke="#B02E6A" stroke-width="0.90"/><circle cx="781.67" cy="272.03" r="2.10" fill="rgba(255,255,255,0.35)" stroke="#B02E6A" stroke-width="0.90"/><circle cx="786.58" cy="268.52" r="2.10" fill="rgba(255,255,255,0.35)" stroke="#B02E6A" stroke-width="0.90"/><path d="M728.61 322.13 L728.61 247.32" stroke="#9B30FF" stroke-width="1.60" fill="none"/><path d="M728.61 247.32 L730.46 251.96 L726.75 251.96 Z" fill="#9B30FF"/><path d="M729.07 238.72 L766.58 238.72" stroke="#2038D8" stroke-width="1.00" fill="none"/><path d="M766.58 238.72 L762.86 240.20 L762.86 237.23 Z" fill="#2038D8"/><path d="M729.07 238.72 L732.78 237.23 L732.78 240.20 Z" fill="#2038D8"/><path d="M766.95 276.55 L766.95 301.06" stroke="#F5922E" stroke-width="1.20" fill="none"/><path d="M766.95 301.06 L765.28 296.88 L768.62 296.88 Z" fill="#F5922E"/><path d="M766.95 301.49 L766.95 322.13" stroke="#7F7F1F" stroke-width="1.20" fill="none"/><path d="M766.95 322.13 L765.28 317.95 L768.62 317.95 Z" fill="#7F7F1F"/><path d="M795.29 322.13 L795.29 276.55" stroke="#1E8C1E" stroke-width="1.00" fill="none"/><path d="M795.29 276.55 L796.77 280.27 L793.80 280.27 Z" fill="#1E8C1E"/><path d="M795.29 322.13 L793.80 318.41 L796.77 318.41 Z" fill="#1E8C1E"/><path d="M814.73 276.55 L814.73 253.34" stroke="#E03030" stroke-width="1.00" fill="none"/><path d="M814.73 253.34 L816.22 257.05 L813.25 257.05 Z" fill="#E03030"/><path d="M814.73 276.55 L813.25 272.84 L816.22 272.84 Z" fill="#E03030"/><path d="M512.90 374.97 L515.21 381.69 L517.52 388.06 L519.84 394.08 L522.15 399.76 L524.46 405.10 L526.77 410.09 L529.09 414.74 L531.40 419.04 L533.71 423.00 L536.02 426.61 L538.34 429.88 L540.65 432.81 L542.96 435.39 L545.27 437.63 L547.59 439.52 L549.90 441.07 L552.21 442.28 L554.52 443.14 L556.84 443.65 L559.15 443.82 L561.46 443.65 L563.77 443.14 L566.09 442.28 L568.40 441.07 L570.71 439.52 L573.02 437.63 L575.34 435.39 L577.65 432.81 L579.96 429.88 L582.27 426.61 L584.59 423.00 L586.90 419.04 L589.21 414.74 L591.52 410.09 L593.84 405.10 L596.15 399.76 L598.46 394.08 L600.77 388.06 L603.09 381.69 L605.40 374.97 L607.71 367.92 L610.02 360.51 L612.34 352.77 L614.65 344.68 L616.96 336.24 L619.27 327.47 L621.59 318.34 L623.90 308.88" fill="none" stroke="#3434A8" stroke-width="0.90" stroke-linejoin="round" clip-path="url(#f4e)"/><path d="M512.90 327.73 L515.21 336.14 L517.52 344.16 L519.84 351.78 L522.15 359.03 L524.46 365.88 L526.77 372.35 L529.09 378.43 L531.40 384.12 L533.71 389.43 L536.02 394.35 L538.34 398.88 L540.65 403.02 L542.96 406.78 L545.27 410.15 L547.59 413.13 L549.90 415.73 L552.21 417.93 L554.52 419.75 L556.84 421.19 L559.15 422.23 L561.46 422.89 L563.77 423.16 L566.09 423.05 L568.40 422.54 L570.71 421.65 L573.02 420.37 L575.34 418.71 L577.65 416.66 L579.96 414.22 L582.27 411.39 L584.59 408.17 L586.90 404.57 L589.21 400.58 L591.52 396.21 L593.84 391.44 L596.15 386.29 L598.46 380.75 L600.77 374.83 L603.09 368.52 L605.40 361.82 L607.71 354.73 L610.02 347.25 L612.34 339.39 L614.65 331.14 L616.96 322.51 L619.27 313.48 L621.59 304.07 L623.90 294.27" fill="none" stroke="#B02E6A" stroke-width="0.90" stroke-linejoin="round" clip-path="url(#f4e)"/><path d="M559.15 443.82 L564.24 423.17" fill="none" stroke="#1E8C1E" stroke-width="1.10" stroke-linejoin="round" stroke-dasharray="2.5 2"/><circle cx="555.91" cy="443.82" r="2.10" fill="rgba(255,255,255,0.35)" stroke="#3434A8" stroke-width="0.90"/><circle cx="557.12" cy="443.82" r="2.10" fill="rgba(255,255,255,0.35)" stroke="#3434A8" stroke-width="0.90"/><circle cx="558.32" cy="443.82" r="2.10" fill="rgba(255,255,255,0.35)" stroke="#3434A8" stroke-width="0.90"/><circle cx="559.52" cy="443.82" r="2.10" fill="rgba(255,255,255,0.35)" stroke="#3434A8" stroke-width="0.90"/><circle cx="560.72" cy="443.82" r="2.10" fill="rgba(255,255,255,0.35)" stroke="#3434A8" stroke-width="0.90"/><circle cx="561.92" cy="443.82" r="2.10" fill="rgba(255,255,255,0.35)" stroke="#3434A8" stroke-width="0.90"/><circle cx="561.00" cy="423.17" r="2.10" fill="rgba(255,255,255,0.35)" stroke="#B02E6A" stroke-width="0.90"/><circle cx="562.20" cy="423.17" r="2.10" fill="rgba(255,255,255,0.35)" stroke="#B02E6A" stroke-width="0.90"/><circle cx="563.40" cy="423.17" r="2.10" fill="rgba(255,255,255,0.35)" stroke="#B02E6A" stroke-width="0.90"/><circle cx="564.61" cy="423.17" r="2.10" fill="rgba(255,255,255,0.35)" stroke="#B02E6A" stroke-width="0.90"/><circle cx="565.81" cy="423.17" r="2.10" fill="rgba(255,255,255,0.35)" stroke="#B02E6A" stroke-width="0.90"/><circle cx="567.01" cy="423.17" r="2.10" fill="rgba(255,255,255,0.35)" stroke="#B02E6A" stroke-width="0.90"/><path d="M682.30 422.31 L684.62 424.41 L686.93 426.40 L689.25 428.28 L691.56 430.05 L693.88 431.72 L696.19 433.28 L698.51 434.73 L700.82 436.08 L703.14 437.32 L705.45 438.45 L707.77 439.47 L710.08 440.38 L712.40 441.19 L714.71 441.89 L717.03 442.48 L719.34 442.96 L721.66 443.34 L723.97 443.61 L726.29 443.77 L728.61 443.82 L730.92 443.77 L733.24 443.61 L735.55 443.34 L737.87 442.96 L740.18 442.48 L742.50 441.89 L744.81 441.19 L747.13 440.38 L749.44 439.47 L751.76 438.45 L754.07 437.32 L756.39 436.08 L758.70 434.73 L761.02 433.28 L763.33 431.72 L765.65 430.05 L767.97 428.28 L770.28 426.40 L772.60 424.41 L774.91 422.31 L777.23 420.10 L779.54 417.79 L781.86 415.37 L784.17 412.84 L786.49 410.21 L788.80 407.46 L791.12 404.61 L793.43 401.65 L795.75 398.59 L798.06 395.41 L800.38 392.13 L802.69 388.74 L805.01 385.25 L807.33 381.64 L809.64 377.93 L811.96 374.11 L814.27 370.19 L816.59 366.15 L818.90 362.01 L821.22 357.76 L823.53 353.40 L825.85 348.94 L828.16 344.37 L830.48 339.69 L832.79 334.90 L835.11 330.01 L837.42 325.00 L839.74 319.89" fill="none" stroke="#3434A8" stroke-width="0.90" stroke-linejoin="round" clip-path="url(#f4f)"/><path d="M700.82 310.80 L703.14 318.37 L705.45 325.67 L707.77 332.71 L710.08 339.48 L712.40 345.99 L714.71 352.24 L717.03 358.22 L719.34 363.94 L721.66 369.40 L723.97 374.59 L726.29 379.52 L728.61 384.18 L730.92 388.58 L733.24 392.72 L735.55 396.60 L737.87 400.21 L740.18 403.55 L742.50 406.64 L744.81 409.46 L747.13 412.02 L749.44 414.31 L751.76 416.34 L754.07 418.10 L756.39 419.61 L758.70 420.84 L761.02 421.82 L763.33 422.53 L765.65 422.98 L767.97 423.16 L770.28 423.09 L772.60 422.74 L774.91 422.14 L777.23 421.27 L779.54 420.13 L781.86 418.74 L784.17 417.08 L786.49 415.15 L788.80 412.96 L791.12 410.51 L793.43 407.80 L795.75 404.82 L798.06 401.58 L800.38 398.07 L802.69 394.30 L805.01 390.27 L807.33 385.97 L809.64 381.41 L811.96 376.59 L814.27 371.50 L816.59 366.15 L818.90 360.54 L821.22 354.66 L823.53 348.52 L825.85 342.12 L828.16 335.45 L830.48 328.52 L832.79 321.32 L835.11 313.86 L837.42 306.14 L839.74 298.15" fill="none" stroke="#B02E6A" stroke-width="0.90" stroke-linejoin="round" clip-path="url(#f4f)"/><path d="M728.61 443.82 L768.43 423.17" fill="none" stroke="#1E8C1E" stroke-width="1.10" stroke-linejoin="round" stroke-dasharray="2.5 2"/><circle cx="708.23" cy="439.66" r="2.10" fill="rgba(255,255,255,0.35)" stroke="#3434A8" stroke-width="0.90"/><circle cx="713.32" cy="441.48" r="2.10" fill="rgba(255,255,255,0.35)" stroke="#3434A8" stroke-width="0.90"/><circle cx="718.42" cy="442.78" r="2.10" fill="rgba(255,255,255,0.35)" stroke="#3434A8" stroke-width="0.90"/><circle cx="723.51" cy="443.56" r="2.10" fill="rgba(255,255,255,0.35)" stroke="#3434A8" stroke-width="0.90"/><circle cx="728.61" cy="443.82" r="2.10" fill="rgba(255,255,255,0.35)" stroke="#3434A8" stroke-width="0.90"/><circle cx="733.70" cy="443.56" r="2.10" fill="rgba(255,255,255,0.35)" stroke="#3434A8" stroke-width="0.90"/><circle cx="738.79" cy="442.78" r="2.10" fill="rgba(255,255,255,0.35)" stroke="#3434A8" stroke-width="0.90"/><circle cx="743.89" cy="441.48" r="2.10" fill="rgba(255,255,255,0.35)" stroke="#3434A8" stroke-width="0.90"/><circle cx="748.98" cy="439.66" r="2.10" fill="rgba(255,255,255,0.35)" stroke="#3434A8" stroke-width="0.90"/><circle cx="748.98" cy="413.87" r="2.10" fill="rgba(255,255,255,0.35)" stroke="#B02E6A" stroke-width="0.90"/><circle cx="754.07" cy="418.10" r="2.10" fill="rgba(255,255,255,0.35)" stroke="#B02E6A" stroke-width="0.90"/><circle cx="759.17" cy="421.06" r="2.10" fill="rgba(255,255,255,0.35)" stroke="#B02E6A" stroke-width="0.90"/><circle cx="764.26" cy="422.74" r="2.10" fill="rgba(255,255,255,0.35)" stroke="#B02E6A" stroke-width="0.90"/><circle cx="769.35" cy="423.15" r="2.10" fill="rgba(255,255,255,0.35)" stroke="#B02E6A" stroke-width="0.90"/><circle cx="774.45" cy="422.28" r="2.10" fill="rgba(255,255,255,0.35)" stroke="#B02E6A" stroke-width="0.90"/><circle cx="779.54" cy="420.13" r="2.10" fill="rgba(255,255,255,0.35)" stroke="#B02E6A" stroke-width="0.90"/><circle cx="784.64" cy="416.71" r="2.10" fill="rgba(255,255,255,0.35)" stroke="#B02E6A" stroke-width="0.90"/><circle cx="789.73" cy="412.02" r="2.10" fill="rgba(255,255,255,0.35)" stroke="#B02E6A" stroke-width="0.90"/><rect x="512.90" y="89.20" width="166.50" height="116.30" fill="none" stroke="#b4b4b4" stroke-width="1.00"/><path d="M517.52 205.50 v-2.00" stroke="#b4b4b4" stroke-width="1"/><path d="M517.52 89.20 v2.00" stroke="#b4b4b4" stroke-width="1"/><path d="M531.40 205.50 v-2.00" stroke="#b4b4b4" stroke-width="1"/><path d="M531.40 89.20 v2.00" stroke="#b4b4b4" stroke-width="1"/><path d="M545.27 205.50 v-2.00" stroke="#b4b4b4" stroke-width="1"/><path d="M545.27 89.20 v2.00" stroke="#b4b4b4" stroke-width="1"/><path d="M559.15 205.50 v-2.00" stroke="#b4b4b4" stroke-width="1"/><path d="M559.15 89.20 v2.00" stroke="#b4b4b4" stroke-width="1"/><path d="M573.02 205.50 v-2.00" stroke="#b4b4b4" stroke-width="1"/><path d="M573.02 89.20 v2.00" stroke="#b4b4b4" stroke-width="1"/><path d="M586.90 205.50 v-2.00" stroke="#b4b4b4" stroke-width="1"/><path d="M586.90 89.20 v2.00" stroke="#b4b4b4" stroke-width="1"/><path d="M600.77 205.50 v-2.00" stroke="#b4b4b4" stroke-width="1"/><path d="M600.77 89.20 v2.00" stroke="#b4b4b4" stroke-width="1"/><path d="M614.65 205.50 v-2.00" stroke="#b4b4b4" stroke-width="1"/><path d="M614.65 89.20 v2.00" stroke="#b4b4b4" stroke-width="1"/><path d="M628.52 205.50 v-2.00" stroke="#b4b4b4" stroke-width="1"/><path d="M628.52 89.20 v2.00" stroke="#b4b4b4" stroke-width="1"/><path d="M642.40 205.50 v-2.00" stroke="#b4b4b4" stroke-width="1"/><path d="M642.40 89.20 v2.00" stroke="#b4b4b4" stroke-width="1"/><path d="M656.27 205.50 v-2.00" stroke="#b4b4b4" stroke-width="1"/><path d="M656.27 89.20 v2.00" stroke="#b4b4b4" stroke-width="1"/><path d="M670.15 205.50 v-2.00" stroke="#b4b4b4" stroke-width="1"/><path d="M670.15 89.20 v2.00" stroke="#b4b4b4" stroke-width="1"/><path d="M531.40 205.50 v-3.50" stroke="#b4b4b4" stroke-width="1"/><path d="M531.40 89.20 v3.50" stroke="#b4b4b4" stroke-width="1"/><path d="M559.15 205.50 v-3.50" stroke="#b4b4b4" stroke-width="1"/><path d="M559.15 89.20 v3.50" stroke="#b4b4b4" stroke-width="1"/><path d="M586.90 205.50 v-3.50" stroke="#b4b4b4" stroke-width="1"/><path d="M586.90 89.20 v3.50" stroke="#b4b4b4" stroke-width="1"/><path d="M614.65 205.50 v-3.50" stroke="#b4b4b4" stroke-width="1"/><path d="M614.65 89.20 v3.50" stroke="#b4b4b4" stroke-width="1"/><path d="M642.40 205.50 v-3.50" stroke="#b4b4b4" stroke-width="1"/><path d="M642.40 89.20 v3.50" stroke="#b4b4b4" stroke-width="1"/><path d="M670.15 205.50 v-3.50" stroke="#b4b4b4" stroke-width="1"/><path d="M670.15 89.20 v3.50" stroke="#b4b4b4" stroke-width="1"/><path d="M512.90 201.02 h2.00" stroke="#b4b4b4" stroke-width="1"/><path d="M679.40 201.02 h-2.00" stroke="#b4b4b4" stroke-width="1"/><path d="M512.90 192.40 h2.00" stroke="#b4b4b4" stroke-width="1"/><path d="M679.40 192.40 h-2.00" stroke="#b4b4b4" stroke-width="1"/><path d="M512.90 183.77 h2.00" stroke="#b4b4b4" stroke-width="1"/><path d="M679.40 183.77 h-2.00" stroke="#b4b4b4" stroke-width="1"/><path d="M512.90 175.15 h2.00" stroke="#b4b4b4" stroke-width="1"/><path d="M679.40 175.15 h-2.00" stroke="#b4b4b4" stroke-width="1"/><path d="M512.90 166.53 h2.00" stroke="#b4b4b4" stroke-width="1"/><path d="M679.40 166.53 h-2.00" stroke="#b4b4b4" stroke-width="1"/><path d="M512.90 157.91 h2.00" stroke="#b4b4b4" stroke-width="1"/><path d="M679.40 157.91 h-2.00" stroke="#b4b4b4" stroke-width="1"/><path d="M512.90 149.29 h2.00" stroke="#b4b4b4" stroke-width="1"/><path d="M679.40 149.29 h-2.00" stroke="#b4b4b4" stroke-width="1"/><path d="M512.90 140.67 h2.00" stroke="#b4b4b4" stroke-width="1"/><path d="M679.40 140.67 h-2.00" stroke="#b4b4b4" stroke-width="1"/><path d="M512.90 132.05 h2.00" stroke="#b4b4b4" stroke-width="1"/><path d="M679.40 132.05 h-2.00" stroke="#b4b4b4" stroke-width="1"/><path d="M512.90 123.43 h2.00" stroke="#b4b4b4" stroke-width="1"/><path d="M679.40 123.43 h-2.00" stroke="#b4b4b4" stroke-width="1"/><path d="M512.90 114.80 h2.00" stroke="#b4b4b4" stroke-width="1"/><path d="M679.40 114.80 h-2.00" stroke="#b4b4b4" stroke-width="1"/><path d="M512.90 106.18 h2.00" stroke="#b4b4b4" stroke-width="1"/><path d="M679.40 106.18 h-2.00" stroke="#b4b4b4" stroke-width="1"/><path d="M512.90 97.56 h2.00" stroke="#b4b4b4" stroke-width="1"/><path d="M679.40 97.56 h-2.00" stroke="#b4b4b4" stroke-width="1"/><path d="M512.90 201.02 h3.50" stroke="#b4b4b4" stroke-width="1"/><path d="M679.40 201.02 h-3.50" stroke="#b4b4b4" stroke-width="1"/><path d="M512.90 175.15 h3.50" stroke="#b4b4b4" stroke-width="1"/><path d="M679.40 175.15 h-3.50" stroke="#b4b4b4" stroke-width="1"/><path d="M512.90 149.29 h3.50" stroke="#b4b4b4" stroke-width="1"/><path d="M679.40 149.29 h-3.50" stroke="#b4b4b4" stroke-width="1"/><path d="M512.90 123.43 h3.50" stroke="#b4b4b4" stroke-width="1"/><path d="M679.40 123.43 h-3.50" stroke="#b4b4b4" stroke-width="1"/><path d="M512.90 97.56 h3.50" stroke="#b4b4b4" stroke-width="1"/><path d="M679.40 97.56 h-3.50" stroke="#b4b4b4" stroke-width="1"/><rect x="682.30" y="89.20" width="166.70" height="116.30" fill="none" stroke="#b4b4b4" stroke-width="1.00"/><path d="M686.93 205.50 v-2.00" stroke="#b4b4b4" stroke-width="1"/><path d="M686.93 89.20 v2.00" stroke="#b4b4b4" stroke-width="1"/><path d="M700.82 205.50 v-2.00" stroke="#b4b4b4" stroke-width="1"/><path d="M700.82 89.20 v2.00" stroke="#b4b4b4" stroke-width="1"/><path d="M714.71 205.50 v-2.00" stroke="#b4b4b4" stroke-width="1"/><path d="M714.71 89.20 v2.00" stroke="#b4b4b4" stroke-width="1"/><path d="M728.61 205.50 v-2.00" stroke="#b4b4b4" stroke-width="1"/><path d="M728.61 89.20 v2.00" stroke="#b4b4b4" stroke-width="1"/><path d="M742.50 205.50 v-2.00" stroke="#b4b4b4" stroke-width="1"/><path d="M742.50 89.20 v2.00" stroke="#b4b4b4" stroke-width="1"/><path d="M756.39 205.50 v-2.00" stroke="#b4b4b4" stroke-width="1"/><path d="M756.39 89.20 v2.00" stroke="#b4b4b4" stroke-width="1"/><path d="M770.28 205.50 v-2.00" stroke="#b4b4b4" stroke-width="1"/><path d="M770.28 89.20 v2.00" stroke="#b4b4b4" stroke-width="1"/><path d="M784.17 205.50 v-2.00" stroke="#b4b4b4" stroke-width="1"/><path d="M784.17 89.20 v2.00" stroke="#b4b4b4" stroke-width="1"/><path d="M798.06 205.50 v-2.00" stroke="#b4b4b4" stroke-width="1"/><path d="M798.06 89.20 v2.00" stroke="#b4b4b4" stroke-width="1"/><path d="M811.96 205.50 v-2.00" stroke="#b4b4b4" stroke-width="1"/><path d="M811.96 89.20 v2.00" stroke="#b4b4b4" stroke-width="1"/><path d="M825.85 205.50 v-2.00" stroke="#b4b4b4" stroke-width="1"/><path d="M825.85 89.20 v2.00" stroke="#b4b4b4" stroke-width="1"/><path d="M839.74 205.50 v-2.00" stroke="#b4b4b4" stroke-width="1"/><path d="M839.74 89.20 v2.00" stroke="#b4b4b4" stroke-width="1"/><path d="M700.82 205.50 v-3.50" stroke="#b4b4b4" stroke-width="1"/><path d="M700.82 89.20 v3.50" stroke="#b4b4b4" stroke-width="1"/><path d="M728.61 205.50 v-3.50" stroke="#b4b4b4" stroke-width="1"/><path d="M728.61 89.20 v3.50" stroke="#b4b4b4" stroke-width="1"/><path d="M756.39 205.50 v-3.50" stroke="#b4b4b4" stroke-width="1"/><path d="M756.39 89.20 v3.50" stroke="#b4b4b4" stroke-width="1"/><path d="M784.17 205.50 v-3.50" stroke="#b4b4b4" stroke-width="1"/><path d="M784.17 89.20 v3.50" stroke="#b4b4b4" stroke-width="1"/><path d="M811.96 205.50 v-3.50" stroke="#b4b4b4" stroke-width="1"/><path d="M811.96 89.20 v3.50" stroke="#b4b4b4" stroke-width="1"/><path d="M839.74 205.50 v-3.50" stroke="#b4b4b4" stroke-width="1"/><path d="M839.74 89.20 v3.50" stroke="#b4b4b4" stroke-width="1"/><path d="M682.30 201.02 h2.00" stroke="#b4b4b4" stroke-width="1"/><path d="M849.00 201.02 h-2.00" stroke="#b4b4b4" stroke-width="1"/><path d="M682.30 192.40 h2.00" stroke="#b4b4b4" stroke-width="1"/><path d="M849.00 192.40 h-2.00" stroke="#b4b4b4" stroke-width="1"/><path d="M682.30 183.77 h2.00" stroke="#b4b4b4" stroke-width="1"/><path d="M849.00 183.77 h-2.00" stroke="#b4b4b4" stroke-width="1"/><path d="M682.30 175.15 h2.00" stroke="#b4b4b4" stroke-width="1"/><path d="M849.00 175.15 h-2.00" stroke="#b4b4b4" stroke-width="1"/><path d="M682.30 166.53 h2.00" stroke="#b4b4b4" stroke-width="1"/><path d="M849.00 166.53 h-2.00" stroke="#b4b4b4" stroke-width="1"/><path d="M682.30 157.91 h2.00" stroke="#b4b4b4" stroke-width="1"/><path d="M849.00 157.91 h-2.00" stroke="#b4b4b4" stroke-width="1"/><path d="M682.30 149.29 h2.00" stroke="#b4b4b4" stroke-width="1"/><path d="M849.00 149.29 h-2.00" stroke="#b4b4b4" stroke-width="1"/><path d="M682.30 140.67 h2.00" stroke="#b4b4b4" stroke-width="1"/><path d="M849.00 140.67 h-2.00" stroke="#b4b4b4" stroke-width="1"/><path d="M682.30 132.05 h2.00" stroke="#b4b4b4" stroke-width="1"/><path d="M849.00 132.05 h-2.00" stroke="#b4b4b4" stroke-width="1"/><path d="M682.30 123.43 h2.00" stroke="#b4b4b4" stroke-width="1"/><path d="M849.00 123.43 h-2.00" stroke="#b4b4b4" stroke-width="1"/><path d="M682.30 114.80 h2.00" stroke="#b4b4b4" stroke-width="1"/><path d="M849.00 114.80 h-2.00" stroke="#b4b4b4" stroke-width="1"/><path d="M682.30 106.18 h2.00" stroke="#b4b4b4" stroke-width="1"/><path d="M849.00 106.18 h-2.00" stroke="#b4b4b4" stroke-width="1"/><path d="M682.30 97.56 h2.00" stroke="#b4b4b4" stroke-width="1"/><path d="M849.00 97.56 h-2.00" stroke="#b4b4b4" stroke-width="1"/><path d="M682.30 201.02 h3.50" stroke="#b4b4b4" stroke-width="1"/><path d="M849.00 201.02 h-3.50" stroke="#b4b4b4" stroke-width="1"/><path d="M682.30 175.15 h3.50" stroke="#b4b4b4" stroke-width="1"/><path d="M849.00 175.15 h-3.50" stroke="#b4b4b4" stroke-width="1"/><path d="M682.30 149.29 h3.50" stroke="#b4b4b4" stroke-width="1"/><path d="M849.00 149.29 h-3.50" stroke="#b4b4b4" stroke-width="1"/><path d="M682.30 123.43 h3.50" stroke="#b4b4b4" stroke-width="1"/><path d="M849.00 123.43 h-3.50" stroke="#b4b4b4" stroke-width="1"/><path d="M682.30 97.56 h3.50" stroke="#b4b4b4" stroke-width="1"/><path d="M849.00 97.56 h-3.50" stroke="#b4b4b4" stroke-width="1"/><rect x="512.90" y="210.60" width="166.50" height="116.00" fill="none" stroke="#b4b4b4" stroke-width="1.00"/><path d="M517.52 326.60 v-2.00" stroke="#b4b4b4" stroke-width="1"/><path d="M517.52 210.60 v2.00" stroke="#b4b4b4" stroke-width="1"/><path d="M531.40 326.60 v-2.00" stroke="#b4b4b4" stroke-width="1"/><path d="M531.40 210.60 v2.00" stroke="#b4b4b4" stroke-width="1"/><path d="M545.27 326.60 v-2.00" stroke="#b4b4b4" stroke-width="1"/><path d="M545.27 210.60 v2.00" stroke="#b4b4b4" stroke-width="1"/><path d="M559.15 326.60 v-2.00" stroke="#b4b4b4" stroke-width="1"/><path d="M559.15 210.60 v2.00" stroke="#b4b4b4" stroke-width="1"/><path d="M573.02 326.60 v-2.00" stroke="#b4b4b4" stroke-width="1"/><path d="M573.02 210.60 v2.00" stroke="#b4b4b4" stroke-width="1"/><path d="M586.90 326.60 v-2.00" stroke="#b4b4b4" stroke-width="1"/><path d="M586.90 210.60 v2.00" stroke="#b4b4b4" stroke-width="1"/><path d="M600.77 326.60 v-2.00" stroke="#b4b4b4" stroke-width="1"/><path d="M600.77 210.60 v2.00" stroke="#b4b4b4" stroke-width="1"/><path d="M614.65 326.60 v-2.00" stroke="#b4b4b4" stroke-width="1"/><path d="M614.65 210.60 v2.00" stroke="#b4b4b4" stroke-width="1"/><path d="M628.52 326.60 v-2.00" stroke="#b4b4b4" stroke-width="1"/><path d="M628.52 210.60 v2.00" stroke="#b4b4b4" stroke-width="1"/><path d="M642.40 326.60 v-2.00" stroke="#b4b4b4" stroke-width="1"/><path d="M642.40 210.60 v2.00" stroke="#b4b4b4" stroke-width="1"/><path d="M656.27 326.60 v-2.00" stroke="#b4b4b4" stroke-width="1"/><path d="M656.27 210.60 v2.00" stroke="#b4b4b4" stroke-width="1"/><path d="M670.15 326.60 v-2.00" stroke="#b4b4b4" stroke-width="1"/><path d="M670.15 210.60 v2.00" stroke="#b4b4b4" stroke-width="1"/><path d="M531.40 326.60 v-3.50" stroke="#b4b4b4" stroke-width="1"/><path d="M531.40 210.60 v3.50" stroke="#b4b4b4" stroke-width="1"/><path d="M559.15 326.60 v-3.50" stroke="#b4b4b4" stroke-width="1"/><path d="M559.15 210.60 v3.50" stroke="#b4b4b4" stroke-width="1"/><path d="M586.90 326.60 v-3.50" stroke="#b4b4b4" stroke-width="1"/><path d="M586.90 210.60 v3.50" stroke="#b4b4b4" stroke-width="1"/><path d="M614.65 326.60 v-3.50" stroke="#b4b4b4" stroke-width="1"/><path d="M614.65 210.60 v3.50" stroke="#b4b4b4" stroke-width="1"/><path d="M642.40 326.60 v-3.50" stroke="#b4b4b4" stroke-width="1"/><path d="M642.40 210.60 v3.50" stroke="#b4b4b4" stroke-width="1"/><path d="M670.15 326.60 v-3.50" stroke="#b4b4b4" stroke-width="1"/><path d="M670.15 210.60 v3.50" stroke="#b4b4b4" stroke-width="1"/><path d="M512.90 322.13 h2.00" stroke="#b4b4b4" stroke-width="1"/><path d="M679.40 322.13 h-2.00" stroke="#b4b4b4" stroke-width="1"/><path d="M512.90 313.53 h2.00" stroke="#b4b4b4" stroke-width="1"/><path d="M679.40 313.53 h-2.00" stroke="#b4b4b4" stroke-width="1"/><path d="M512.90 304.93 h2.00" stroke="#b4b4b4" stroke-width="1"/><path d="M679.40 304.93 h-2.00" stroke="#b4b4b4" stroke-width="1"/><path d="M512.90 296.33 h2.00" stroke="#b4b4b4" stroke-width="1"/><path d="M679.40 296.33 h-2.00" stroke="#b4b4b4" stroke-width="1"/><path d="M512.90 287.73 h2.00" stroke="#b4b4b4" stroke-width="1"/><path d="M679.40 287.73 h-2.00" stroke="#b4b4b4" stroke-width="1"/><path d="M512.90 279.13 h2.00" stroke="#b4b4b4" stroke-width="1"/><path d="M679.40 279.13 h-2.00" stroke="#b4b4b4" stroke-width="1"/><path d="M512.90 270.53 h2.00" stroke="#b4b4b4" stroke-width="1"/><path d="M679.40 270.53 h-2.00" stroke="#b4b4b4" stroke-width="1"/><path d="M512.90 261.94 h2.00" stroke="#b4b4b4" stroke-width="1"/><path d="M679.40 261.94 h-2.00" stroke="#b4b4b4" stroke-width="1"/><path d="M512.90 253.34 h2.00" stroke="#b4b4b4" stroke-width="1"/><path d="M679.40 253.34 h-2.00" stroke="#b4b4b4" stroke-width="1"/><path d="M512.90 244.74 h2.00" stroke="#b4b4b4" stroke-width="1"/><path d="M679.40 244.74 h-2.00" stroke="#b4b4b4" stroke-width="1"/><path d="M512.90 236.14 h2.00" stroke="#b4b4b4" stroke-width="1"/><path d="M679.40 236.14 h-2.00" stroke="#b4b4b4" stroke-width="1"/><path d="M512.90 227.54 h2.00" stroke="#b4b4b4" stroke-width="1"/><path d="M679.40 227.54 h-2.00" stroke="#b4b4b4" stroke-width="1"/><path d="M512.90 218.94 h2.00" stroke="#b4b4b4" stroke-width="1"/><path d="M679.40 218.94 h-2.00" stroke="#b4b4b4" stroke-width="1"/><path d="M512.90 322.13 h3.50" stroke="#b4b4b4" stroke-width="1"/><path d="M679.40 322.13 h-3.50" stroke="#b4b4b4" stroke-width="1"/><path d="M512.90 296.33 h3.50" stroke="#b4b4b4" stroke-width="1"/><path d="M679.40 296.33 h-3.50" stroke="#b4b4b4" stroke-width="1"/><path d="M512.90 270.53 h3.50" stroke="#b4b4b4" stroke-width="1"/><path d="M679.40 270.53 h-3.50" stroke="#b4b4b4" stroke-width="1"/><path d="M512.90 244.74 h3.50" stroke="#b4b4b4" stroke-width="1"/><path d="M679.40 244.74 h-3.50" stroke="#b4b4b4" stroke-width="1"/><path d="M512.90 218.94 h3.50" stroke="#b4b4b4" stroke-width="1"/><path d="M679.40 218.94 h-3.50" stroke="#b4b4b4" stroke-width="1"/><rect x="682.30" y="210.60" width="166.70" height="116.00" fill="none" stroke="#b4b4b4" stroke-width="1.00"/><path d="M686.93 326.60 v-2.00" stroke="#b4b4b4" stroke-width="1"/><path d="M686.93 210.60 v2.00" stroke="#b4b4b4" stroke-width="1"/><path d="M700.82 326.60 v-2.00" stroke="#b4b4b4" stroke-width="1"/><path d="M700.82 210.60 v2.00" stroke="#b4b4b4" stroke-width="1"/><path d="M714.71 326.60 v-2.00" stroke="#b4b4b4" stroke-width="1"/><path d="M714.71 210.60 v2.00" stroke="#b4b4b4" stroke-width="1"/><path d="M728.61 326.60 v-2.00" stroke="#b4b4b4" stroke-width="1"/><path d="M728.61 210.60 v2.00" stroke="#b4b4b4" stroke-width="1"/><path d="M742.50 326.60 v-2.00" stroke="#b4b4b4" stroke-width="1"/><path d="M742.50 210.60 v2.00" stroke="#b4b4b4" stroke-width="1"/><path d="M756.39 326.60 v-2.00" stroke="#b4b4b4" stroke-width="1"/><path d="M756.39 210.60 v2.00" stroke="#b4b4b4" stroke-width="1"/><path d="M770.28 326.60 v-2.00" stroke="#b4b4b4" stroke-width="1"/><path d="M770.28 210.60 v2.00" stroke="#b4b4b4" stroke-width="1"/><path d="M784.17 326.60 v-2.00" stroke="#b4b4b4" stroke-width="1"/><path d="M784.17 210.60 v2.00" stroke="#b4b4b4" stroke-width="1"/><path d="M798.06 326.60 v-2.00" stroke="#b4b4b4" stroke-width="1"/><path d="M798.06 210.60 v2.00" stroke="#b4b4b4" stroke-width="1"/><path d="M811.96 326.60 v-2.00" stroke="#b4b4b4" stroke-width="1"/><path d="M811.96 210.60 v2.00" stroke="#b4b4b4" stroke-width="1"/><path d="M825.85 326.60 v-2.00" stroke="#b4b4b4" stroke-width="1"/><path d="M825.85 210.60 v2.00" stroke="#b4b4b4" stroke-width="1"/><path d="M839.74 326.60 v-2.00" stroke="#b4b4b4" stroke-width="1"/><path d="M839.74 210.60 v2.00" stroke="#b4b4b4" stroke-width="1"/><path d="M700.82 326.60 v-3.50" stroke="#b4b4b4" stroke-width="1"/><path d="M700.82 210.60 v3.50" stroke="#b4b4b4" stroke-width="1"/><path d="M728.61 326.60 v-3.50" stroke="#b4b4b4" stroke-width="1"/><path d="M728.61 210.60 v3.50" stroke="#b4b4b4" stroke-width="1"/><path d="M756.39 326.60 v-3.50" stroke="#b4b4b4" stroke-width="1"/><path d="M756.39 210.60 v3.50" stroke="#b4b4b4" stroke-width="1"/><path d="M784.17 326.60 v-3.50" stroke="#b4b4b4" stroke-width="1"/><path d="M784.17 210.60 v3.50" stroke="#b4b4b4" stroke-width="1"/><path d="M811.96 326.60 v-3.50" stroke="#b4b4b4" stroke-width="1"/><path d="M811.96 210.60 v3.50" stroke="#b4b4b4" stroke-width="1"/><path d="M839.74 326.60 v-3.50" stroke="#b4b4b4" stroke-width="1"/><path d="M839.74 210.60 v3.50" stroke="#b4b4b4" stroke-width="1"/><path d="M682.30 322.13 h2.00" stroke="#b4b4b4" stroke-width="1"/><path d="M849.00 322.13 h-2.00" stroke="#b4b4b4" stroke-width="1"/><path d="M682.30 313.53 h2.00" stroke="#b4b4b4" stroke-width="1"/><path d="M849.00 313.53 h-2.00" stroke="#b4b4b4" stroke-width="1"/><path d="M682.30 304.93 h2.00" stroke="#b4b4b4" stroke-width="1"/><path d="M849.00 304.93 h-2.00" stroke="#b4b4b4" stroke-width="1"/><path d="M682.30 296.33 h2.00" stroke="#b4b4b4" stroke-width="1"/><path d="M849.00 296.33 h-2.00" stroke="#b4b4b4" stroke-width="1"/><path d="M682.30 287.73 h2.00" stroke="#b4b4b4" stroke-width="1"/><path d="M849.00 287.73 h-2.00" stroke="#b4b4b4" stroke-width="1"/><path d="M682.30 279.13 h2.00" stroke="#b4b4b4" stroke-width="1"/><path d="M849.00 279.13 h-2.00" stroke="#b4b4b4" stroke-width="1"/><path d="M682.30 270.53 h2.00" stroke="#b4b4b4" stroke-width="1"/><path d="M849.00 270.53 h-2.00" stroke="#b4b4b4" stroke-width="1"/><path d="M682.30 261.94 h2.00" stroke="#b4b4b4" stroke-width="1"/><path d="M849.00 261.94 h-2.00" stroke="#b4b4b4" stroke-width="1"/><path d="M682.30 253.34 h2.00" stroke="#b4b4b4" stroke-width="1"/><path d="M849.00 253.34 h-2.00" stroke="#b4b4b4" stroke-width="1"/><path d="M682.30 244.74 h2.00" stroke="#b4b4b4" stroke-width="1"/><path d="M849.00 244.74 h-2.00" stroke="#b4b4b4" stroke-width="1"/><path d="M682.30 236.14 h2.00" stroke="#b4b4b4" stroke-width="1"/><path d="M849.00 236.14 h-2.00" stroke="#b4b4b4" stroke-width="1"/><path d="M682.30 227.54 h2.00" stroke="#b4b4b4" stroke-width="1"/><path d="M849.00 227.54 h-2.00" stroke="#b4b4b4" stroke-width="1"/><path d="M682.30 218.94 h2.00" stroke="#b4b4b4" stroke-width="1"/><path d="M849.00 218.94 h-2.00" stroke="#b4b4b4" stroke-width="1"/><path d="M682.30 322.13 h3.50" stroke="#b4b4b4" stroke-width="1"/><path d="M849.00 322.13 h-3.50" stroke="#b4b4b4" stroke-width="1"/><path d="M682.30 296.33 h3.50" stroke="#b4b4b4" stroke-width="1"/><path d="M849.00 296.33 h-3.50" stroke="#b4b4b4" stroke-width="1"/><path d="M682.30 270.53 h3.50" stroke="#b4b4b4" stroke-width="1"/><path d="M849.00 270.53 h-3.50" stroke="#b4b4b4" stroke-width="1"/><path d="M682.30 244.74 h3.50" stroke="#b4b4b4" stroke-width="1"/><path d="M849.00 244.74 h-3.50" stroke="#b4b4b4" stroke-width="1"/><path d="M682.30 218.94 h3.50" stroke="#b4b4b4" stroke-width="1"/><path d="M849.00 218.94 h-3.50" stroke="#b4b4b4" stroke-width="1"/><rect x="512.90" y="332.20" width="166.50" height="116.10" fill="none" stroke="#b4b4b4" stroke-width="1.00"/><path d="M517.52 448.30 v-2.00" stroke="#b4b4b4" stroke-width="1"/><path d="M517.52 332.20 v2.00" stroke="#b4b4b4" stroke-width="1"/><path d="M531.40 448.30 v-2.00" stroke="#b4b4b4" stroke-width="1"/><path d="M531.40 332.20 v2.00" stroke="#b4b4b4" stroke-width="1"/><path d="M545.27 448.30 v-2.00" stroke="#b4b4b4" stroke-width="1"/><path d="M545.27 332.20 v2.00" stroke="#b4b4b4" stroke-width="1"/><path d="M559.15 448.30 v-2.00" stroke="#b4b4b4" stroke-width="1"/><path d="M559.15 332.20 v2.00" stroke="#b4b4b4" stroke-width="1"/><path d="M573.02 448.30 v-2.00" stroke="#b4b4b4" stroke-width="1"/><path d="M573.02 332.20 v2.00" stroke="#b4b4b4" stroke-width="1"/><path d="M586.90 448.30 v-2.00" stroke="#b4b4b4" stroke-width="1"/><path d="M586.90 332.20 v2.00" stroke="#b4b4b4" stroke-width="1"/><path d="M600.77 448.30 v-2.00" stroke="#b4b4b4" stroke-width="1"/><path d="M600.77 332.20 v2.00" stroke="#b4b4b4" stroke-width="1"/><path d="M614.65 448.30 v-2.00" stroke="#b4b4b4" stroke-width="1"/><path d="M614.65 332.20 v2.00" stroke="#b4b4b4" stroke-width="1"/><path d="M628.52 448.30 v-2.00" stroke="#b4b4b4" stroke-width="1"/><path d="M628.52 332.20 v2.00" stroke="#b4b4b4" stroke-width="1"/><path d="M642.40 448.30 v-2.00" stroke="#b4b4b4" stroke-width="1"/><path d="M642.40 332.20 v2.00" stroke="#b4b4b4" stroke-width="1"/><path d="M656.27 448.30 v-2.00" stroke="#b4b4b4" stroke-width="1"/><path d="M656.27 332.20 v2.00" stroke="#b4b4b4" stroke-width="1"/><path d="M670.15 448.30 v-2.00" stroke="#b4b4b4" stroke-width="1"/><path d="M670.15 332.20 v2.00" stroke="#b4b4b4" stroke-width="1"/><path d="M531.40 448.30 v-3.50" stroke="#b4b4b4" stroke-width="1"/><path d="M531.40 332.20 v3.50" stroke="#b4b4b4" stroke-width="1"/><path d="M559.15 448.30 v-3.50" stroke="#b4b4b4" stroke-width="1"/><path d="M559.15 332.20 v3.50" stroke="#b4b4b4" stroke-width="1"/><path d="M586.90 448.30 v-3.50" stroke="#b4b4b4" stroke-width="1"/><path d="M586.90 332.20 v3.50" stroke="#b4b4b4" stroke-width="1"/><path d="M614.65 448.30 v-3.50" stroke="#b4b4b4" stroke-width="1"/><path d="M614.65 332.20 v3.50" stroke="#b4b4b4" stroke-width="1"/><path d="M642.40 448.30 v-3.50" stroke="#b4b4b4" stroke-width="1"/><path d="M642.40 332.20 v3.50" stroke="#b4b4b4" stroke-width="1"/><path d="M670.15 448.30 v-3.50" stroke="#b4b4b4" stroke-width="1"/><path d="M670.15 332.20 v3.50" stroke="#b4b4b4" stroke-width="1"/><path d="M512.90 443.82 h2.00" stroke="#b4b4b4" stroke-width="1"/><path d="M679.40 443.82 h-2.00" stroke="#b4b4b4" stroke-width="1"/><path d="M512.90 435.22 h2.00" stroke="#b4b4b4" stroke-width="1"/><path d="M679.40 435.22 h-2.00" stroke="#b4b4b4" stroke-width="1"/><path d="M512.90 426.61 h2.00" stroke="#b4b4b4" stroke-width="1"/><path d="M679.40 426.61 h-2.00" stroke="#b4b4b4" stroke-width="1"/><path d="M512.90 418.01 h2.00" stroke="#b4b4b4" stroke-width="1"/><path d="M679.40 418.01 h-2.00" stroke="#b4b4b4" stroke-width="1"/><path d="M512.90 409.40 h2.00" stroke="#b4b4b4" stroke-width="1"/><path d="M679.40 409.40 h-2.00" stroke="#b4b4b4" stroke-width="1"/><path d="M512.90 400.79 h2.00" stroke="#b4b4b4" stroke-width="1"/><path d="M679.40 400.79 h-2.00" stroke="#b4b4b4" stroke-width="1"/><path d="M512.90 392.19 h2.00" stroke="#b4b4b4" stroke-width="1"/><path d="M679.40 392.19 h-2.00" stroke="#b4b4b4" stroke-width="1"/><path d="M512.90 383.58 h2.00" stroke="#b4b4b4" stroke-width="1"/><path d="M679.40 383.58 h-2.00" stroke="#b4b4b4" stroke-width="1"/><path d="M512.90 374.97 h2.00" stroke="#b4b4b4" stroke-width="1"/><path d="M679.40 374.97 h-2.00" stroke="#b4b4b4" stroke-width="1"/><path d="M512.90 366.37 h2.00" stroke="#b4b4b4" stroke-width="1"/><path d="M679.40 366.37 h-2.00" stroke="#b4b4b4" stroke-width="1"/><path d="M512.90 357.76 h2.00" stroke="#b4b4b4" stroke-width="1"/><path d="M679.40 357.76 h-2.00" stroke="#b4b4b4" stroke-width="1"/><path d="M512.90 349.15 h2.00" stroke="#b4b4b4" stroke-width="1"/><path d="M679.40 349.15 h-2.00" stroke="#b4b4b4" stroke-width="1"/><path d="M512.90 340.55 h2.00" stroke="#b4b4b4" stroke-width="1"/><path d="M679.40 340.55 h-2.00" stroke="#b4b4b4" stroke-width="1"/><path d="M512.90 443.82 h3.50" stroke="#b4b4b4" stroke-width="1"/><path d="M679.40 443.82 h-3.50" stroke="#b4b4b4" stroke-width="1"/><path d="M512.90 418.01 h3.50" stroke="#b4b4b4" stroke-width="1"/><path d="M679.40 418.01 h-3.50" stroke="#b4b4b4" stroke-width="1"/><path d="M512.90 392.19 h3.50" stroke="#b4b4b4" stroke-width="1"/><path d="M679.40 392.19 h-3.50" stroke="#b4b4b4" stroke-width="1"/><path d="M512.90 366.37 h3.50" stroke="#b4b4b4" stroke-width="1"/><path d="M679.40 366.37 h-3.50" stroke="#b4b4b4" stroke-width="1"/><path d="M512.90 340.55 h3.50" stroke="#b4b4b4" stroke-width="1"/><path d="M679.40 340.55 h-3.50" stroke="#b4b4b4" stroke-width="1"/><rect x="682.30" y="332.20" width="166.70" height="116.10" fill="none" stroke="#b4b4b4" stroke-width="1.00"/><path d="M686.93 448.30 v-2.00" stroke="#b4b4b4" stroke-width="1"/><path d="M686.93 332.20 v2.00" stroke="#b4b4b4" stroke-width="1"/><path d="M700.82 448.30 v-2.00" stroke="#b4b4b4" stroke-width="1"/><path d="M700.82 332.20 v2.00" stroke="#b4b4b4" stroke-width="1"/><path d="M714.71 448.30 v-2.00" stroke="#b4b4b4" stroke-width="1"/><path d="M714.71 332.20 v2.00" stroke="#b4b4b4" stroke-width="1"/><path d="M728.61 448.30 v-2.00" stroke="#b4b4b4" stroke-width="1"/><path d="M728.61 332.20 v2.00" stroke="#b4b4b4" stroke-width="1"/><path d="M742.50 448.30 v-2.00" stroke="#b4b4b4" stroke-width="1"/><path d="M742.50 332.20 v2.00" stroke="#b4b4b4" stroke-width="1"/><path d="M756.39 448.30 v-2.00" stroke="#b4b4b4" stroke-width="1"/><path d="M756.39 332.20 v2.00" stroke="#b4b4b4" stroke-width="1"/><path d="M770.28 448.30 v-2.00" stroke="#b4b4b4" stroke-width="1"/><path d="M770.28 332.20 v2.00" stroke="#b4b4b4" stroke-width="1"/><path d="M784.17 448.30 v-2.00" stroke="#b4b4b4" stroke-width="1"/><path d="M784.17 332.20 v2.00" stroke="#b4b4b4" stroke-width="1"/><path d="M798.06 448.30 v-2.00" stroke="#b4b4b4" stroke-width="1"/><path d="M798.06 332.20 v2.00" stroke="#b4b4b4" stroke-width="1"/><path d="M811.96 448.30 v-2.00" stroke="#b4b4b4" stroke-width="1"/><path d="M811.96 332.20 v2.00" stroke="#b4b4b4" stroke-width="1"/><path d="M825.85 448.30 v-2.00" stroke="#b4b4b4" stroke-width="1"/><path d="M825.85 332.20 v2.00" stroke="#b4b4b4" stroke-width="1"/><path d="M839.74 448.30 v-2.00" stroke="#b4b4b4" stroke-width="1"/><path d="M839.74 332.20 v2.00" stroke="#b4b4b4" stroke-width="1"/><path d="M700.82 448.30 v-3.50" stroke="#b4b4b4" stroke-width="1"/><path d="M700.82 332.20 v3.50" stroke="#b4b4b4" stroke-width="1"/><path d="M728.61 448.30 v-3.50" stroke="#b4b4b4" stroke-width="1"/><path d="M728.61 332.20 v3.50" stroke="#b4b4b4" stroke-width="1"/><path d="M756.39 448.30 v-3.50" stroke="#b4b4b4" stroke-width="1"/><path d="M756.39 332.20 v3.50" stroke="#b4b4b4" stroke-width="1"/><path d="M784.17 448.30 v-3.50" stroke="#b4b4b4" stroke-width="1"/><path d="M784.17 332.20 v3.50" stroke="#b4b4b4" stroke-width="1"/><path d="M811.96 448.30 v-3.50" stroke="#b4b4b4" stroke-width="1"/><path d="M811.96 332.20 v3.50" stroke="#b4b4b4" stroke-width="1"/><path d="M839.74 448.30 v-3.50" stroke="#b4b4b4" stroke-width="1"/><path d="M839.74 332.20 v3.50" stroke="#b4b4b4" stroke-width="1"/><path d="M682.30 443.82 h2.00" stroke="#b4b4b4" stroke-width="1"/><path d="M849.00 443.82 h-2.00" stroke="#b4b4b4" stroke-width="1"/><path d="M682.30 435.22 h2.00" stroke="#b4b4b4" stroke-width="1"/><path d="M849.00 435.22 h-2.00" stroke="#b4b4b4" stroke-width="1"/><path d="M682.30 426.61 h2.00" stroke="#b4b4b4" stroke-width="1"/><path d="M849.00 426.61 h-2.00" stroke="#b4b4b4" stroke-width="1"/><path d="M682.30 418.01 h2.00" stroke="#b4b4b4" stroke-width="1"/><path d="M849.00 418.01 h-2.00" stroke="#b4b4b4" stroke-width="1"/><path d="M682.30 409.40 h2.00" stroke="#b4b4b4" stroke-width="1"/><path d="M849.00 409.40 h-2.00" stroke="#b4b4b4" stroke-width="1"/><path d="M682.30 400.79 h2.00" stroke="#b4b4b4" stroke-width="1"/><path d="M849.00 400.79 h-2.00" stroke="#b4b4b4" stroke-width="1"/><path d="M682.30 392.19 h2.00" stroke="#b4b4b4" stroke-width="1"/><path d="M849.00 392.19 h-2.00" stroke="#b4b4b4" stroke-width="1"/><path d="M682.30 383.58 h2.00" stroke="#b4b4b4" stroke-width="1"/><path d="M849.00 383.58 h-2.00" stroke="#b4b4b4" stroke-width="1"/><path d="M682.30 374.97 h2.00" stroke="#b4b4b4" stroke-width="1"/><path d="M849.00 374.97 h-2.00" stroke="#b4b4b4" stroke-width="1"/><path d="M682.30 366.37 h2.00" stroke="#b4b4b4" stroke-width="1"/><path d="M849.00 366.37 h-2.00" stroke="#b4b4b4" stroke-width="1"/><path d="M682.30 357.76 h2.00" stroke="#b4b4b4" stroke-width="1"/><path d="M849.00 357.76 h-2.00" stroke="#b4b4b4" stroke-width="1"/><path d="M682.30 349.15 h2.00" stroke="#b4b4b4" stroke-width="1"/><path d="M849.00 349.15 h-2.00" stroke="#b4b4b4" stroke-width="1"/><path d="M682.30 340.55 h2.00" stroke="#b4b4b4" stroke-width="1"/><path d="M849.00 340.55 h-2.00" stroke="#b4b4b4" stroke-width="1"/><path d="M682.30 443.82 h3.50" stroke="#b4b4b4" stroke-width="1"/><path d="M849.00 443.82 h-3.50" stroke="#b4b4b4" stroke-width="1"/><path d="M682.30 418.01 h3.50" stroke="#b4b4b4" stroke-width="1"/><path d="M849.00 418.01 h-3.50" stroke="#b4b4b4" stroke-width="1"/><path d="M682.30 392.19 h3.50" stroke="#b4b4b4" stroke-width="1"/><path d="M849.00 392.19 h-3.50" stroke="#b4b4b4" stroke-width="1"/><path d="M682.30 366.37 h3.50" stroke="#b4b4b4" stroke-width="1"/><path d="M849.00 366.37 h-3.50" stroke="#b4b4b4" stroke-width="1"/><path d="M682.30 340.55 h3.50" stroke="#b4b4b4" stroke-width="1"/><path d="M849.00 340.55 h-3.50" stroke="#b4b4b4" stroke-width="1"/><text x="510.30" y="205.22" font-size="11.50" fill="#222" text-anchor="end">0.0</text><text x="510.30" y="179.35" font-size="11.50" fill="#222" text-anchor="end">0.3</text><text x="510.30" y="153.49" font-size="11.50" fill="#222" text-anchor="end">0.6</text><text x="510.30" y="127.63" font-size="11.50" fill="#222" text-anchor="end">0.9</text><text x="510.30" y="101.76" font-size="11.50" fill="#222" text-anchor="end">1.2</text><text x="510.30" y="326.33" font-size="11.50" fill="#222" text-anchor="end">0.0</text><text x="510.30" y="300.53" font-size="11.50" fill="#222" text-anchor="end">0.3</text><text x="510.30" y="274.73" font-size="11.50" fill="#222" text-anchor="end">0.6</text><text x="510.30" y="248.94" font-size="11.50" fill="#222" text-anchor="end">0.9</text><text x="510.30" y="223.14" font-size="11.50" fill="#222" text-anchor="end">1.2</text><text x="510.30" y="448.02" font-size="11.50" fill="#222" text-anchor="end">0.0</text><text x="510.30" y="422.21" font-size="11.50" fill="#222" text-anchor="end">0.3</text><text x="510.30" y="396.39" font-size="11.50" fill="#222" text-anchor="end">0.6</text><text x="510.30" y="370.57" font-size="11.50" fill="#222" text-anchor="end">0.9</text><text x="510.30" y="344.75" font-size="11.50" fill="#222" text-anchor="end">1.2</text><text x="531.40" y="460.50" font-size="11.50" fill="#222" text-anchor="middle">-3</text><text x="559.15" y="460.50" font-size="11.50" fill="#222" text-anchor="middle">0</text><text x="586.90" y="460.50" font-size="11.50" fill="#222" text-anchor="middle">3</text><text x="614.65" y="460.50" font-size="11.50" fill="#222" text-anchor="middle">6</text><text x="642.40" y="460.50" font-size="11.50" fill="#222" text-anchor="middle">9</text><text x="670.15" y="460.50" font-size="11.50" fill="#222" text-anchor="middle">12</text><text x="700.82" y="460.50" font-size="11.50" fill="#222" text-anchor="middle">-3</text><text x="728.61" y="460.50" font-size="11.50" fill="#222" text-anchor="middle">0</text><text x="756.39" y="460.50" font-size="11.50" fill="#222" text-anchor="middle">3</text><text x="784.17" y="460.50" font-size="11.50" fill="#222" text-anchor="middle">6</text><text x="811.96" y="460.50" font-size="11.50" fill="#222" text-anchor="middle">9</text><text x="839.74" y="460.50" font-size="11.50" fill="#222" text-anchor="middle">12</text><text x="489.50" y="268.60" font-size="12.00" fill="#222" text-anchor="middle" transform="rotate(-90 489.50 268.60)">Energy (eV)</text><g><text xml:space="preserve" x="646.96" y="477.50" font-size="12.50" fill="#222">Q [amu</text><text xml:space="preserve" x="687.94" y="472.25" font-size="8.50" fill="#222">1/2</text><text xml:space="preserve" x="699.76" y="477.50" font-size="12.50" fill="#222"> Å]</text></g><g><rect x="530.10" y="99.26" width="52.17" height="12.39" fill="#fff"/><text xml:space="preserve" x="531.60" y="108.70" font-size="11.80" fill="#fff" stroke="#fff" stroke-width="3.5" stroke-linejoin="round">As</text><text xml:space="preserve" x="545.37" y="112.24" font-size="8.02" fill="#fff" stroke="#fff" stroke-width="3.5" stroke-linejoin="round">Ga</text><text xml:space="preserve" x="545.37" y="103.39" font-size="8.02" fill="#fff" stroke="#fff" stroke-width="3.5" stroke-linejoin="round">+</text><text xml:space="preserve" x="556.07" y="108.70" font-size="11.80" fill="#fff" stroke="#fff" stroke-width="3.5" stroke-linejoin="round"> + e</text><text xml:space="preserve" x="576.08" y="103.74" font-size="8.02" fill="#fff" stroke="#fff" stroke-width="3.5" stroke-linejoin="round">−</text><text xml:space="preserve" x="531.60" y="108.70" font-size="11.80" fill="#B02E6A">As</text><text xml:space="preserve" x="545.37" y="112.24" font-size="8.02" fill="#B02E6A">Ga</text><text xml:space="preserve" x="545.37" y="103.39" font-size="8.02" fill="#B02E6A">+</text><text xml:space="preserve" x="556.07" y="108.70" font-size="11.80" fill="#B02E6A"> + e</text><text xml:space="preserve" x="576.08" y="103.74" font-size="8.02" fill="#B02E6A">−</text></g><g><rect x="568.30" y="173.06" width="27.47" height="12.39" fill="#fff"/><text xml:space="preserve" x="569.80" y="182.50" font-size="11.80" fill="#fff" stroke="#fff" stroke-width="3.5" stroke-linejoin="round">As</text><text xml:space="preserve" x="583.57" y="186.04" font-size="8.02" fill="#fff" stroke="#fff" stroke-width="3.5" stroke-linejoin="round">Ga</text><text xml:space="preserve" x="583.57" y="177.19" font-size="8.02" fill="#fff" stroke="#fff" stroke-width="3.5" stroke-linejoin="round">0</text><text xml:space="preserve" x="569.80" y="182.50" font-size="11.80" fill="#3434A8">As</text><text xml:space="preserve" x="583.57" y="186.04" font-size="8.02" fill="#3434A8">Ga</text><text xml:space="preserve" x="583.57" y="177.19" font-size="8.02" fill="#3434A8">0</text></g><g><rect x="717.90" y="99.26" width="52.80" height="12.39" fill="#fff"/><text xml:space="preserve" x="719.40" y="108.70" font-size="11.80" fill="#fff" stroke="#fff" stroke-width="3.5" stroke-linejoin="round">Ga</text><text xml:space="preserve" x="735.14" y="112.24" font-size="8.02" fill="#fff" stroke="#fff" stroke-width="3.5" stroke-linejoin="round">As</text><text xml:space="preserve" x="735.14" y="103.39" font-size="8.02" fill="#fff" stroke="#fff" stroke-width="3.5" stroke-linejoin="round">0</text><text xml:space="preserve" x="744.50" y="108.70" font-size="11.80" fill="#fff" stroke="#fff" stroke-width="3.5" stroke-linejoin="round"> + e</text><text xml:space="preserve" x="764.52" y="103.74" font-size="8.02" fill="#fff" stroke="#fff" stroke-width="3.5" stroke-linejoin="round">−</text><text xml:space="preserve" x="719.40" y="108.70" font-size="11.80" fill="#B02E6A">Ga</text><text xml:space="preserve" x="735.14" y="112.24" font-size="8.02" fill="#B02E6A">As</text><text xml:space="preserve" x="735.14" y="103.39" font-size="8.02" fill="#B02E6A">0</text><text xml:space="preserve" x="744.50" y="108.70" font-size="11.80" fill="#B02E6A"> + e</text><text xml:space="preserve" x="764.52" y="103.74" font-size="8.02" fill="#B02E6A">−</text></g><g><rect x="755.70" y="172.36" width="28.10" height="12.39" fill="#fff"/><text xml:space="preserve" x="757.20" y="181.80" font-size="11.80" fill="#fff" stroke="#fff" stroke-width="3.5" stroke-linejoin="round">Ga</text><text xml:space="preserve" x="772.94" y="185.34" font-size="8.02" fill="#fff" stroke="#fff" stroke-width="3.5" stroke-linejoin="round">As</text><text xml:space="preserve" x="772.94" y="176.49" font-size="8.02" fill="#fff" stroke="#fff" stroke-width="3.5" stroke-linejoin="round">−</text><text xml:space="preserve" x="757.20" y="181.80" font-size="11.80" fill="#3434A8">Ga</text><text xml:space="preserve" x="772.94" y="185.34" font-size="8.02" fill="#3434A8">As</text><text xml:space="preserve" x="772.94" y="176.49" font-size="8.02" fill="#3434A8">−</text></g><g><rect x="525.20" y="219.76" width="46.27" height="12.39" fill="#fff"/><text xml:space="preserve" x="526.70" y="229.20" font-size="11.80" font-style="italic" fill="#fff" stroke="#fff" stroke-width="3.5" stroke-linejoin="round">V</text><text xml:space="preserve" x="534.57" y="232.74" font-size="8.02" fill="#fff" stroke="#fff" stroke-width="3.5" stroke-linejoin="round">Ga</text><text xml:space="preserve" x="534.57" y="223.89" font-size="8.02" fill="#fff" stroke="#fff" stroke-width="3.5" stroke-linejoin="round">0</text><text xml:space="preserve" x="545.27" y="229.20" font-size="11.80" fill="#fff" stroke="#fff" stroke-width="3.5" stroke-linejoin="round"> + e</text><text xml:space="preserve" x="565.28" y="224.24" font-size="8.02" fill="#fff" stroke="#fff" stroke-width="3.5" stroke-linejoin="round">−</text><text xml:space="preserve" x="526.70" y="229.20" font-size="11.80" font-style="italic" fill="#B02E6A">V</text><text xml:space="preserve" x="534.57" y="232.74" font-size="8.02" fill="#B02E6A">Ga</text><text xml:space="preserve" x="534.57" y="223.89" font-size="8.02" fill="#B02E6A">0</text><text xml:space="preserve" x="545.27" y="229.20" font-size="11.80" fill="#B02E6A"> + e</text><text xml:space="preserve" x="565.28" y="224.24" font-size="8.02" fill="#B02E6A">−</text></g><g><rect x="583.60" y="296.26" width="21.57" height="12.39" fill="#fff"/><text xml:space="preserve" x="585.10" y="305.70" font-size="11.80" font-style="italic" fill="#fff" stroke="#fff" stroke-width="3.5" stroke-linejoin="round">V</text><text xml:space="preserve" x="592.97" y="309.24" font-size="8.02" fill="#fff" stroke="#fff" stroke-width="3.5" stroke-linejoin="round">Ga</text><text xml:space="preserve" x="592.97" y="300.39" font-size="8.02" fill="#fff" stroke="#fff" stroke-width="3.5" stroke-linejoin="round">−</text><text xml:space="preserve" x="585.10" y="305.70" font-size="11.80" font-style="italic" fill="#3434A8">V</text><text xml:space="preserve" x="592.97" y="309.24" font-size="8.02" fill="#3434A8">Ga</text><text xml:space="preserve" x="592.97" y="300.39" font-size="8.02" fill="#3434A8">−</text></g><g><rect x="686.00" y="219.36" width="46.24" height="12.39" fill="#fff"/><text xml:space="preserve" x="687.50" y="228.80" font-size="11.80" fill="#fff" stroke="#fff" stroke-width="3.5" stroke-linejoin="round">O</text><text xml:space="preserve" x="696.68" y="232.34" font-size="8.02" fill="#fff" stroke="#fff" stroke-width="3.5" stroke-linejoin="round">As</text><text xml:space="preserve" x="696.68" y="223.49" font-size="8.02" fill="#fff" stroke="#fff" stroke-width="3.5" stroke-linejoin="round">+</text><text xml:space="preserve" x="706.04" y="228.80" font-size="11.80" fill="#fff" stroke="#fff" stroke-width="3.5" stroke-linejoin="round"> + e</text><text xml:space="preserve" x="726.05" y="223.84" font-size="8.02" fill="#fff" stroke="#fff" stroke-width="3.5" stroke-linejoin="round">−</text><text xml:space="preserve" x="687.50" y="228.80" font-size="11.80" fill="#B02E6A">O</text><text xml:space="preserve" x="696.68" y="232.34" font-size="8.02" fill="#B02E6A">As</text><text xml:space="preserve" x="696.68" y="223.49" font-size="8.02" fill="#B02E6A">+</text><text xml:space="preserve" x="706.04" y="228.80" font-size="11.80" fill="#B02E6A"> + e</text><text xml:space="preserve" x="726.05" y="223.84" font-size="8.02" fill="#B02E6A">−</text></g><g><rect x="685.70" y="295.16" width="21.54" height="12.39" fill="#fff"/><text xml:space="preserve" x="687.20" y="304.60" font-size="11.80" fill="#fff" stroke="#fff" stroke-width="3.5" stroke-linejoin="round">O</text><text xml:space="preserve" x="696.38" y="308.14" font-size="8.02" fill="#fff" stroke="#fff" stroke-width="3.5" stroke-linejoin="round">As</text><text xml:space="preserve" x="696.38" y="299.29" font-size="8.02" fill="#fff" stroke="#fff" stroke-width="3.5" stroke-linejoin="round">0</text><text xml:space="preserve" x="687.20" y="304.60" font-size="11.80" fill="#3434A8">O</text><text xml:space="preserve" x="696.38" y="308.14" font-size="8.02" fill="#3434A8">As</text><text xml:space="preserve" x="696.38" y="299.29" font-size="8.02" fill="#3434A8">0</text></g><g><rect x="521.80" y="342.96" width="87.19" height="12.39" fill="#fff"/><text xml:space="preserve" x="523.30" y="352.40" font-size="11.80" fill="#fff" stroke="#fff" stroke-width="3.5" stroke-linejoin="round">(O</text><text xml:space="preserve" x="536.41" y="355.70" font-size="8.02" fill="#fff" stroke="#fff" stroke-width="3.5" stroke-linejoin="round">As</text><text xml:space="preserve" x="545.77" y="352.40" font-size="11.80" fill="#fff" stroke="#fff" stroke-width="3.5" stroke-linejoin="round">-As</text><text xml:space="preserve" x="563.47" y="355.70" font-size="8.02" fill="#fff" stroke="#fff" stroke-width="3.5" stroke-linejoin="round">Ga</text><text xml:space="preserve" x="574.18" y="352.40" font-size="11.80" fill="#fff" stroke="#fff" stroke-width="3.5" stroke-linejoin="round">)</text><text xml:space="preserve" x="578.11" y="347.44" font-size="8.02" fill="#fff" stroke="#fff" stroke-width="3.5" stroke-linejoin="round">+</text><text xml:space="preserve" x="582.79" y="352.40" font-size="11.80" fill="#fff" stroke="#fff" stroke-width="3.5" stroke-linejoin="round"> + e</text><text xml:space="preserve" x="602.80" y="347.44" font-size="8.02" fill="#fff" stroke="#fff" stroke-width="3.5" stroke-linejoin="round">−</text><text xml:space="preserve" x="523.30" y="352.40" font-size="11.80" fill="#B02E6A">(O</text><text xml:space="preserve" x="536.41" y="355.70" font-size="8.02" fill="#B02E6A">As</text><text xml:space="preserve" x="545.77" y="352.40" font-size="11.80" fill="#B02E6A">-As</text><text xml:space="preserve" x="563.47" y="355.70" font-size="8.02" fill="#B02E6A">Ga</text><text xml:space="preserve" x="574.18" y="352.40" font-size="11.80" fill="#B02E6A">)</text><text xml:space="preserve" x="578.11" y="347.44" font-size="8.02" fill="#B02E6A">+</text><text xml:space="preserve" x="582.79" y="352.40" font-size="11.80" fill="#B02E6A"> + e</text><text xml:space="preserve" x="602.80" y="347.44" font-size="8.02" fill="#B02E6A">−</text></g><g><rect x="569.90" y="426.86" width="62.27" height="12.39" fill="#fff"/><text xml:space="preserve" x="571.40" y="436.30" font-size="11.80" fill="#fff" stroke="#fff" stroke-width="3.5" stroke-linejoin="round">(O</text><text xml:space="preserve" x="584.51" y="439.60" font-size="8.02" fill="#fff" stroke="#fff" stroke-width="3.5" stroke-linejoin="round">As</text><text xml:space="preserve" x="593.87" y="436.30" font-size="11.80" fill="#fff" stroke="#fff" stroke-width="3.5" stroke-linejoin="round">-As</text><text xml:space="preserve" x="611.57" y="439.60" font-size="8.02" fill="#fff" stroke="#fff" stroke-width="3.5" stroke-linejoin="round">Ga</text><text xml:space="preserve" x="622.28" y="436.30" font-size="11.80" fill="#fff" stroke="#fff" stroke-width="3.5" stroke-linejoin="round">)</text><text xml:space="preserve" x="626.21" y="431.34" font-size="8.02" fill="#fff" stroke="#fff" stroke-width="3.5" stroke-linejoin="round">0</text><text xml:space="preserve" x="571.40" y="436.30" font-size="11.80" fill="#3434A8">(O</text><text xml:space="preserve" x="584.51" y="439.60" font-size="8.02" fill="#3434A8">As</text><text xml:space="preserve" x="593.87" y="436.30" font-size="11.80" fill="#3434A8">-As</text><text xml:space="preserve" x="611.57" y="439.60" font-size="8.02" fill="#3434A8">Ga</text><text xml:space="preserve" x="622.28" y="436.30" font-size="11.80" fill="#3434A8">)</text><text xml:space="preserve" x="626.21" y="431.34" font-size="8.02" fill="#3434A8">0</text></g><g><rect x="699.90" y="342.96" width="93.75" height="12.39" fill="#fff"/><text xml:space="preserve" x="701.40" y="352.40" font-size="11.80" fill="#fff" stroke="#fff" stroke-width="3.5" stroke-linejoin="round">(O</text><text xml:space="preserve" x="714.51" y="355.70" font-size="8.02" fill="#fff" stroke="#fff" stroke-width="3.5" stroke-linejoin="round">As</text><text xml:space="preserve" x="723.87" y="352.40" font-size="11.80" fill="#fff" stroke="#fff" stroke-width="3.5" stroke-linejoin="round">-2As</text><text xml:space="preserve" x="748.13" y="355.70" font-size="8.02" fill="#fff" stroke="#fff" stroke-width="3.5" stroke-linejoin="round">Ga</text><text xml:space="preserve" x="758.84" y="352.40" font-size="11.80" fill="#fff" stroke="#fff" stroke-width="3.5" stroke-linejoin="round">)</text><text xml:space="preserve" x="762.77" y="347.44" font-size="8.02" fill="#fff" stroke="#fff" stroke-width="3.5" stroke-linejoin="round">+</text><text xml:space="preserve" x="767.45" y="352.40" font-size="11.80" fill="#fff" stroke="#fff" stroke-width="3.5" stroke-linejoin="round"> + e</text><text xml:space="preserve" x="787.46" y="347.44" font-size="8.02" fill="#fff" stroke="#fff" stroke-width="3.5" stroke-linejoin="round">−</text><text xml:space="preserve" x="701.40" y="352.40" font-size="11.80" fill="#B02E6A">(O</text><text xml:space="preserve" x="714.51" y="355.70" font-size="8.02" fill="#B02E6A">As</text><text xml:space="preserve" x="723.87" y="352.40" font-size="11.80" fill="#B02E6A">-2As</text><text xml:space="preserve" x="748.13" y="355.70" font-size="8.02" fill="#B02E6A">Ga</text><text xml:space="preserve" x="758.84" y="352.40" font-size="11.80" fill="#B02E6A">)</text><text xml:space="preserve" x="762.77" y="347.44" font-size="8.02" fill="#B02E6A">+</text><text xml:space="preserve" x="767.45" y="352.40" font-size="11.80" fill="#B02E6A"> + e</text><text xml:space="preserve" x="787.46" y="347.44" font-size="8.02" fill="#B02E6A">−</text></g><g><rect x="757.90" y="431.36" width="68.83" height="12.39" fill="#fff"/><text xml:space="preserve" x="759.40" y="440.80" font-size="11.80" fill="#fff" stroke="#fff" stroke-width="3.5" stroke-linejoin="round">(O</text><text xml:space="preserve" x="772.51" y="444.10" font-size="8.02" fill="#fff" stroke="#fff" stroke-width="3.5" stroke-linejoin="round">As</text><text xml:space="preserve" x="781.87" y="440.80" font-size="11.80" fill="#fff" stroke="#fff" stroke-width="3.5" stroke-linejoin="round">-2As</text><text xml:space="preserve" x="806.13" y="444.10" font-size="8.02" fill="#fff" stroke="#fff" stroke-width="3.5" stroke-linejoin="round">Ga</text><text xml:space="preserve" x="816.84" y="440.80" font-size="11.80" fill="#fff" stroke="#fff" stroke-width="3.5" stroke-linejoin="round">)</text><text xml:space="preserve" x="820.77" y="435.84" font-size="8.02" fill="#fff" stroke="#fff" stroke-width="3.5" stroke-linejoin="round">0</text><text xml:space="preserve" x="759.40" y="440.80" font-size="11.80" fill="#3434A8">(O</text><text xml:space="preserve" x="772.51" y="444.10" font-size="8.02" fill="#3434A8">As</text><text xml:space="preserve" x="781.87" y="440.80" font-size="11.80" fill="#3434A8">-2As</text><text xml:space="preserve" x="806.13" y="444.10" font-size="8.02" fill="#3434A8">Ga</text><text xml:space="preserve" x="816.84" y="440.80" font-size="11.80" fill="#3434A8">)</text><text xml:space="preserve" x="820.77" y="435.84" font-size="8.02" fill="#3434A8">0</text></g><g><text xml:space="preserve" x="524.20" y="436.80" font-size="11.00" fill="#1E8C1E">0.24 eV</text></g><g><rect x="711.20" y="424.20" width="40.92" height="11.55" fill="#fff"/><text xml:space="preserve" x="712.70" y="433.00" font-size="11.00" fill="#fff" stroke="#fff" stroke-width="3.5" stroke-linejoin="round">0.24 eV</text><text xml:space="preserve" x="712.70" y="433.00" font-size="11.00" fill="#1E8C1E">0.24 eV</text></g><g><text xml:space="preserve" x="740.80" y="236.00" font-size="11.50" fill="#2038D8">Δ</text><text xml:space="preserve" x="748.48" y="236.00" font-size="11.50" font-style="italic" fill="#2038D8">Q</text></g><g><rect x="708.20" y="274.00" width="23.28" height="12.08" fill="#fff"/><text xml:space="preserve" x="709.70" y="283.20" font-size="11.50" font-style="italic" fill="#fff" stroke="#fff" stroke-width="3.5" stroke-linejoin="round">E</text><text xml:space="preserve" x="717.37" y="286.42" font-size="7.82" fill="#fff" stroke="#fff" stroke-width="3.5" stroke-linejoin="round">abs</text><text xml:space="preserve" x="709.70" y="283.20" font-size="11.50" font-style="italic" fill="#9B30FF">E</text><text xml:space="preserve" x="717.37" y="286.42" font-size="7.82" fill="#9B30FF">abs</text></g><g><text xml:space="preserve" x="769.80" y="290.00" font-size="11.50" font-style="italic" fill="#fff" stroke="#fff" stroke-width="3.5" stroke-linejoin="round">E</text><text xml:space="preserve" x="777.47" y="293.22" font-size="7.82" fill="#fff" stroke="#fff" stroke-width="3.5" stroke-linejoin="round">em</text><text xml:space="preserve" x="769.80" y="290.00" font-size="11.50" font-style="italic" fill="#F5922E">E</text><text xml:space="preserve" x="777.47" y="293.22" font-size="7.82" fill="#F5922E">em</text></g><g><text xml:space="preserve" x="769.80" y="317.00" font-size="11.50" font-style="italic" fill="#fff" stroke="#fff" stroke-width="3.5" stroke-linejoin="round">E</text><text xml:space="preserve" x="777.47" y="320.22" font-size="7.82" fill="#fff" stroke="#fff" stroke-width="3.5" stroke-linejoin="round">FC</text><text xml:space="preserve" x="769.80" y="317.00" font-size="11.50" font-style="italic" fill="#7F7F1F">E</text><text xml:space="preserve" x="777.47" y="320.22" font-size="7.82" fill="#7F7F1F">FC</text></g><g><rect x="796.00" y="293.80" width="18.35" height="12.08" fill="#fff"/><text xml:space="preserve" x="797.50" y="303.00" font-size="11.50" fill="#fff" stroke="#fff" stroke-width="3.5" stroke-linejoin="round">Δ</text><text xml:space="preserve" x="805.18" y="303.00" font-size="11.50" font-style="italic" fill="#fff" stroke="#fff" stroke-width="3.5" stroke-linejoin="round">E</text><text xml:space="preserve" x="797.50" y="303.00" font-size="11.50" fill="#1E8C1E">Δ</text><text xml:space="preserve" x="805.18" y="303.00" font-size="11.50" font-style="italic" fill="#1E8C1E">E</text></g><g><rect x="815.80" y="259.40" width="22.70" height="12.08" fill="#fff"/><text xml:space="preserve" x="817.30" y="268.60" font-size="11.50" fill="#fff" stroke="#fff" stroke-width="3.5" stroke-linejoin="round">Δ</text><text xml:space="preserve" x="824.98" y="268.60" font-size="11.50" font-style="italic" fill="#fff" stroke="#fff" stroke-width="3.5" stroke-linejoin="round">E</text><text xml:space="preserve" x="832.65" y="271.82" font-size="7.82" fill="#fff" stroke="#fff" stroke-width="3.5" stroke-linejoin="round">b</text><text xml:space="preserve" x="817.30" y="268.60" font-size="11.50" fill="#E03030">Δ</text><text xml:space="preserve" x="824.98" y="268.60" font-size="11.50" font-style="italic" fill="#E03030">E</text><text xml:space="preserve" x="832.65" y="271.82" font-size="7.82" fill="#E03030">b</text></g><g transform="rotate(-80 561.00 165.00)"><text xml:space="preserve" x="542.04" y="165.00" font-size="11.00" font-style="italic" fill="#1E8C1E">0.72 eV</text></g><g transform="rotate(-61.3 748.00 156.00)"><text xml:space="preserve" x="729.04" y="156.00" font-size="11.00" font-style="italic" fill="#1E8C1E">0.94 eV</text></g><g transform="rotate(-72.2 571.50 270.50)"><text xml:space="preserve" x="552.54" y="270.50" font-size="11.00" font-style="italic" fill="#1E8C1E">1.10 eV</text></g><g transform="rotate(-50 745.00 294.50)"><text xml:space="preserve" x="726.04" y="294.50" font-size="11.00" font-style="italic" fill="#1E8C1E">0.53 eV</text></g><text x="658.70" y="193.50" font-size="12.50" fill="#222" text-anchor="start">(a)</text><text x="827.40" y="193.50" font-size="12.50" fill="#222" text-anchor="start">(b)</text><text x="658.20" y="314.70" font-size="12.50" fill="#222" text-anchor="start">(c)</text><text x="830.70" y="314.70" font-size="12.50" fill="#222" text-anchor="start">(d)</text><text x="658.70" y="436.80" font-size="12.50" fill="#222" text-anchor="start">(e)</text><text x="831.20" y="436.80" font-size="12.50" fill="#222" text-anchor="start">(f)</text><defs><clipPath id="f5a"><rect x="521.90" y="648.00" width="135.70" height="194.80"/></clipPath><clipPath id="f5b"><rect x="665.40" y="648.00" width="136.30" height="194.80"/></clipPath></defs><path d="M524.99 657.32 C525.38 657.77 526.28 659.15 527.31 660.02 C528.34 660.88 529.50 661.73 531.17 662.51 C532.85 663.29 533.75 663.82 537.36 664.70 C540.96 665.58 545.08 666.75 552.81 667.79 C560.54 668.84 573.42 669.92 583.72 670.99 C594.03 672.05 604.33 673.20 614.63 674.18 C624.94 675.16 640.39 676.42 645.54 676.87" fill="none" stroke="#1E1EDC" stroke-width="1.70" clip-path="url(#f5a)"/><path d="M524.99 742.08 C525.30 742.38 526.07 743.93 526.85 743.88 C527.62 743.83 527.88 744.13 529.63 741.79 C531.38 739.44 534.78 733.39 537.36 729.82 C539.93 726.25 542.51 723.34 545.08 720.35 C547.66 717.35 548.95 714.98 552.81 711.87 C556.68 708.76 563.11 704.27 568.27 701.70 C573.42 699.12 575.99 698.09 583.72 696.41 C591.45 694.73 604.33 692.87 614.63 691.63 C624.94 690.38 640.39 689.38 645.54 688.93" fill="none" stroke="#C8201E" stroke-width="1.70" clip-path="url(#f5a)"/><path d="M553.58 854.97 C553.97 852.94 554.74 846.71 555.90 842.80 C557.06 838.89 558.48 835.82 560.54 831.53 C562.60 827.24 564.40 823.35 568.27 817.07 C572.13 810.79 578.57 799.75 583.72 793.84 C588.87 787.92 592.74 785.84 599.18 781.57 C605.62 777.30 614.63 771.87 622.36 768.21 C630.09 764.55 641.68 761.06 645.54 759.63" fill="none" stroke="#1E9628" stroke-width="1.30" clip-path="url(#f5a)"/><path d="M556.21 854.97 C556.55 852.94 557.24 846.12 558.22 842.80 C559.20 839.48 560.41 837.56 562.08 835.02 C563.76 832.48 564.66 830.87 568.27 827.54 C571.87 824.22 578.57 818.24 583.72 815.08 C588.87 811.92 594.03 810.33 599.18 808.60 C604.33 806.87 606.91 806.19 614.63 804.71 C622.36 803.23 640.39 800.55 645.54 799.72" fill="none" stroke="#F5962D" stroke-width="1.30" clip-path="url(#f5a)"/><path d="M603.81 854.97 C604.84 852.94 606.91 845.87 610.00 842.80 C613.09 839.73 616.44 839.24 622.36 836.52 C628.29 833.79 641.68 828.12 645.54 826.45" fill="none" stroke="#1E1EA0" stroke-width="1.30" clip-path="url(#f5a)"/><path d="M678.48 676.87 C679.78 676.22 683.27 674.13 686.32 672.98 C689.37 671.83 692.42 670.87 696.78 669.99 C701.14 669.11 707.24 668.34 712.47 667.69 C717.70 667.05 720.32 666.63 728.16 666.10 C736.01 665.57 747.29 664.99 759.54 664.50 C771.80 664.02 794.67 663.42 801.70 663.21" fill="none" stroke="#1E1EDC" stroke-width="1.70" clip-path="url(#f5b)"/><path d="M678.48 688.93 C679.78 689.93 683.27 692.59 686.32 694.92 C689.37 697.24 692.42 700.02 696.78 702.90 C701.14 705.77 707.24 709.38 712.47 712.17 C717.70 714.96 722.93 717.37 728.16 719.65 C733.39 721.92 738.62 723.95 743.85 725.83 C749.08 727.71 753.44 729.37 759.54 730.92 C765.65 732.46 773.44 733.99 780.47 735.10 C787.49 736.22 798.16 737.18 801.70 737.60" fill="none" stroke="#C8201E" stroke-width="1.70" clip-path="url(#f5b)"/><path d="M678.48 759.63 C679.78 762.39 683.27 769.27 686.32 776.19 C689.37 783.10 693.29 792.48 696.78 801.12 C700.27 809.76 704.54 821.09 707.24 828.04 C709.94 834.99 711.25 838.31 713.00 842.80 C714.74 847.29 716.92 852.94 717.70 854.97" fill="none" stroke="#1E9628" stroke-width="1.30" clip-path="url(#f5b)"/><path d="M678.48 799.72 C679.78 801.20 683.27 804.71 686.32 808.60 C689.37 812.49 692.95 817.36 696.78 823.06 C700.62 828.76 706.02 837.48 709.33 842.80 C712.65 848.12 715.44 852.94 716.66 854.97" fill="none" stroke="#F5962D" stroke-width="1.30" clip-path="url(#f5b)"/><path d="M678.48 826.45 C679.35 829.17 682.22 838.05 683.71 842.80 C685.19 847.55 686.76 852.94 687.37 854.97" fill="none" stroke="#1E1EA0" stroke-width="1.30" clip-path="url(#f5b)"/><rect x="521.90" y="648.00" width="135.70" height="194.80" fill="none" stroke="#808080" stroke-width="1.10"/><path d="M521.90 838.51 h2.50" stroke="#808080" stroke-width="1"/><path d="M657.60 838.51 h-2.50" stroke="#808080" stroke-width="1"/><path d="M521.90 824.60 h2.50" stroke="#808080" stroke-width="1"/><path d="M657.60 824.60 h-2.50" stroke="#808080" stroke-width="1"/><path d="M521.90 810.69 h2.50" stroke="#808080" stroke-width="1"/><path d="M657.60 810.69 h-2.50" stroke="#808080" stroke-width="1"/><path d="M521.90 796.78 h2.50" stroke="#808080" stroke-width="1"/><path d="M657.60 796.78 h-2.50" stroke="#808080" stroke-width="1"/><path d="M521.90 782.87 h2.50" stroke="#808080" stroke-width="1"/><path d="M657.60 782.87 h-2.50" stroke="#808080" stroke-width="1"/><path d="M521.90 768.96 h2.50" stroke="#808080" stroke-width="1"/><path d="M657.60 768.96 h-2.50" stroke="#808080" stroke-width="1"/><path d="M521.90 755.05 h2.50" stroke="#808080" stroke-width="1"/><path d="M657.60 755.05 h-2.50" stroke="#808080" stroke-width="1"/><path d="M521.90 741.14 h2.50" stroke="#808080" stroke-width="1"/><path d="M657.60 741.14 h-2.50" stroke="#808080" stroke-width="1"/><path d="M521.90 727.23 h2.50" stroke="#808080" stroke-width="1"/><path d="M657.60 727.23 h-2.50" stroke="#808080" stroke-width="1"/><path d="M521.90 713.32 h2.50" stroke="#808080" stroke-width="1"/><path d="M657.60 713.32 h-2.50" stroke="#808080" stroke-width="1"/><path d="M521.90 699.40 h2.50" stroke="#808080" stroke-width="1"/><path d="M657.60 699.40 h-2.50" stroke="#808080" stroke-width="1"/><path d="M521.90 685.49 h2.50" stroke="#808080" stroke-width="1"/><path d="M657.60 685.49 h-2.50" stroke="#808080" stroke-width="1"/><path d="M521.90 671.58 h2.50" stroke="#808080" stroke-width="1"/><path d="M657.60 671.58 h-2.50" stroke="#808080" stroke-width="1"/><path d="M521.90 657.67 h2.50" stroke="#808080" stroke-width="1"/><path d="M657.60 657.67 h-2.50" stroke="#808080" stroke-width="1"/><path d="M521.90 810.69 h4.50" stroke="#808080" stroke-width="1"/><path d="M657.60 810.69 h-4.50" stroke="#808080" stroke-width="1"/><path d="M521.90 768.96 h4.50" stroke="#808080" stroke-width="1"/><path d="M657.60 768.96 h-4.50" stroke="#808080" stroke-width="1"/><path d="M521.90 727.23 h4.50" stroke="#808080" stroke-width="1"/><path d="M657.60 727.23 h-4.50" stroke="#808080" stroke-width="1"/><path d="M521.90 685.49 h4.50" stroke="#808080" stroke-width="1"/><path d="M657.60 685.49 h-4.50" stroke="#808080" stroke-width="1"/><rect x="665.40" y="648.00" width="136.30" height="194.80" fill="none" stroke="#808080" stroke-width="1.10"/><path d="M665.40 838.51 h2.50" stroke="#808080" stroke-width="1"/><path d="M801.70 838.51 h-2.50" stroke="#808080" stroke-width="1"/><path d="M665.40 824.60 h2.50" stroke="#808080" stroke-width="1"/><path d="M801.70 824.60 h-2.50" stroke="#808080" stroke-width="1"/><path d="M665.40 810.69 h2.50" stroke="#808080" stroke-width="1"/><path d="M801.70 810.69 h-2.50" stroke="#808080" stroke-width="1"/><path d="M665.40 796.78 h2.50" stroke="#808080" stroke-width="1"/><path d="M801.70 796.78 h-2.50" stroke="#808080" stroke-width="1"/><path d="M665.40 782.87 h2.50" stroke="#808080" stroke-width="1"/><path d="M801.70 782.87 h-2.50" stroke="#808080" stroke-width="1"/><path d="M665.40 768.96 h2.50" stroke="#808080" stroke-width="1"/><path d="M801.70 768.96 h-2.50" stroke="#808080" stroke-width="1"/><path d="M665.40 755.05 h2.50" stroke="#808080" stroke-width="1"/><path d="M801.70 755.05 h-2.50" stroke="#808080" stroke-width="1"/><path d="M665.40 741.14 h2.50" stroke="#808080" stroke-width="1"/><path d="M801.70 741.14 h-2.50" stroke="#808080" stroke-width="1"/><path d="M665.40 727.23 h2.50" stroke="#808080" stroke-width="1"/><path d="M801.70 727.23 h-2.50" stroke="#808080" stroke-width="1"/><path d="M665.40 713.32 h2.50" stroke="#808080" stroke-width="1"/><path d="M801.70 713.32 h-2.50" stroke="#808080" stroke-width="1"/><path d="M665.40 699.40 h2.50" stroke="#808080" stroke-width="1"/><path d="M801.70 699.40 h-2.50" stroke="#808080" stroke-width="1"/><path d="M665.40 685.49 h2.50" stroke="#808080" stroke-width="1"/><path d="M801.70 685.49 h-2.50" stroke="#808080" stroke-width="1"/><path d="M665.40 671.58 h2.50" stroke="#808080" stroke-width="1"/><path d="M801.70 671.58 h-2.50" stroke="#808080" stroke-width="1"/><path d="M665.40 657.67 h2.50" stroke="#808080" stroke-width="1"/><path d="M801.70 657.67 h-2.50" stroke="#808080" stroke-width="1"/><path d="M665.40 810.69 h4.50" stroke="#808080" stroke-width="1"/><path d="M801.70 810.69 h-4.50" stroke="#808080" stroke-width="1"/><path d="M665.40 768.96 h4.50" stroke="#808080" stroke-width="1"/><path d="M801.70 768.96 h-4.50" stroke="#808080" stroke-width="1"/><path d="M665.40 727.23 h4.50" stroke="#808080" stroke-width="1"/><path d="M801.70 727.23 h-4.50" stroke="#808080" stroke-width="1"/><path d="M665.40 685.49 h4.50" stroke="#808080" stroke-width="1"/><path d="M801.70 685.49 h-4.50" stroke="#808080" stroke-width="1"/><path d="M521.90 842.80 v-2.50" stroke="#808080" stroke-width="1"/><path d="M521.90 648.00 v2.50" stroke="#808080" stroke-width="1"/><path d="M537.36 842.80 v-2.50" stroke="#808080" stroke-width="1"/><path d="M537.36 648.00 v2.50" stroke="#808080" stroke-width="1"/><path d="M552.81 842.80 v-2.50" stroke="#808080" stroke-width="1"/><path d="M552.81 648.00 v2.50" stroke="#808080" stroke-width="1"/><path d="M568.27 842.80 v-2.50" stroke="#808080" stroke-width="1"/><path d="M568.27 648.00 v2.50" stroke="#808080" stroke-width="1"/><path d="M583.72 842.80 v-2.50" stroke="#808080" stroke-width="1"/><path d="M583.72 648.00 v2.50" stroke="#808080" stroke-width="1"/><path d="M599.18 842.80 v-2.50" stroke="#808080" stroke-width="1"/><path d="M599.18 648.00 v2.50" stroke="#808080" stroke-width="1"/><path d="M614.63 842.80 v-2.50" stroke="#808080" stroke-width="1"/><path d="M614.63 648.00 v2.50" stroke="#808080" stroke-width="1"/><path d="M630.09 842.80 v-2.50" stroke="#808080" stroke-width="1"/><path d="M630.09 648.00 v2.50" stroke="#808080" stroke-width="1"/><path d="M645.54 842.80 v-2.50" stroke="#808080" stroke-width="1"/><path d="M645.54 648.00 v2.50" stroke="#808080" stroke-width="1"/><path d="M521.90 842.80 v-4.50" stroke="#808080" stroke-width="1"/><path d="M521.90 648.00 v4.50" stroke="#808080" stroke-width="1"/><path d="M552.81 842.80 v-4.50" stroke="#808080" stroke-width="1"/><path d="M552.81 648.00 v4.50" stroke="#808080" stroke-width="1"/><path d="M583.72 842.80 v-4.50" stroke="#808080" stroke-width="1"/><path d="M583.72 648.00 v4.50" stroke="#808080" stroke-width="1"/><path d="M614.63 842.80 v-4.50" stroke="#808080" stroke-width="1"/><path d="M614.63 648.00 v4.50" stroke="#808080" stroke-width="1"/><path d="M645.54 842.80 v-4.50" stroke="#808080" stroke-width="1"/><path d="M645.54 648.00 v4.50" stroke="#808080" stroke-width="1"/><path d="M665.40 842.80 v-2.50" stroke="#808080" stroke-width="1"/><path d="M665.40 648.00 v2.50" stroke="#808080" stroke-width="1"/><path d="M675.86 842.80 v-2.50" stroke="#808080" stroke-width="1"/><path d="M675.86 648.00 v2.50" stroke="#808080" stroke-width="1"/><path d="M686.32 842.80 v-2.50" stroke="#808080" stroke-width="1"/><path d="M686.32 648.00 v2.50" stroke="#808080" stroke-width="1"/><path d="M696.78 842.80 v-2.50" stroke="#808080" stroke-width="1"/><path d="M696.78 648.00 v2.50" stroke="#808080" stroke-width="1"/><path d="M707.24 842.80 v-2.50" stroke="#808080" stroke-width="1"/><path d="M707.24 648.00 v2.50" stroke="#808080" stroke-width="1"/><path d="M717.70 842.80 v-2.50" stroke="#808080" stroke-width="1"/><path d="M717.70 648.00 v2.50" stroke="#808080" stroke-width="1"/><path d="M728.16 842.80 v-2.50" stroke="#808080" stroke-width="1"/><path d="M728.16 648.00 v2.50" stroke="#808080" stroke-width="1"/><path d="M738.62 842.80 v-2.50" stroke="#808080" stroke-width="1"/><path d="M738.62 648.00 v2.50" stroke="#808080" stroke-width="1"/><path d="M749.08 842.80 v-2.50" stroke="#808080" stroke-width="1"/><path d="M749.08 648.00 v2.50" stroke="#808080" stroke-width="1"/><path d="M759.54 842.80 v-2.50" stroke="#808080" stroke-width="1"/><path d="M759.54 648.00 v2.50" stroke="#808080" stroke-width="1"/><path d="M770.00 842.80 v-2.50" stroke="#808080" stroke-width="1"/><path d="M770.00 648.00 v2.50" stroke="#808080" stroke-width="1"/><path d="M780.47 842.80 v-2.50" stroke="#808080" stroke-width="1"/><path d="M780.47 648.00 v2.50" stroke="#808080" stroke-width="1"/><path d="M790.93 842.80 v-2.50" stroke="#808080" stroke-width="1"/><path d="M790.93 648.00 v2.50" stroke="#808080" stroke-width="1"/><path d="M801.39 842.80 v-2.50" stroke="#808080" stroke-width="1"/><path d="M801.39 648.00 v2.50" stroke="#808080" stroke-width="1"/><path d="M665.40 842.80 v-4.50" stroke="#808080" stroke-width="1"/><path d="M665.40 648.00 v4.50" stroke="#808080" stroke-width="1"/><path d="M696.78 842.80 v-4.50" stroke="#808080" stroke-width="1"/><path d="M696.78 648.00 v4.50" stroke="#808080" stroke-width="1"/><path d="M728.16 842.80 v-4.50" stroke="#808080" stroke-width="1"/><path d="M728.16 648.00 v4.50" stroke="#808080" stroke-width="1"/><path d="M759.54 842.80 v-4.50" stroke="#808080" stroke-width="1"/><path d="M759.54 648.00 v4.50" stroke="#808080" stroke-width="1"/><path d="M790.93 842.80 v-4.50" stroke="#808080" stroke-width="1"/><path d="M790.93 648.00 v4.50" stroke="#808080" stroke-width="1"/><g><text xml:space="preserve" x="500.41" y="689.79" font-size="12.00" fill="#111">10</text><text xml:space="preserve" x="513.76" y="684.75" font-size="8.16" fill="#111">3</text></g><g><text xml:space="preserve" x="806.50" y="689.79" font-size="12.00" fill="#111">10</text><text xml:space="preserve" x="819.85" y="684.75" font-size="8.16" fill="#111">-13</text></g><g><text xml:space="preserve" x="500.41" y="731.53" font-size="12.00" fill="#111">10</text><text xml:space="preserve" x="513.76" y="726.49" font-size="8.16" fill="#111">0</text></g><g><text xml:space="preserve" x="806.50" y="731.53" font-size="12.00" fill="#111">10</text><text xml:space="preserve" x="819.85" y="726.49" font-size="8.16" fill="#111">-16</text></g><g><text xml:space="preserve" x="497.70" y="773.26" font-size="12.00" fill="#111">10</text><text xml:space="preserve" x="511.04" y="768.22" font-size="8.16" fill="#111">-3</text></g><g><text xml:space="preserve" x="806.50" y="773.26" font-size="12.00" fill="#111">10</text><text xml:space="preserve" x="819.85" y="768.22" font-size="8.16" fill="#111">-19</text></g><g><text xml:space="preserve" x="497.70" y="814.99" font-size="12.00" fill="#111">10</text><text xml:space="preserve" x="511.04" y="809.95" font-size="8.16" fill="#111">-6</text></g><g><text xml:space="preserve" x="806.50" y="814.99" font-size="12.00" fill="#111">10</text><text xml:space="preserve" x="819.85" y="809.95" font-size="8.16" fill="#111">-22</text></g><text x="521.90" y="856.60" font-size="12.00" fill="#111" text-anchor="middle">0</text><text x="552.81" y="856.60" font-size="12.00" fill="#111" text-anchor="middle">200</text><text x="583.72" y="856.60" font-size="12.00" fill="#111" text-anchor="middle">400</text><text x="614.63" y="856.60" font-size="12.00" fill="#111" text-anchor="middle">600</text><text x="645.54" y="856.60" font-size="12.00" fill="#111" text-anchor="middle">800</text><text x="665.40" y="856.60" font-size="12.00" fill="#111" text-anchor="middle">0</text><text x="696.78" y="856.60" font-size="12.00" fill="#111" text-anchor="middle">3</text><text x="728.16" y="856.60" font-size="12.00" fill="#111" text-anchor="middle">6</text><text x="759.54" y="856.60" font-size="12.00" fill="#111" text-anchor="middle">9</text><text x="790.93" y="856.60" font-size="12.00" fill="#111" text-anchor="middle">12</text><g><text xml:space="preserve" x="576.51" y="874.80" font-size="12.50" font-style="italic" fill="#111">T</text><text xml:space="preserve" x="584.15" y="874.80" font-size="12.50" fill="#111"> (K)</text></g><g><text xml:space="preserve" x="699.74" y="874.80" font-size="12.50" fill="#111">1000/T (K</text><text xml:space="preserve" x="754.40" y="869.55" font-size="8.50" fill="#111">−1</text><text xml:space="preserve" x="764.10" y="874.80" font-size="12.50" fill="#111">)</text></g><g transform="rotate(-90 494.50 738.50)"><text xml:space="preserve" x="480.64" y="738.50" font-size="12.50" fill="#111">σ[Å</text><text xml:space="preserve" x="500.16" y="733.25" font-size="8.50" fill="#111">2</text><text xml:space="preserve" x="504.89" y="738.50" font-size="12.50" fill="#111">]</text></g><g transform="rotate(-90 848.50 738.50)"><text xml:space="preserve" x="830.47" y="738.50" font-size="12.50" fill="#111">σ[cm</text><text xml:space="preserve" x="858.33" y="733.25" font-size="8.50" fill="#111">2</text><text xml:space="preserve" x="863.05" y="738.50" font-size="12.50" fill="#111">]</text></g><g><rect x="567.70" y="656.50" width="80.06" height="13.12" fill="#fff"/><text xml:space="preserve" x="569.20" y="666.50" font-size="12.50" fill="#fff" stroke="#fff" stroke-width="3.5" stroke-linejoin="round">(O</text><text xml:space="preserve" x="583.09" y="670.00" font-size="8.50" fill="#fff" stroke="#fff" stroke-width="3.5" stroke-linejoin="round">As</text><text xml:space="preserve" x="593.00" y="666.50" font-size="12.50" fill="#fff" stroke="#fff" stroke-width="3.5" stroke-linejoin="round">-2As</text><text xml:space="preserve" x="618.71" y="670.00" font-size="8.50" fill="#fff" stroke="#fff" stroke-width="3.5" stroke-linejoin="round">Ga</text><text xml:space="preserve" x="630.05" y="666.50" font-size="12.50" fill="#fff" stroke="#fff" stroke-width="3.5" stroke-linejoin="round">)</text><text xml:space="preserve" x="634.21" y="661.25" font-size="8.50" fill="#fff" stroke="#fff" stroke-width="3.5" stroke-linejoin="round">+/0</text><text xml:space="preserve" x="569.20" y="666.50" font-size="12.50" fill="#1E1EDC">(O</text><text xml:space="preserve" x="583.09" y="670.00" font-size="8.50" fill="#1E1EDC">As</text><text xml:space="preserve" x="593.00" y="666.50" font-size="12.50" fill="#1E1EDC">-2As</text><text xml:space="preserve" x="618.71" y="670.00" font-size="8.50" fill="#1E1EDC">Ga</text><text xml:space="preserve" x="630.05" y="666.50" font-size="12.50" fill="#1E1EDC">)</text><text xml:space="preserve" x="634.21" y="661.25" font-size="8.50" fill="#1E1EDC">+/0</text></g><g><rect x="564.50" y="693.60" width="24.78" height="13.12" fill="#fff"/><text xml:space="preserve" x="566.00" y="703.60" font-size="12.50" fill="#fff" stroke="#fff" stroke-width="3.5" stroke-linejoin="round">O</text><text xml:space="preserve" x="575.72" y="707.35" font-size="8.50" fill="#fff" stroke="#fff" stroke-width="3.5" stroke-linejoin="round">As</text><text xml:space="preserve" x="575.72" y="697.98" font-size="8.50" fill="#fff" stroke="#fff" stroke-width="3.5" stroke-linejoin="round">+/0</text><text xml:space="preserve" x="566.00" y="703.60" font-size="12.50" fill="#C8201E">O</text><text xml:space="preserve" x="575.72" y="707.35" font-size="8.50" fill="#C8201E">As</text><text xml:space="preserve" x="575.72" y="697.98" font-size="8.50" fill="#C8201E">+/0</text></g><g><rect x="596.90" y="766.00" width="31.73" height="13.12" fill="#fff"/><text xml:space="preserve" x="598.40" y="776.00" font-size="12.50" fill="#fff" stroke="#fff" stroke-width="3.5" stroke-linejoin="round">Ga</text><text xml:space="preserve" x="615.07" y="779.75" font-size="8.50" fill="#fff" stroke="#fff" stroke-width="3.5" stroke-linejoin="round">As</text><text xml:space="preserve" x="615.07" y="770.38" font-size="8.50" fill="#fff" stroke="#fff" stroke-width="3.5" stroke-linejoin="round">0/−</text><text xml:space="preserve" x="598.40" y="776.00" font-size="12.50" fill="#1E9628">Ga</text><text xml:space="preserve" x="615.07" y="779.75" font-size="8.50" fill="#1E9628">As</text><text xml:space="preserve" x="615.07" y="770.38" font-size="8.50" fill="#1E9628">0/−</text></g><g><rect x="590.40" y="801.30" width="23.39" height="13.12" fill="#fff"/><text xml:space="preserve" x="591.90" y="811.30" font-size="12.50" font-style="italic" fill="#fff" stroke="#fff" stroke-width="3.5" stroke-linejoin="round">V</text><text xml:space="preserve" x="600.24" y="815.05" font-size="8.50" fill="#fff" stroke="#fff" stroke-width="3.5" stroke-linejoin="round">Ga</text><text xml:space="preserve" x="600.24" y="805.67" font-size="8.50" fill="#fff" stroke="#fff" stroke-width="3.5" stroke-linejoin="round">0/−</text><text xml:space="preserve" x="591.90" y="811.30" font-size="12.50" font-style="italic" fill="#F5962D">V</text><text xml:space="preserve" x="600.24" y="815.05" font-size="8.50" fill="#F5962D">Ga</text><text xml:space="preserve" x="600.24" y="805.67" font-size="8.50" fill="#F5962D">0/−</text></g><g><rect x="608.40" y="820.20" width="29.64" height="13.12" fill="#fff"/><text xml:space="preserve" x="609.90" y="830.20" font-size="12.50" fill="#fff" stroke="#fff" stroke-width="3.5" stroke-linejoin="round">As</text><text xml:space="preserve" x="624.49" y="833.95" font-size="8.50" fill="#fff" stroke="#fff" stroke-width="3.5" stroke-linejoin="round">Ga</text><text xml:space="preserve" x="624.49" y="824.58" font-size="8.50" fill="#fff" stroke="#fff" stroke-width="3.5" stroke-linejoin="round">+/0</text><text xml:space="preserve" x="609.90" y="830.20" font-size="12.50" fill="#1E1EA0">As</text><text xml:space="preserve" x="624.49" y="833.95" font-size="8.50" fill="#1E1EA0">Ga</text><text xml:space="preserve" x="624.49" y="824.58" font-size="8.50" fill="#1E1EA0">+/0</text></g><g><rect x="712.30" y="669.50" width="80.06" height="13.12" fill="#fff"/><text xml:space="preserve" x="713.80" y="679.50" font-size="12.50" fill="#fff" stroke="#fff" stroke-width="3.5" stroke-linejoin="round">(O</text><text xml:space="preserve" x="727.69" y="683.00" font-size="8.50" fill="#fff" stroke="#fff" stroke-width="3.5" stroke-linejoin="round">As</text><text xml:space="preserve" x="737.60" y="679.50" font-size="12.50" fill="#fff" stroke="#fff" stroke-width="3.5" stroke-linejoin="round">-2As</text><text xml:space="preserve" x="763.31" y="683.00" font-size="8.50" fill="#fff" stroke="#fff" stroke-width="3.5" stroke-linejoin="round">Ga</text><text xml:space="preserve" x="774.65" y="679.50" font-size="12.50" fill="#fff" stroke="#fff" stroke-width="3.5" stroke-linejoin="round">)</text><text xml:space="preserve" x="778.81" y="674.25" font-size="8.50" fill="#fff" stroke="#fff" stroke-width="3.5" stroke-linejoin="round">+/0</text><text xml:space="preserve" x="713.80" y="679.50" font-size="12.50" fill="#1E1EDC">(O</text><text xml:space="preserve" x="727.69" y="683.00" font-size="8.50" fill="#1E1EDC">As</text><text xml:space="preserve" x="737.60" y="679.50" font-size="12.50" fill="#1E1EDC">-2As</text><text xml:space="preserve" x="763.31" y="683.00" font-size="8.50" fill="#1E1EDC">Ga</text><text xml:space="preserve" x="774.65" y="679.50" font-size="12.50" fill="#1E1EDC">)</text><text xml:space="preserve" x="778.81" y="674.25" font-size="8.50" fill="#1E1EDC">+/0</text></g><g><rect x="742.00" y="718.80" width="24.78" height="13.12" fill="#fff"/><text xml:space="preserve" x="743.50" y="728.80" font-size="12.50" fill="#fff" stroke="#fff" stroke-width="3.5" stroke-linejoin="round">O</text><text xml:space="preserve" x="753.22" y="732.55" font-size="8.50" fill="#fff" stroke="#fff" stroke-width="3.5" stroke-linejoin="round">As</text><text xml:space="preserve" x="753.22" y="723.17" font-size="8.50" fill="#fff" stroke="#fff" stroke-width="3.5" stroke-linejoin="round">+/0</text><text xml:space="preserve" x="743.50" y="728.80" font-size="12.50" fill="#C8201E">O</text><text xml:space="preserve" x="753.22" y="732.55" font-size="8.50" fill="#C8201E">As</text><text xml:space="preserve" x="753.22" y="723.17" font-size="8.50" fill="#C8201E">+/0</text></g><g><rect x="677.00" y="764.90" width="31.73" height="13.12" fill="#fff"/><text xml:space="preserve" x="678.50" y="774.90" font-size="12.50" fill="#fff" stroke="#fff" stroke-width="3.5" stroke-linejoin="round">Ga</text><text xml:space="preserve" x="695.17" y="778.65" font-size="8.50" fill="#fff" stroke="#fff" stroke-width="3.5" stroke-linejoin="round">As</text><text xml:space="preserve" x="695.17" y="769.27" font-size="8.50" fill="#fff" stroke="#fff" stroke-width="3.5" stroke-linejoin="round">0/−</text><text xml:space="preserve" x="678.50" y="774.90" font-size="12.50" fill="#1E9628">Ga</text><text xml:space="preserve" x="695.17" y="778.65" font-size="8.50" fill="#1E9628">As</text><text xml:space="preserve" x="695.17" y="769.27" font-size="8.50" fill="#1E9628">0/−</text></g><g><rect x="684.90" y="799.90" width="23.39" height="13.12" fill="#fff"/><text xml:space="preserve" x="686.40" y="809.90" font-size="12.50" font-style="italic" fill="#fff" stroke="#fff" stroke-width="3.5" stroke-linejoin="round">V</text><text xml:space="preserve" x="694.74" y="813.65" font-size="8.50" fill="#fff" stroke="#fff" stroke-width="3.5" stroke-linejoin="round">Ga</text><text xml:space="preserve" x="694.74" y="804.27" font-size="8.50" fill="#fff" stroke="#fff" stroke-width="3.5" stroke-linejoin="round">0/−</text><text xml:space="preserve" x="686.40" y="809.90" font-size="12.50" font-style="italic" fill="#F5962D">V</text><text xml:space="preserve" x="694.74" y="813.65" font-size="8.50" fill="#F5962D">Ga</text><text xml:space="preserve" x="694.74" y="804.27" font-size="8.50" fill="#F5962D">0/−</text></g><g><rect x="679.70" y="823.50" width="29.64" height="13.12" fill="#fff"/><text xml:space="preserve" x="681.20" y="833.50" font-size="12.50" fill="#fff" stroke="#fff" stroke-width="3.5" stroke-linejoin="round">As</text><text xml:space="preserve" x="695.79" y="837.25" font-size="8.50" fill="#fff" stroke="#fff" stroke-width="3.5" stroke-linejoin="round">Ga</text><text xml:space="preserve" x="695.79" y="827.88" font-size="8.50" fill="#fff" stroke="#fff" stroke-width="3.5" stroke-linejoin="round">+/0</text><text xml:space="preserve" x="681.20" y="833.50" font-size="12.50" fill="#1E1EA0">As</text><text xml:space="preserve" x="695.79" y="837.25" font-size="8.50" fill="#1E1EA0">Ga</text><text xml:space="preserve" x="695.79" y="827.88" font-size="8.50" fill="#1E1EA0">+/0</text></g></svg>
</div>
</body></html>
